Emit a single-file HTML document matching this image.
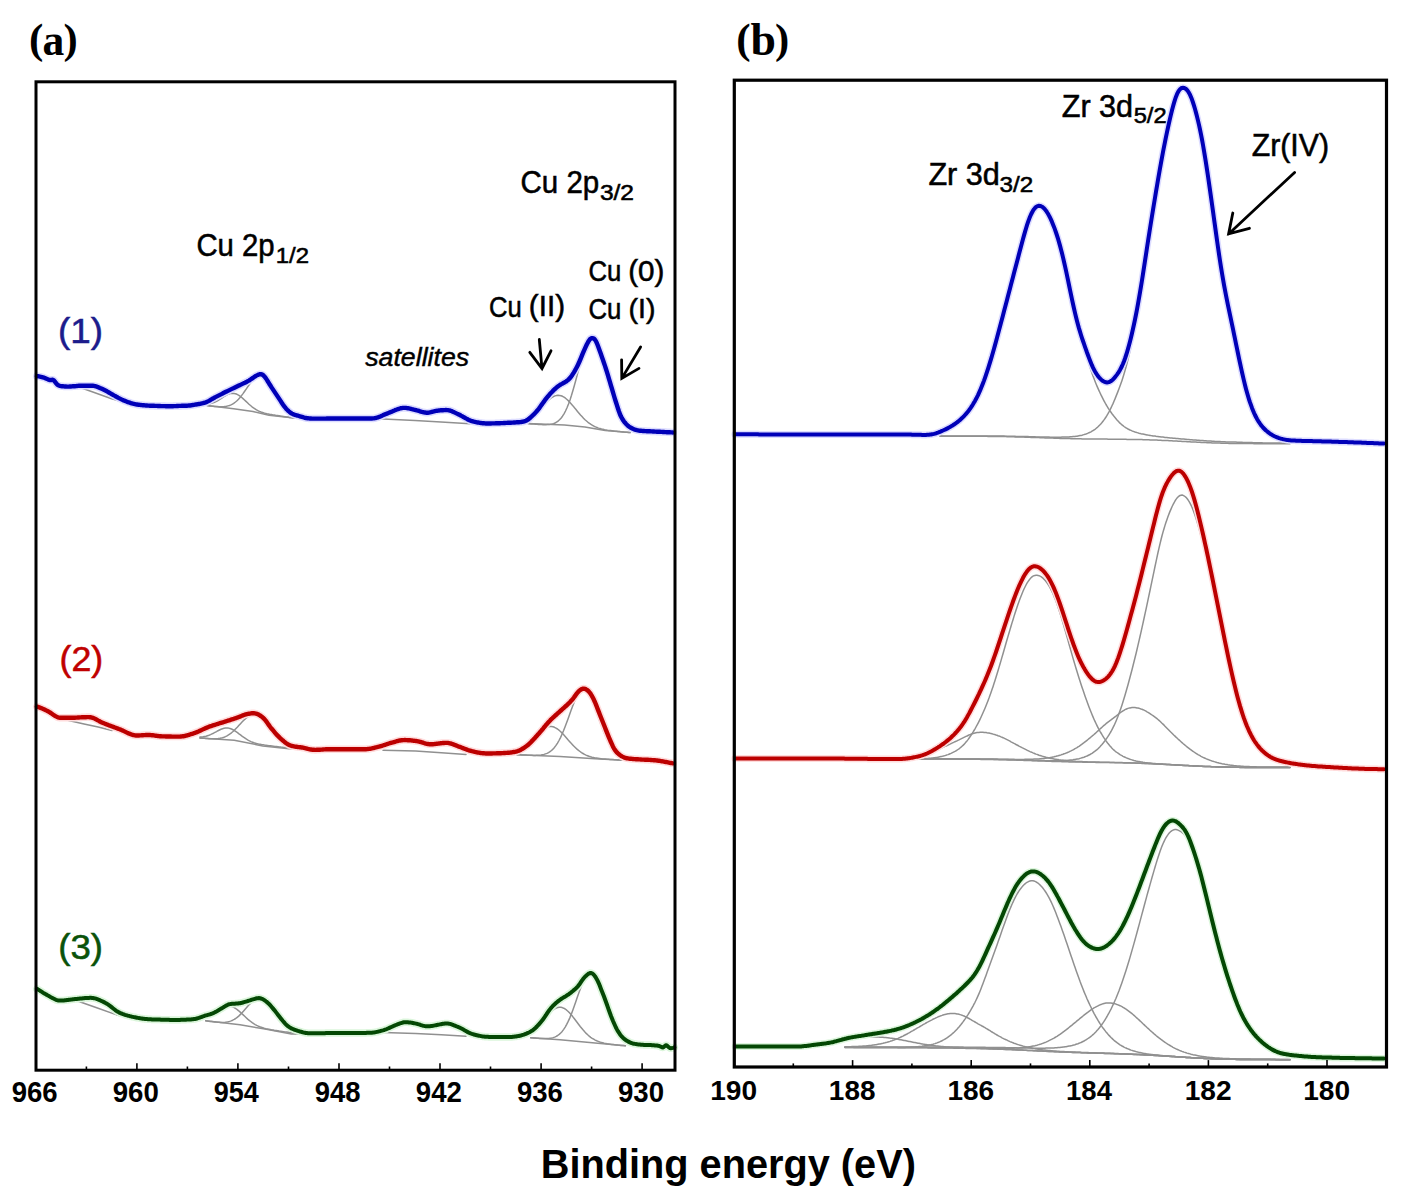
<!DOCTYPE html>
<html><head><meta charset="utf-8"><style>
html,body{margin:0;padding:0;background:#fff;}
svg{display:block;}


</style></head><body>
<svg width="1402" height="1200" viewBox="0 0 1402 1200">
<rect width="1402" height="1200" fill="#fff"/>
<polyline points="75.0,386.5 83.0,388.5 97.0,393.5 111.6,398.8 125.0,402.5" fill="none" stroke="#909090" stroke-width="1.5" stroke-linejoin="round" stroke-linecap="round" />
<polyline points="207.0,405.5 233.6,408.8 253.0,411.6 269.0,415.2 294.0,418.0" fill="none" stroke="#909090" stroke-width="1.5" stroke-linejoin="round" stroke-linecap="round" />
<polyline points="207.0,405.5 208.5,405.7 210.0,405.9 211.5,406.1 213.0,406.2 214.5,406.4 216.0,406.5 217.5,406.6 219.0,406.7 220.5,406.8 222.0,406.8 223.5,406.7 225.0,406.5 226.5,406.3 228.0,405.9 229.5,405.5 231.0,404.9 232.5,404.1 234.0,403.1 235.5,402.0 237.0,400.7 238.5,399.2 240.0,397.5 241.5,395.6 243.0,393.6 244.5,391.5 246.0,389.3 247.5,387.1 249.0,385.0 250.5,382.9 252.0,381.0 253.5,379.4 255.0,378.0 256.5,376.9 258.0,376.2 259.5,376.0 261.0,376.1 262.5,376.7 264.0,377.7 265.5,379.2 267.0,381.0 268.5,383.1 270.0,385.5 271.5,388.0 273.0,390.7 274.5,393.4 276.0,396.1 277.5,398.7 279.0,401.1 280.5,403.5 282.0,405.6 283.5,407.6 285.0,409.3 286.5,410.9 288.0,412.2 289.5,413.4 291.0,414.4 292.5,415.3 294.0,416.0 295.5,416.6" fill="none" stroke="#909090" stroke-width="1.5" stroke-linejoin="round" stroke-linecap="round" />
<polyline points="207.0,404.2 208.5,404.0 210.0,403.8 211.5,403.4 213.0,402.9 214.5,402.3 216.0,401.6 217.5,400.8 219.0,399.9 220.5,398.9 222.0,398.0 223.5,397.0 225.0,396.0 226.5,395.1 228.0,394.4 229.5,393.8 231.0,393.4 232.5,393.3 234.0,393.4 235.5,393.7 237.0,394.3 238.5,395.1 240.0,396.1 241.5,397.3 243.0,398.6 244.5,400.0 246.0,401.4 247.5,402.8 249.0,404.2 250.5,405.5 252.0,406.8 253.5,407.9 255.0,408.9 256.5,409.9 258.0,410.7 259.5,411.4 261.0,412.0 262.5,412.5 264.0,413.0 265.5,413.4 267.0,413.8 268.5,414.1 270.0,414.4 271.5,414.6 273.0,414.9 274.5,415.1 276.0,415.4 277.5,415.6 279.0,415.8 280.5,416.1 282.0,416.3 283.5,416.5 285.0,416.7 286.5,416.9 288.0,417.1 289.5,417.4 291.0,417.6 292.5,417.8 294.0,418.0" fill="none" stroke="#909090" stroke-width="1.5" stroke-linejoin="round" stroke-linecap="round" />
<polyline points="378.0,418.8 415.0,420.5 441.0,422.0 470.0,423.8" fill="none" stroke="#909090" stroke-width="1.5" stroke-linejoin="round" stroke-linecap="round" />
<polyline points="528.0,423.6 564.5,425.0 584.9,427.1 605.2,430.4 630.0,432.6" fill="none" stroke="#909090" stroke-width="1.5" stroke-linejoin="round" stroke-linecap="round" />
<polyline points="528.0,418.3 529.5,417.5 531.0,416.5 532.5,415.5 534.0,414.3 535.5,413.0 537.0,411.6 538.5,410.2 540.0,408.7 541.5,407.1 543.0,405.6 544.5,404.0 546.0,402.5 547.5,401.0 549.0,399.7 550.5,398.4 552.0,397.4 553.5,396.5 555.0,395.9 556.5,395.5 558.0,395.3 559.5,395.4 561.0,395.7 562.5,396.3 564.0,397.2 565.5,398.2 567.0,399.5 568.5,400.9 570.0,402.5 571.5,404.2 573.0,405.9 574.5,407.8 576.0,409.6 577.5,411.4 579.0,413.2 580.5,415.0 582.0,416.6 583.5,418.2 585.0,419.7 586.5,421.0 588.0,422.3 589.5,423.4 591.0,424.4 592.5,425.3 594.0,426.2 595.5,426.9 597.0,427.5 598.5,428.1 600.0,428.5 601.5,429.0 603.0,429.3 604.5,429.7 606.0,429.9 607.5,430.2 609.0,430.4 610.5,430.6 612.0,430.8 613.5,431.0 615.0,431.2 616.5,431.3 618.0,431.5 619.5,431.6 621.0,431.8 622.5,431.9 624.0,432.1 625.5,432.2 627.0,432.3 628.5,432.5 630.0,432.6" fill="none" stroke="#909090" stroke-width="1.5" stroke-linejoin="round" stroke-linecap="round" />
<polyline points="528.0,423.6 529.5,423.7 531.0,423.9 532.5,424.0 534.0,424.1 535.5,424.2 537.0,424.3 538.5,424.4 540.0,424.5 541.5,424.6 543.0,424.7 544.5,424.7 546.0,424.7 547.5,424.6 549.0,424.5 550.5,424.3 552.0,424.0 553.5,423.6 555.0,423.0 556.5,422.2 558.0,421.1 559.5,419.8 561.0,418.2 562.5,416.2 564.0,413.8 565.5,411.0 567.0,407.7 568.5,404.0 570.0,399.9 571.5,395.3 573.0,390.3 574.5,385.0 576.0,379.5 577.5,373.9 579.0,368.3 580.5,362.8 582.0,357.6 583.5,352.8 585.0,348.6 586.5,345.2 588.0,342.5 589.5,340.8 591.0,340.1 592.5,340.4 594.0,341.5 595.5,343.4 597.0,346.0 598.5,349.3 600.0,353.3 601.5,357.7 603.0,362.5 604.5,367.6 606.0,372.9 607.5,378.2 609.0,383.6 610.5,388.8 612.0,393.8 613.5,398.5 615.0,402.9 616.5,407.0 618.0,410.8 619.5,414.1 621.0,417.1 622.5,419.7 624.0,422.0 625.5,424.0 627.0,425.7 628.5,427.1 630.0,428.4 631.5,429.4" fill="none" stroke="#909090" stroke-width="1.5" stroke-linejoin="round" stroke-linecap="round" />
<polyline points="62.0,718.5 69.7,720.7 84.0,724.0 98.2,727.1 112.0,730.5" fill="none" stroke="#909090" stroke-width="1.5" stroke-linejoin="round" stroke-linecap="round" />
<polyline points="200.0,737.9 234.2,740.2 262.8,745.9 289.0,748.8 300.0,749.2" fill="none" stroke="#909090" stroke-width="1.5" stroke-linejoin="round" stroke-linecap="round" />
<polyline points="200.0,737.9 201.5,738.0 203.0,738.2 204.5,738.3 206.0,738.5 207.5,738.6 209.0,738.7 210.5,738.8 212.0,738.8 213.5,738.8 215.0,738.8 216.5,738.7 218.0,738.6 219.5,738.4 221.0,738.1 222.5,737.7 224.0,737.2 225.5,736.6 227.0,735.8 228.5,734.9 230.0,733.9 231.5,732.8 233.0,731.5 234.5,730.1 236.0,728.5 237.5,727.0 239.0,725.3 240.5,723.7 242.0,722.1 243.5,720.5 245.0,719.1 246.5,717.8 248.0,716.7 249.5,715.9 251.0,715.3 252.5,715.0 254.0,715.0 255.5,715.3 257.0,715.8 258.5,716.6 260.0,717.6 261.5,718.9 263.0,720.3 264.5,721.8 266.0,723.5 267.5,725.2 269.0,727.0 270.5,728.8 272.0,730.6 273.5,732.4 275.0,734.1 276.5,735.8 278.0,737.3 279.5,738.7 281.0,740.1 282.5,741.3 284.0,742.4 285.5,743.4 287.0,744.3 288.5,745.1 290.0,745.8 291.5,746.4 293.0,746.9 294.5,747.4 296.0,747.8 297.5,748.2 299.0,748.5" fill="none" stroke="#909090" stroke-width="1.5" stroke-linejoin="round" stroke-linecap="round" />
<polyline points="200.0,737.0 201.5,736.9 203.0,736.8 204.5,736.5 206.0,736.2 207.5,735.7 209.0,735.2 210.5,734.6 212.0,733.9 213.5,733.2 215.0,732.4 216.5,731.6 218.0,730.7 219.5,730.0 221.0,729.3 222.5,728.7 224.0,728.3 225.5,728.1 227.0,728.0 228.5,728.1 230.0,728.5 231.5,729.0 233.0,729.7 234.5,730.6 236.0,731.6 237.5,732.6 239.0,733.8 240.5,734.9 242.0,736.1 243.5,737.2 245.0,738.2 246.5,739.2 248.0,740.1 249.5,740.9 251.0,741.6 252.5,742.2 254.0,742.8 255.5,743.2 257.0,743.6 258.5,744.0 260.0,744.3 261.5,744.6 263.0,744.8 264.5,745.1 266.0,745.3 267.5,745.5 269.0,745.7 270.5,745.8 272.0,746.0 273.5,746.2 275.0,746.4 276.5,746.5 278.0,746.7 279.5,746.9 281.0,747.1 282.5,747.2 284.0,747.4 285.5,747.6 287.0,747.7 288.5,747.9 290.0,748.1 291.5,748.2 293.0,748.4 294.5,748.6 296.0,748.7 297.5,748.9 299.0,749.1" fill="none" stroke="#909090" stroke-width="1.5" stroke-linejoin="round" stroke-linecap="round" />
<polyline points="383.0,750.3 415.6,750.9 441.3,752.8 466.0,754.4" fill="none" stroke="#909090" stroke-width="1.5" stroke-linejoin="round" stroke-linecap="round" />
<polyline points="517.0,754.7 560.0,756.5 595.0,758.8 624.0,760.2" fill="none" stroke="#909090" stroke-width="1.5" stroke-linejoin="round" stroke-linecap="round" />
<polyline points="517.0,751.1 518.5,750.5 520.0,749.7 521.5,748.9 523.0,747.9 524.5,746.8 526.0,745.6 527.5,744.4 529.0,743.0 530.5,741.5 532.0,740.0 533.5,738.5 535.0,736.9 536.5,735.3 538.0,733.8 539.5,732.3 541.0,731.0 542.5,729.7 544.0,728.7 545.5,727.8 547.0,727.1 548.5,726.7 550.0,726.5 551.5,726.5 553.0,726.8 554.5,727.3 556.0,728.1 557.5,729.0 559.0,730.2 560.5,731.5 562.0,733.0 563.5,734.6 565.0,736.2 566.5,737.9 568.0,739.7 569.5,741.4 571.0,743.1 572.5,744.7 574.0,746.3 575.5,747.7 577.0,749.1 578.5,750.4 580.0,751.5 581.5,752.6 583.0,753.5 584.5,754.4 586.0,755.1 587.5,755.7 589.0,756.3 590.5,756.8 592.0,757.2 593.5,757.5 595.0,757.9 596.5,758.1 598.0,758.3 599.5,758.5 601.0,758.7 602.5,758.9 604.0,759.0 605.5,759.1 607.0,759.2 608.5,759.3 610.0,759.4 611.5,759.5 613.0,759.6 614.5,759.7 616.0,759.8 617.5,759.9 619.0,759.9 620.5,760.0 622.0,760.1 623.5,760.2" fill="none" stroke="#909090" stroke-width="1.5" stroke-linejoin="round" stroke-linecap="round" />
<polyline points="517.0,754.7 518.5,754.8 520.0,754.8 521.5,754.9 523.0,755.0 524.5,755.1 526.0,755.1 527.5,755.2 529.0,755.2 530.5,755.3 532.0,755.3 533.5,755.4 535.0,755.4 536.5,755.3 538.0,755.3 539.5,755.2 541.0,755.0 542.5,754.7 544.0,754.4 545.5,753.9 547.0,753.4 548.5,752.6 550.0,751.7 551.5,750.5 553.0,749.1 554.5,747.4 556.0,745.4 557.5,743.1 559.0,740.5 560.5,737.6 562.0,734.3 563.5,730.8 565.0,727.0 566.5,723.0 568.0,718.9 569.5,714.7 571.0,710.5 572.5,706.5 574.0,702.7 575.5,699.3 577.0,696.2 578.5,693.7 580.0,691.8 581.5,690.6 583.0,690.1 584.5,690.3 586.0,691.1 587.5,692.6 589.0,694.8 590.5,697.4 592.0,700.6 593.5,704.1 595.0,708.0 596.5,712.0 598.0,716.2 599.5,720.4 601.0,724.5 602.5,728.5 604.0,732.4 605.5,736.0 607.0,739.3 608.5,742.4 610.0,745.1 611.5,747.6 613.0,749.7 614.5,751.6 616.0,753.2 617.5,754.6 619.0,755.7 620.5,756.7 622.0,757.5 623.5,758.1 625.0,758.7" fill="none" stroke="#909090" stroke-width="1.5" stroke-linejoin="round" stroke-linecap="round" />
<polyline points="70.0,999.5 76.8,1000.7 96.0,1007.5 116.7,1014.9 128.0,1017.2" fill="none" stroke="#909090" stroke-width="1.5" stroke-linejoin="round" stroke-linecap="round" />
<polyline points="205.7,1020.8 240.0,1024.8 265.0,1029.0 291.3,1033.9 300.0,1034.0" fill="none" stroke="#909090" stroke-width="1.5" stroke-linejoin="round" stroke-linecap="round" />
<polyline points="205.7,1020.8 207.2,1021.0 208.7,1021.2 210.2,1021.4 211.7,1021.6 213.2,1021.8 214.7,1021.9 216.2,1022.1 217.7,1022.2 219.2,1022.3 220.7,1022.4 222.2,1022.4 223.7,1022.4 225.2,1022.3 226.7,1022.1 228.2,1021.8 229.7,1021.4 231.2,1020.9 232.7,1020.2 234.2,1019.4 235.7,1018.5 237.2,1017.3 238.7,1016.1 240.2,1014.6 241.7,1013.1 243.2,1011.4 244.7,1009.7 246.2,1008.0 247.7,1006.2 249.2,1004.6 250.7,1003.1 252.2,1001.8 253.7,1000.7 255.2,999.9 256.7,999.4 258.2,999.2 259.7,999.4 261.2,999.9 262.7,1000.6 264.2,1001.6 265.7,1002.8 267.2,1004.2 268.7,1005.8 270.2,1007.5 271.7,1009.3 273.2,1011.2 274.7,1013.1 276.2,1015.0 277.7,1016.9 279.2,1018.7 280.7,1020.4 282.2,1022.0 283.7,1023.6 285.2,1025.0 286.7,1026.3 288.2,1027.4 289.7,1028.5 291.2,1029.4 292.7,1030.2 294.2,1031.0 295.7,1031.6 297.2,1032.2 298.7,1032.7" fill="none" stroke="#909090" stroke-width="1.5" stroke-linejoin="round" stroke-linecap="round" />
<polyline points="205.7,1017.2 207.2,1016.7 208.7,1016.0 210.2,1015.3 211.7,1014.5 213.2,1013.6 214.7,1012.6 216.2,1011.6 217.7,1010.6 219.2,1009.6 220.7,1008.7 222.2,1007.9 223.7,1007.2 225.2,1006.6 226.7,1006.3 228.2,1006.1 229.7,1006.2 231.2,1006.4 232.7,1006.9 234.2,1007.6 235.7,1008.5 237.2,1009.6 238.7,1010.8 240.2,1012.1 241.7,1013.5 243.2,1014.9 244.7,1016.3 246.2,1017.7 247.7,1019.1 249.2,1020.3 250.7,1021.5 252.2,1022.7 253.7,1023.7 255.2,1024.6 256.7,1025.4 258.2,1026.1 259.7,1026.8 261.2,1027.3 262.7,1027.8 264.2,1028.3 265.7,1028.7 267.2,1029.0 268.7,1029.3 270.2,1029.6 271.7,1029.9 273.2,1030.1 274.7,1030.4 276.2,1030.6 277.7,1030.8 279.2,1031.1 280.7,1031.3 282.2,1031.5 283.7,1031.7 285.2,1031.9 286.7,1032.1 288.2,1032.3 289.7,1032.6 291.2,1032.8 292.7,1033.0 294.2,1033.2 295.7,1033.4 297.2,1033.6 298.7,1033.8" fill="none" stroke="#909090" stroke-width="1.5" stroke-linejoin="round" stroke-linecap="round" />
<polyline points="383.0,1032.6 415.6,1033.6 441.3,1034.8 466.0,1036.3" fill="none" stroke="#909090" stroke-width="1.5" stroke-linejoin="round" stroke-linecap="round" />
<polyline points="530.7,1037.7 560.0,1039.8 595.0,1043.0 625.5,1045.8" fill="none" stroke="#909090" stroke-width="1.5" stroke-linejoin="round" stroke-linecap="round" />
<polyline points="530.7,1031.9 532.2,1030.9 533.7,1029.8 535.2,1028.6 536.7,1027.3 538.2,1025.8 539.7,1024.3 541.2,1022.7 542.7,1021.0 544.2,1019.2 545.7,1017.5 547.2,1015.7 548.7,1014.1 550.2,1012.5 551.7,1011.1 553.2,1009.9 554.7,1008.8 556.2,1008.0 557.7,1007.5 559.2,1007.2 560.7,1007.3 562.2,1007.6 563.7,1008.2 565.2,1009.0 566.7,1010.2 568.2,1011.5 569.7,1013.1 571.2,1014.8 572.7,1016.6 574.2,1018.5 575.7,1020.5 577.2,1022.5 578.7,1024.5 580.2,1026.5 581.7,1028.3 583.2,1030.1 584.7,1031.8 586.2,1033.4 587.7,1034.8 589.2,1036.1 590.7,1037.3 592.2,1038.3 593.7,1039.2 595.2,1040.1 596.7,1040.8 598.2,1041.4 599.7,1042.0 601.2,1042.4 602.7,1042.8 604.2,1043.2 605.7,1043.5 607.2,1043.8 608.7,1044.0 610.2,1044.2 611.7,1044.4 613.2,1044.6 614.7,1044.8 616.2,1044.9 617.7,1045.1 619.2,1045.2 620.7,1045.4 622.2,1045.5 623.7,1045.6 625.2,1045.8" fill="none" stroke="#909090" stroke-width="1.5" stroke-linejoin="round" stroke-linecap="round" />
<polyline points="530.7,1037.7 532.2,1037.8 533.7,1037.9 535.2,1038.0 536.7,1038.2 538.2,1038.3 539.7,1038.4 541.2,1038.4 542.7,1038.5 544.2,1038.5 545.7,1038.5 547.2,1038.5 548.7,1038.4 550.2,1038.2 551.7,1038.0 553.2,1037.6 554.7,1037.1 556.2,1036.4 557.7,1035.5 559.2,1034.4 560.7,1033.0 562.2,1031.4 563.7,1029.4 565.2,1027.1 566.7,1024.4 568.2,1021.4 569.7,1018.1 571.2,1014.4 572.7,1010.4 574.2,1006.3 575.7,1002.0 577.2,997.6 578.7,993.3 580.2,989.2 581.7,985.3 583.2,981.8 584.7,978.9 586.2,976.5 587.7,974.8 589.2,973.9 590.7,973.7 592.2,974.2 593.7,975.4 595.2,977.2 596.7,979.5 598.2,982.3 599.7,985.6 601.2,989.2 602.7,993.1 604.2,997.1 605.7,1001.3 607.2,1005.5 608.7,1009.6 610.2,1013.6 611.7,1017.4 613.2,1021.0 614.7,1024.3 616.2,1027.4 617.7,1030.1 619.2,1032.6 620.7,1034.9 622.2,1036.8 623.7,1038.5 625.2,1039.9 626.7,1041.2" fill="none" stroke="#909090" stroke-width="1.5" stroke-linejoin="round" stroke-linecap="round" />
<polyline points="940.0,436.2 941.0,436.2 942.0,436.2 943.0,436.2 944.0,436.2 945.0,436.2 946.0,436.2 947.0,436.2 948.0,436.2 949.0,436.2 950.0,436.2 951.0,436.2 952.0,436.2 953.0,436.2 954.0,436.2 955.0,436.2 956.0,436.2 957.0,436.2 958.0,436.2 959.0,436.2 960.0,436.2 961.0,436.2 962.0,436.2 963.0,436.2 964.0,436.2 965.0,436.2 966.0,436.2 967.0,436.2 968.0,436.2 969.0,436.2 970.0,436.2 971.0,436.2 972.0,436.2 973.0,436.2 974.0,436.2 975.0,436.3 976.0,436.3 977.0,436.3 978.0,436.3 979.0,436.3 980.0,436.3 981.0,436.3 982.0,436.3 983.0,436.3 984.0,436.3 985.0,436.3 986.0,436.3 987.0,436.3 988.0,436.4 989.0,436.4 990.0,436.4 991.0,436.4 992.0,436.4 993.0,436.4 994.0,436.4 995.0,436.4 996.0,436.5 997.0,436.5 998.0,436.5 999.0,436.5 1000.0,436.5 1001.0,436.5 1002.0,436.6 1003.0,436.6 1004.0,436.6 1005.0,436.6 1006.0,436.6 1007.0,436.7 1008.0,436.7 1009.0,436.7 1010.0,436.7 1011.0,436.8 1012.0,436.8 1013.0,436.8 1014.0,436.8 1015.0,436.9 1016.0,436.9 1017.0,436.9 1018.0,436.9 1019.0,437.0 1020.0,437.0 1021.0,437.0 1022.0,437.1 1023.0,437.1 1024.0,437.1 1025.0,437.2 1026.0,437.2 1027.0,437.2 1028.0,437.3 1029.0,437.3 1030.0,437.3 1031.0,437.4 1032.0,437.4 1033.0,437.4 1034.0,437.5 1035.0,437.5 1036.0,437.5 1037.0,437.6 1038.0,437.6 1039.0,437.6 1040.0,437.7 1041.0,437.7 1042.0,437.8 1043.0,437.8 1044.0,437.8 1045.0,437.9 1046.0,437.9 1047.0,437.9 1048.0,438.0 1049.0,438.0 1050.0,438.0 1051.0,438.1 1052.0,438.1 1053.0,438.1 1054.0,438.2 1055.0,438.2 1056.0,438.2 1057.0,438.3 1058.0,438.3 1059.0,438.3 1060.0,438.4 1061.0,438.4 1062.0,438.4 1063.0,438.4 1064.0,438.5 1065.0,438.5 1066.0,438.5 1067.0,438.6 1068.0,438.6 1069.0,438.6 1070.0,438.6 1071.0,438.7 1072.0,438.7 1073.0,438.7 1074.0,438.7 1075.0,438.7 1076.0,438.8 1077.0,438.8 1078.0,438.8 1079.0,438.8 1080.0,438.8 1081.0,438.8 1082.0,438.9 1083.0,438.9 1084.0,438.9 1085.0,438.9 1086.0,438.9 1087.0,438.9 1088.0,439.0 1089.0,439.0 1090.0,439.0 1091.0,439.0 1092.0,439.0 1093.0,439.0 1094.0,439.0 1095.0,439.0 1096.0,439.0 1097.0,439.1 1098.0,439.1 1099.0,439.1 1100.0,439.1 1101.0,439.1 1102.0,439.1 1103.0,439.1 1104.0,439.1 1105.0,439.1 1106.0,439.1 1107.0,439.1 1108.0,439.2 1109.0,439.2 1110.0,439.2 1111.0,439.2 1112.0,439.2 1113.0,439.2 1114.0,439.2 1115.0,439.2 1116.0,439.2 1117.0,439.2 1118.0,439.2 1119.0,439.3 1120.0,439.3 1121.0,439.3 1122.0,439.3 1123.0,439.3 1124.0,439.3 1125.0,439.3 1126.0,439.3 1127.0,439.4 1128.0,439.4 1129.0,439.4 1130.0,439.4 1131.0,439.4 1132.0,439.4 1133.0,439.5 1134.0,439.5 1135.0,439.5 1136.0,439.5 1137.0,439.5 1138.0,439.6 1139.0,439.6 1140.0,439.6 1141.0,439.6 1142.0,439.6 1143.0,439.7 1144.0,439.7 1145.0,439.7 1146.0,439.8 1147.0,439.8 1148.0,439.8 1149.0,439.8 1150.0,439.9 1151.0,439.9 1152.0,439.9 1153.0,440.0 1154.0,440.0 1155.0,440.1 1156.0,440.1 1157.0,440.1 1158.0,440.2 1159.0,440.2 1160.0,440.3 1161.0,440.3 1162.0,440.4 1163.0,440.4 1164.0,440.4 1165.0,440.5 1166.0,440.5 1167.0,440.6 1168.0,440.6 1169.0,440.7 1170.0,440.7 1171.0,440.8 1172.0,440.8 1173.0,440.9 1174.0,440.9 1175.0,441.0 1176.0,441.1 1177.0,441.1 1178.0,441.2 1179.0,441.2 1180.0,441.3 1181.0,441.3 1182.0,441.4 1183.0,441.4 1184.0,441.5 1185.0,441.6 1186.0,441.6 1187.0,441.7 1188.0,441.7 1189.0,441.8 1190.0,441.8 1191.0,441.9 1192.0,441.9 1193.0,442.0 1194.0,442.0 1195.0,442.1 1196.0,442.1 1197.0,442.2 1198.0,442.2 1199.0,442.3 1200.0,442.3 1201.0,442.4 1202.0,442.4 1203.0,442.5 1204.0,442.5 1205.0,442.6 1206.0,442.6 1207.0,442.7 1208.0,442.7 1209.0,442.7 1210.0,442.8 1211.0,442.8 1212.0,442.9 1213.0,442.9 1214.0,442.9 1215.0,443.0 1216.0,443.0 1217.0,443.0 1218.0,443.1 1219.0,443.1 1220.0,443.1 1221.0,443.2 1222.0,443.2 1223.0,443.2 1224.0,443.2 1225.0,443.3 1226.0,443.3 1227.0,443.3 1228.0,443.3 1229.0,443.4 1230.0,443.4 1231.0,443.4 1232.0,443.4 1233.0,443.4 1234.0,443.4 1235.0,443.5 1236.0,443.5 1237.0,443.5 1238.0,443.5 1239.0,443.5 1240.0,443.5 1241.0,443.5 1242.0,443.6 1243.0,443.6 1244.0,443.6 1245.0,443.6 1246.0,443.6 1247.0,443.6 1248.0,443.6 1249.0,443.6 1250.0,443.6 1251.0,443.6 1252.0,443.6 1253.0,443.6 1254.0,443.7 1255.0,443.7 1256.0,443.7 1257.0,443.7 1258.0,443.7 1259.0,443.7 1260.0,443.7 1261.0,443.7 1262.0,443.7 1263.0,443.7 1264.0,443.7 1265.0,443.7 1266.0,443.7 1267.0,443.7 1268.0,443.7 1269.0,443.7 1270.0,443.7 1271.0,443.7 1272.0,443.7 1273.0,443.7 1274.0,443.7 1275.0,443.7 1276.0,443.7 1277.0,443.7 1278.0,443.7 1279.0,443.7 1280.0,443.7 1281.0,443.7 1282.0,443.7 1283.0,443.7 1284.0,443.7 1285.0,443.7 1286.0,443.7 1287.0,443.7 1288.0,443.7 1289.0,443.7 1290.0,443.7" fill="none" stroke="#909090" stroke-width="1.5" stroke-linejoin="round" stroke-linecap="round" />
<polyline points="940.0,431.9 941.0,431.5 942.0,431.1 943.0,430.7 944.0,430.3 945.0,429.8 946.0,429.3 947.0,428.8 948.0,428.3 949.0,427.8 950.0,427.2 951.0,426.6 952.0,426.0 953.0,425.4 954.0,424.8 955.0,424.1 956.0,423.4 957.0,422.6 958.0,421.9 959.0,421.1 960.0,420.2 961.0,419.3 962.0,418.4 963.0,417.4 964.0,416.4 965.0,415.4 966.0,414.2 967.0,413.1 968.0,411.8 969.0,410.5 970.0,409.1 971.0,407.7 972.0,406.2 973.0,404.6 974.0,403.0 975.0,401.2 976.0,399.4 977.0,397.4 978.0,395.4 979.0,393.3 980.0,391.0 981.0,388.7 982.0,386.2 983.0,383.6 984.0,380.9 985.0,378.2 986.0,375.3 987.0,372.3 988.0,369.2 989.0,366.1 990.0,362.8 991.0,359.5 992.0,356.1 993.0,352.6 994.0,349.1 995.0,345.5 996.0,341.9 997.0,338.2 998.0,334.5 999.0,330.8 1000.0,327.0 1001.0,323.2 1002.0,319.4 1003.0,315.6 1004.0,311.8 1005.0,308.0 1006.0,304.2 1007.0,300.3 1008.0,296.5 1009.0,292.7 1010.0,288.9 1011.0,285.0 1012.0,281.2 1013.0,277.4 1014.0,273.6 1015.0,269.8 1016.0,266.0 1017.0,262.2 1018.0,258.4 1019.0,254.6 1020.0,250.8 1021.0,247.0 1022.0,243.3 1023.0,239.6 1024.0,235.9 1025.0,232.4 1026.0,229.1 1027.0,225.8 1028.0,222.8 1029.0,220.0 1030.0,217.4 1031.0,215.1 1032.0,213.1 1033.0,211.3 1034.0,209.9 1035.0,208.7 1036.0,207.7 1037.0,207.1 1038.0,206.7 1039.0,206.5 1040.0,206.6 1041.0,206.9 1042.0,207.5 1043.0,208.2 1044.0,209.1 1045.0,210.2 1046.0,211.5 1047.0,213.0 1048.0,214.6 1049.0,216.4 1050.0,218.4 1051.0,220.6 1052.0,222.9 1053.0,225.3 1054.0,227.9 1055.0,230.7 1056.0,233.6 1057.0,236.6 1058.0,239.8 1059.0,243.2 1060.0,246.8 1061.0,250.6 1062.0,254.6 1063.0,258.7 1064.0,263.1 1065.0,267.6 1066.0,272.2 1067.0,277.0 1068.0,281.8 1069.0,286.7 1070.0,291.6 1071.0,296.5 1072.0,301.3 1073.0,306.1 1074.0,310.7 1075.0,315.2 1076.0,319.5 1077.0,323.6 1078.0,327.6 1079.0,331.3 1080.0,334.9 1081.0,338.4 1082.0,341.7 1083.0,345.0 1084.0,348.2 1085.0,351.4 1086.0,354.6 1087.0,357.8 1088.0,361.0 1089.0,364.1 1090.0,367.2 1091.0,370.2 1092.0,373.2 1093.0,376.0 1094.0,378.6 1095.0,381.2 1096.0,383.7 1097.0,386.1 1098.0,388.4 1099.0,390.6 1100.0,392.7 1101.0,394.9 1102.0,396.9 1103.0,398.9 1104.0,400.8 1105.0,402.7 1106.0,404.5 1107.0,406.2 1108.0,407.8 1109.0,409.4 1110.0,410.9 1111.0,412.3 1112.0,413.7 1113.0,415.0 1114.0,416.3 1115.0,417.5 1116.0,418.7 1117.0,419.9 1118.0,421.0 1119.0,422.1 1120.0,423.1 1121.0,424.0 1122.0,424.9 1123.0,425.7 1124.0,426.5 1125.0,427.2 1126.0,427.8 1127.0,428.4 1128.0,429.0 1129.0,429.5 1130.0,430.0 1131.0,430.4 1132.0,430.9 1133.0,431.3 1134.0,431.6 1135.0,432.0 1136.0,432.3 1137.0,432.6 1138.0,432.9 1139.0,433.2 1140.0,433.4 1141.0,433.7 1142.0,433.9 1143.0,434.1 1144.0,434.3 1145.0,434.5 1146.0,434.7 1147.0,434.9 1148.0,435.1 1149.0,435.2 1150.0,435.4 1151.0,435.6 1152.0,435.7 1153.0,435.9 1154.0,436.0 1155.0,436.1 1156.0,436.3 1157.0,436.4 1158.0,436.5 1159.0,436.7 1160.0,436.8 1161.0,436.9 1162.0,437.0 1163.0,437.1 1164.0,437.2 1165.0,437.4 1166.0,437.5 1167.0,437.6 1168.0,437.7 1169.0,437.8 1170.0,437.9 1171.0,438.0 1172.0,438.1 1173.0,438.2 1174.0,438.2 1175.0,438.3 1176.0,438.4 1177.0,438.5 1178.0,438.6 1179.0,438.7 1180.0,438.8 1181.0,438.9 1182.0,439.0 1183.0,439.1 1184.0,439.1 1185.0,439.2 1186.0,439.3 1187.0,439.4 1188.0,439.5 1189.0,439.6 1190.0,439.7 1191.0,439.7 1192.0,439.8 1193.0,439.9 1194.0,440.0 1195.0,440.0 1196.0,440.1 1197.0,440.2 1198.0,440.3 1199.0,440.3 1200.0,440.4 1201.0,440.5 1202.0,440.5 1203.0,440.6 1204.0,440.7 1205.0,440.8 1206.0,440.8 1207.0,440.9 1208.0,440.9 1209.0,441.0 1210.0,441.1 1211.0,441.1 1212.0,441.2 1213.0,441.3 1214.0,441.3 1215.0,441.4 1216.0,441.4 1217.0,441.5 1218.0,441.5 1219.0,441.6 1220.0,441.6 1221.0,441.7 1222.0,441.7 1223.0,441.8 1224.0,441.8 1225.0,441.8 1226.0,441.9 1227.0,441.9 1228.0,441.9 1229.0,442.0 1230.0,442.0 1231.0,442.0 1232.0,442.0 1233.0,442.1 1234.0,442.1 1235.0,442.1 1236.0,442.1 1237.0,442.2 1238.0,442.2 1239.0,442.2 1240.0,442.3 1241.0,442.3 1242.0,442.3 1243.0,442.4 1244.0,442.4 1245.0,442.4 1246.0,442.5 1247.0,442.5 1248.0,442.5 1249.0,442.6 1250.0,442.6 1251.0,442.6 1252.0,442.6 1253.0,442.7 1254.0,442.7 1255.0,442.7 1256.0,442.7 1257.0,442.8 1258.0,442.8 1259.0,442.8 1260.0,442.8 1261.0,442.8 1262.0,442.8 1263.0,442.9 1264.0,442.9 1265.0,442.9 1266.0,442.9 1267.0,442.9 1268.0,442.9 1269.0,442.9 1270.0,442.9 1271.0,442.9 1272.0,442.9 1273.0,442.9 1274.0,443.0 1275.0,443.0 1276.0,443.0 1277.0,443.0 1278.0,443.0 1279.0,443.0 1280.0,443.0 1281.0,443.0 1282.0,443.0 1283.0,443.0 1284.0,443.0 1285.0,443.0 1286.0,443.0 1287.0,443.0 1288.0,443.0 1289.0,443.0 1290.0,442.9" fill="none" stroke="#909090" stroke-width="1.5" stroke-linejoin="round" stroke-linecap="round" />
<polyline points="940.0,436.0 941.0,436.0 942.0,436.0 943.0,436.0 944.0,436.0 945.0,435.9 946.0,435.9 947.0,435.9 948.0,435.9 949.0,435.9 950.0,435.9 951.0,435.9 952.0,435.9 953.0,435.9 954.0,435.9 955.0,435.9 956.0,435.9 957.0,435.9 958.0,435.9 959.0,435.9 960.0,435.9 961.0,435.9 962.0,435.9 963.0,435.9 964.0,435.9 965.0,435.9 966.0,435.9 967.0,435.9 968.0,435.9 969.0,435.9 970.0,435.9 971.0,435.9 972.0,435.9 973.0,435.9 974.0,435.9 975.0,435.9 976.0,435.9 977.0,435.9 978.0,435.9 979.0,435.9 980.0,435.9 981.0,435.9 982.0,435.9 983.0,435.9 984.0,435.9 985.0,436.0 986.0,436.0 987.0,436.0 988.0,436.0 989.0,436.0 990.0,436.0 991.0,436.0 992.0,436.0 993.0,436.0 994.0,436.0 995.0,436.0 996.0,436.0 997.0,436.0 998.0,436.1 999.0,436.1 1000.0,436.1 1001.0,436.1 1002.0,436.1 1003.0,436.1 1004.0,436.1 1005.0,436.2 1006.0,436.2 1007.0,436.2 1008.0,436.2 1009.0,436.2 1010.0,436.2 1011.0,436.3 1012.0,436.3 1013.0,436.3 1014.0,436.3 1015.0,436.3 1016.0,436.4 1017.0,436.4 1018.0,436.4 1019.0,436.4 1020.0,436.5 1021.0,436.5 1022.0,436.5 1023.0,436.5 1024.0,436.6 1025.0,436.6 1026.0,436.6 1027.0,436.6 1028.0,436.6 1029.0,436.7 1030.0,436.7 1031.0,436.7 1032.0,436.8 1033.0,436.8 1034.0,436.8 1035.0,436.8 1036.0,436.9 1037.0,436.9 1038.0,436.9 1039.0,436.9 1040.0,437.0 1041.0,437.0 1042.0,437.0 1043.0,437.0 1044.0,437.1 1045.0,437.1 1046.0,437.1 1047.0,437.1 1048.0,437.1 1049.0,437.1 1050.0,437.2 1051.0,437.2 1052.0,437.2 1053.0,437.2 1054.0,437.2 1055.0,437.2 1056.0,437.2 1057.0,437.2 1058.0,437.2 1059.0,437.2 1060.0,437.2 1061.0,437.2 1062.0,437.1 1063.0,437.1 1064.0,437.1 1065.0,437.1 1066.0,437.0 1067.0,437.0 1068.0,437.0 1069.0,436.9 1070.0,436.8 1071.0,436.8 1072.0,436.7 1073.0,436.6 1074.0,436.5 1075.0,436.4 1076.0,436.3 1077.0,436.2 1078.0,436.0 1079.0,435.8 1080.0,435.6 1081.0,435.4 1082.0,435.2 1083.0,434.9 1084.0,434.6 1085.0,434.3 1086.0,434.0 1087.0,433.6 1088.0,433.2 1089.0,432.7 1090.0,432.3 1091.0,431.8 1092.0,431.2 1093.0,430.6 1094.0,430.0 1095.0,429.3 1096.0,428.5 1097.0,427.7 1098.0,426.8 1099.0,425.8 1100.0,424.8 1101.0,423.7 1102.0,422.5 1103.0,421.2 1104.0,419.9 1105.0,418.5 1106.0,417.0 1107.0,415.4 1108.0,413.7 1109.0,411.9 1110.0,410.0 1111.0,407.9 1112.0,405.8 1113.0,403.6 1114.0,401.2 1115.0,398.9 1116.0,396.4 1117.0,393.9 1118.0,391.4 1119.0,388.8 1120.0,386.1 1121.0,383.3 1122.0,380.4 1123.0,377.3 1124.0,374.0 1125.0,370.6 1126.0,367.0 1127.0,363.2 1128.0,359.3 1129.0,355.1 1130.0,350.9 1131.0,346.4 1132.0,341.8 1133.0,337.0 1134.0,332.1 1135.0,327.0 1136.0,321.7 1137.0,316.2 1138.0,310.5 1139.0,304.6 1140.0,298.6 1141.0,292.3 1142.0,285.9 1143.0,279.4 1144.0,272.8 1145.0,266.1 1146.0,259.4 1147.0,252.7 1148.0,246.1 1149.0,239.5 1150.0,233.0 1151.0,226.6 1152.0,220.3 1153.0,214.0 1154.0,207.8 1155.0,201.6 1156.0,195.5 1157.0,189.5 1158.0,183.6 1159.0,177.7 1160.0,171.9 1161.0,166.2 1162.0,160.7 1163.0,155.3 1164.0,150.0 1165.0,144.9 1166.0,139.9 1167.0,135.1 1168.0,130.5 1169.0,125.9 1170.0,121.5 1171.0,117.2 1172.0,113.1 1173.0,109.2 1174.0,105.6 1175.0,102.3 1176.0,99.3 1177.0,96.8 1178.0,94.7 1179.0,93.0 1180.0,91.7 1181.0,90.9 1182.0,90.4 1183.0,90.2 1184.0,90.3 1185.0,90.7 1186.0,91.3 1187.0,92.3 1188.0,93.6 1189.0,95.1 1190.0,97.0 1191.0,99.2 1192.0,101.7 1193.0,104.6 1194.0,107.7 1195.0,111.0 1196.0,114.6 1197.0,118.5 1198.0,122.6 1199.0,126.9 1200.0,131.4 1201.0,136.3 1202.0,141.4 1203.0,146.9 1204.0,152.6 1205.0,158.6 1206.0,164.9 1207.0,171.4 1208.0,178.0 1209.0,184.8 1210.0,191.8 1211.0,198.8 1212.0,205.9 1213.0,213.1 1214.0,220.3 1215.0,227.5 1216.0,234.7 1217.0,241.8 1218.0,248.8 1219.0,255.6 1220.0,262.2 1221.0,268.6 1222.0,274.8 1223.0,280.6 1224.0,286.2 1225.0,291.6 1226.0,296.8 1227.0,301.8 1228.0,306.7 1229.0,311.5 1230.0,316.3 1231.0,321.0 1232.0,325.8 1233.0,330.6 1234.0,335.4 1235.0,340.3 1236.0,345.1 1237.0,350.0 1238.0,354.8 1239.0,359.6 1240.0,364.3 1241.0,368.9 1242.0,373.5 1243.0,377.8 1244.0,382.1 1245.0,386.1 1246.0,390.0 1247.0,393.7 1248.0,397.1 1249.0,400.4 1250.0,403.4 1251.0,406.3 1252.0,408.9 1253.0,411.4 1254.0,413.7 1255.0,415.9 1256.0,417.9 1257.0,419.8 1258.0,421.5 1259.0,423.1 1260.0,424.6 1261.0,425.9 1262.0,427.2 1263.0,428.3 1264.0,429.4 1265.0,430.4 1266.0,431.3 1267.0,432.1 1268.0,432.9 1269.0,433.7 1270.0,434.4 1271.0,435.1 1272.0,435.7 1273.0,436.2 1274.0,436.8 1275.0,437.2 1276.0,437.7 1277.0,438.1 1278.0,438.5 1279.0,438.8 1280.0,439.1 1281.0,439.4 1282.0,439.7 1283.0,439.9 1284.0,440.1 1285.0,440.3 1286.0,440.5 1287.0,440.7 1288.0,440.8 1289.0,441.0 1290.0,441.1" fill="none" stroke="#909090" stroke-width="1.5" stroke-linejoin="round" stroke-linecap="round" />
<polyline points="915.0,759.0 916.0,759.0 917.0,759.0 918.0,759.0 919.0,759.0 920.0,759.0 921.0,759.0 922.0,759.0 923.0,759.0 924.0,759.0 925.0,759.1 926.0,759.1 927.0,759.1 928.0,759.1 929.0,759.1 930.0,759.1 931.0,759.1 932.0,759.1 933.0,759.1 934.0,759.1 935.0,759.1 936.0,759.1 937.0,759.1 938.0,759.1 939.0,759.1 940.0,759.1 941.0,759.1 942.0,759.1 943.0,759.1 944.0,759.1 945.0,759.1 946.0,759.1 947.0,759.1 948.0,759.1 949.0,759.1 950.0,759.1 951.0,759.1 952.0,759.1 953.0,759.1 954.0,759.1 955.0,759.1 956.0,759.1 957.0,759.1 958.0,759.1 959.0,759.2 960.0,759.2 961.0,759.2 962.0,759.2 963.0,759.2 964.0,759.2 965.0,759.2 966.0,759.2 967.0,759.2 968.0,759.2 969.0,759.2 970.0,759.2 971.0,759.2 972.0,759.3 973.0,759.3 974.0,759.3 975.0,759.3 976.0,759.3 977.0,759.3 978.0,759.3 979.0,759.3 980.0,759.3 981.0,759.4 982.0,759.4 983.0,759.4 984.0,759.4 985.0,759.4 986.0,759.4 987.0,759.4 988.0,759.5 989.0,759.5 990.0,759.5 991.0,759.5 992.0,759.5 993.0,759.5 994.0,759.6 995.0,759.6 996.0,759.6 997.0,759.6 998.0,759.6 999.0,759.7 1000.0,759.7 1001.0,759.7 1002.0,759.7 1003.0,759.8 1004.0,759.8 1005.0,759.8 1006.0,759.8 1007.0,759.9 1008.0,759.9 1009.0,759.9 1010.0,759.9 1011.0,760.0 1012.0,760.0 1013.0,760.0 1014.0,760.1 1015.0,760.1 1016.0,760.1 1017.0,760.2 1018.0,760.2 1019.0,760.2 1020.0,760.2 1021.0,760.3 1022.0,760.3 1023.0,760.3 1024.0,760.4 1025.0,760.4 1026.0,760.4 1027.0,760.5 1028.0,760.5 1029.0,760.6 1030.0,760.6 1031.0,760.6 1032.0,760.7 1033.0,760.7 1034.0,760.7 1035.0,760.8 1036.0,760.8 1037.0,760.8 1038.0,760.9 1039.0,760.9 1040.0,761.0 1041.0,761.0 1042.0,761.0 1043.0,761.1 1044.0,761.1 1045.0,761.1 1046.0,761.2 1047.0,761.2 1048.0,761.2 1049.0,761.3 1050.0,761.3 1051.0,761.3 1052.0,761.4 1053.0,761.4 1054.0,761.4 1055.0,761.5 1056.0,761.5 1057.0,761.5 1058.0,761.6 1059.0,761.6 1060.0,761.6 1061.0,761.6 1062.0,761.7 1063.0,761.7 1064.0,761.7 1065.0,761.8 1066.0,761.8 1067.0,761.8 1068.0,761.8 1069.0,761.9 1070.0,761.9 1071.0,761.9 1072.0,761.9 1073.0,762.0 1074.0,762.0 1075.0,762.0 1076.0,762.0 1077.0,762.0 1078.0,762.1 1079.0,762.1 1080.0,762.1 1081.0,762.1 1082.0,762.1 1083.0,762.2 1084.0,762.2 1085.0,762.2 1086.0,762.2 1087.0,762.2 1088.0,762.2 1089.0,762.3 1090.0,762.3 1091.0,762.3 1092.0,762.3 1093.0,762.3 1094.0,762.3 1095.0,762.3 1096.0,762.4 1097.0,762.4 1098.0,762.4 1099.0,762.4 1100.0,762.4 1101.0,762.4 1102.0,762.5 1103.0,762.5 1104.0,762.5 1105.0,762.5 1106.0,762.5 1107.0,762.5 1108.0,762.5 1109.0,762.6 1110.0,762.6 1111.0,762.6 1112.0,762.6 1113.0,762.6 1114.0,762.6 1115.0,762.7 1116.0,762.7 1117.0,762.7 1118.0,762.7 1119.0,762.7 1120.0,762.8 1121.0,762.8 1122.0,762.8 1123.0,762.8 1124.0,762.9 1125.0,762.9 1126.0,762.9 1127.0,762.9 1128.0,763.0 1129.0,763.0 1130.0,763.0 1131.0,763.0 1132.0,763.1 1133.0,763.1 1134.0,763.1 1135.0,763.1 1136.0,763.2 1137.0,763.2 1138.0,763.2 1139.0,763.3 1140.0,763.3 1141.0,763.3 1142.0,763.4 1143.0,763.4 1144.0,763.5 1145.0,763.5 1146.0,763.5 1147.0,763.6 1148.0,763.6 1149.0,763.7 1150.0,763.7 1151.0,763.7 1152.0,763.8 1153.0,763.8 1154.0,763.9 1155.0,763.9 1156.0,764.0 1157.0,764.0 1158.0,764.1 1159.0,764.1 1160.0,764.2 1161.0,764.2 1162.0,764.2 1163.0,764.3 1164.0,764.4 1165.0,764.4 1166.0,764.5 1167.0,764.5 1168.0,764.6 1169.0,764.6 1170.0,764.7 1171.0,764.7 1172.0,764.8 1173.0,764.8 1174.0,764.9 1175.0,764.9 1176.0,765.0 1177.0,765.0 1178.0,765.1 1179.0,765.2 1180.0,765.2 1181.0,765.3 1182.0,765.3 1183.0,765.4 1184.0,765.4 1185.0,765.5 1186.0,765.5 1187.0,765.6 1188.0,765.6 1189.0,765.7 1190.0,765.7 1191.0,765.8 1192.0,765.8 1193.0,765.9 1194.0,765.9 1195.0,766.0 1196.0,766.0 1197.0,766.1 1198.0,766.1 1199.0,766.2 1200.0,766.2 1201.0,766.3 1202.0,766.3 1203.0,766.4 1204.0,766.4 1205.0,766.5 1206.0,766.5 1207.0,766.5 1208.0,766.6 1209.0,766.6 1210.0,766.6 1211.0,766.7 1212.0,766.7 1213.0,766.8 1214.0,766.8 1215.0,766.8 1216.0,766.9 1217.0,766.9 1218.0,766.9 1219.0,766.9 1220.0,767.0 1221.0,767.0 1222.0,767.0 1223.0,767.0 1224.0,767.1 1225.0,767.1 1226.0,767.1 1227.0,767.1 1228.0,767.2 1229.0,767.2 1230.0,767.2 1231.0,767.2 1232.0,767.2 1233.0,767.3 1234.0,767.3 1235.0,767.3 1236.0,767.3 1237.0,767.3 1238.0,767.3 1239.0,767.3 1240.0,767.4 1241.0,767.4 1242.0,767.4 1243.0,767.4 1244.0,767.4 1245.0,767.4 1246.0,767.4 1247.0,767.4 1248.0,767.4 1249.0,767.4 1250.0,767.4 1251.0,767.5 1252.0,767.5 1253.0,767.5 1254.0,767.5 1255.0,767.5 1256.0,767.5 1257.0,767.5 1258.0,767.5 1259.0,767.5 1260.0,767.5 1261.0,767.5 1262.0,767.5 1263.0,767.5 1264.0,767.5 1265.0,767.5 1266.0,767.5 1267.0,767.5 1268.0,767.5 1269.0,767.5 1270.0,767.5 1271.0,767.5 1272.0,767.5 1273.0,767.5 1274.0,767.5 1275.0,767.5 1276.0,767.5 1277.0,767.5 1278.0,767.5 1279.0,767.5 1280.0,767.5 1281.0,767.5 1282.0,767.5 1283.0,767.5 1284.0,767.5 1285.0,767.5 1286.0,767.5 1287.0,767.5 1288.0,767.6 1289.0,767.6 1290.0,767.6" fill="none" stroke="#909090" stroke-width="1.5" stroke-linejoin="round" stroke-linecap="round" />
<polyline points="915.0,758.9 916.0,758.9 917.0,758.9 918.0,758.9 919.0,758.9 920.0,758.8 921.0,758.8 922.0,758.8 923.0,758.7 924.0,758.7 925.0,758.6 926.0,758.6 927.0,758.5 928.0,758.4 929.0,758.3 930.0,758.2 931.0,758.2 932.0,758.0 933.0,757.9 934.0,757.8 935.0,757.7 936.0,757.5 937.0,757.4 938.0,757.2 939.0,757.0 940.0,756.8 941.0,756.6 942.0,756.4 943.0,756.1 944.0,755.9 945.0,755.6 946.0,755.3 947.0,754.9 948.0,754.6 949.0,754.2 950.0,753.8 951.0,753.4 952.0,752.9 953.0,752.4 954.0,751.9 955.0,751.4 956.0,750.8 957.0,750.2 958.0,749.5 959.0,748.8 960.0,748.0 961.0,747.2 962.0,746.3 963.0,745.4 964.0,744.4 965.0,743.3 966.0,742.1 967.0,740.9 968.0,739.6 969.0,738.2 970.0,736.8 971.0,735.3 972.0,733.8 973.0,732.2 974.0,730.5 975.0,728.8 976.0,727.0 977.0,725.2 978.0,723.3 979.0,721.3 980.0,719.3 981.0,717.2 982.0,715.0 983.0,712.8 984.0,710.5 985.0,708.2 986.0,705.8 987.0,703.3 988.0,700.7 989.0,698.1 990.0,695.3 991.0,692.5 992.0,689.6 993.0,686.7 994.0,683.6 995.0,680.5 996.0,677.3 997.0,674.0 998.0,670.7 999.0,667.4 1000.0,664.0 1001.0,660.6 1002.0,657.1 1003.0,653.7 1004.0,650.2 1005.0,646.8 1006.0,643.3 1007.0,639.8 1008.0,636.4 1009.0,633.0 1010.0,629.6 1011.0,626.2 1012.0,622.9 1013.0,619.7 1014.0,616.4 1015.0,613.3 1016.0,610.2 1017.0,607.2 1018.0,604.3 1019.0,601.5 1020.0,598.8 1021.0,596.2 1022.0,593.7 1023.0,591.3 1024.0,589.0 1025.0,587.0 1026.0,585.0 1027.0,583.2 1028.0,581.6 1029.0,580.2 1030.0,578.9 1031.0,577.8 1032.0,576.9 1033.0,576.2 1034.0,575.7 1035.0,575.4 1036.0,575.2 1037.0,575.2 1038.0,575.4 1039.0,575.7 1040.0,576.2 1041.0,576.7 1042.0,577.4 1043.0,578.2 1044.0,579.2 1045.0,580.3 1046.0,581.5 1047.0,582.8 1048.0,584.3 1049.0,585.9 1050.0,587.7 1051.0,589.6 1052.0,591.6 1053.0,593.8 1054.0,596.1 1055.0,598.6 1056.0,601.3 1057.0,604.0 1058.0,606.9 1059.0,609.9 1060.0,613.1 1061.0,616.3 1062.0,619.6 1063.0,623.0 1064.0,626.4 1065.0,629.8 1066.0,633.4 1067.0,636.9 1068.0,640.4 1069.0,644.0 1070.0,647.5 1071.0,651.1 1072.0,654.6 1073.0,658.1 1074.0,661.5 1075.0,664.9 1076.0,668.2 1077.0,671.5 1078.0,674.8 1079.0,678.0 1080.0,681.1 1081.0,684.2 1082.0,687.2 1083.0,690.1 1084.0,693.0 1085.0,695.9 1086.0,698.7 1087.0,701.5 1088.0,704.2 1089.0,706.9 1090.0,709.5 1091.0,712.0 1092.0,714.5 1093.0,716.9 1094.0,719.2 1095.0,721.4 1096.0,723.5 1097.0,725.6 1098.0,727.6 1099.0,729.5 1100.0,731.3 1101.0,733.0 1102.0,734.7 1103.0,736.3 1104.0,737.9 1105.0,739.4 1106.0,740.9 1107.0,742.2 1108.0,743.6 1109.0,744.8 1110.0,746.0 1111.0,747.1 1112.0,748.2 1113.0,749.2 1114.0,750.1 1115.0,751.0 1116.0,751.8 1117.0,752.5 1118.0,753.2 1119.0,753.9 1120.0,754.6 1121.0,755.2 1122.0,755.7 1123.0,756.3 1124.0,756.8 1125.0,757.2 1126.0,757.7 1127.0,758.1 1128.0,758.5 1129.0,758.9 1130.0,759.3 1131.0,759.6 1132.0,759.9 1133.0,760.2 1134.0,760.5 1135.0,760.7 1136.0,761.0 1137.0,761.2 1138.0,761.4 1139.0,761.6 1140.0,761.8 1141.0,762.0 1142.0,762.1 1143.0,762.3 1144.0,762.4 1145.0,762.6 1146.0,762.7 1147.0,762.8 1148.0,762.9 1149.0,763.0 1150.0,763.1 1151.0,763.2 1152.0,763.3 1153.0,763.4 1154.0,763.5 1155.0,763.6 1156.0,763.7 1157.0,763.7 1158.0,763.8 1159.0,763.9 1160.0,764.0 1161.0,764.0 1162.0,764.1 1163.0,764.2 1164.0,764.2 1165.0,764.3 1166.0,764.4 1167.0,764.4 1168.0,764.5 1169.0,764.5 1170.0,764.6 1171.0,764.7 1172.0,764.7 1173.0,764.8 1174.0,764.8 1175.0,764.9 1176.0,765.0 1177.0,765.0 1178.0,765.1 1179.0,765.1 1180.0,765.2 1181.0,765.3 1182.0,765.3 1183.0,765.4 1184.0,765.4 1185.0,765.5 1186.0,765.5 1187.0,765.6 1188.0,765.6 1189.0,765.7 1190.0,765.7 1191.0,765.8 1192.0,765.8 1193.0,765.9 1194.0,765.9 1195.0,766.0 1196.0,766.0 1197.0,766.1 1198.0,766.1 1199.0,766.2 1200.0,766.2 1201.0,766.3 1202.0,766.3 1203.0,766.4 1204.0,766.4 1205.0,766.5 1206.0,766.5 1207.0,766.5 1208.0,766.6 1209.0,766.6 1210.0,766.6 1211.0,766.7 1212.0,766.7 1213.0,766.8 1214.0,766.8 1215.0,766.8 1216.0,766.9 1217.0,766.9 1218.0,766.9 1219.0,766.9 1220.0,767.0 1221.0,767.0 1222.0,767.0 1223.0,767.0 1224.0,767.1 1225.0,767.1 1226.0,767.1 1227.0,767.1 1228.0,767.2 1229.0,767.2 1230.0,767.2 1231.0,767.2 1232.0,767.2 1233.0,767.3 1234.0,767.3 1235.0,767.3 1236.0,767.3 1237.0,767.3 1238.0,767.3 1239.0,767.3 1240.0,767.4 1241.0,767.4 1242.0,767.4 1243.0,767.4 1244.0,767.4 1245.0,767.4 1246.0,767.4 1247.0,767.4 1248.0,767.4 1249.0,767.4 1250.0,767.4 1251.0,767.5 1252.0,767.5 1253.0,767.5 1254.0,767.5 1255.0,767.5 1256.0,767.5 1257.0,767.5 1258.0,767.5 1259.0,767.5 1260.0,767.5 1261.0,767.5 1262.0,767.5 1263.0,767.5 1264.0,767.5 1265.0,767.5 1266.0,767.5 1267.0,767.5 1268.0,767.5 1269.0,767.5 1270.0,767.5 1271.0,767.5 1272.0,767.5 1273.0,767.5 1274.0,767.5 1275.0,767.5 1276.0,767.5 1277.0,767.5 1278.0,767.5 1279.0,767.5 1280.0,767.5 1281.0,767.5 1282.0,767.5 1283.0,767.5 1284.0,767.5 1285.0,767.5 1286.0,767.5 1287.0,767.5 1288.0,767.6 1289.0,767.6 1290.0,767.6" fill="none" stroke="#909090" stroke-width="1.5" stroke-linejoin="round" stroke-linecap="round" />
<polyline points="915.0,759.0 916.0,759.0 917.0,759.0 918.0,759.0 919.0,759.0 920.0,759.0 921.0,759.0 922.0,759.0 923.0,759.0 924.0,759.0 925.0,759.0 926.0,759.0 927.0,759.0 928.0,759.0 929.0,759.0 930.0,758.9 931.0,758.9 932.0,758.9 933.0,758.9 934.0,758.9 935.0,758.9 936.0,758.9 937.0,758.9 938.0,758.9 939.0,758.9 940.0,758.9 941.0,758.9 942.0,759.0 943.0,759.0 944.0,759.0 945.0,759.0 946.0,759.0 947.0,759.0 948.0,759.0 949.0,759.0 950.0,759.0 951.0,759.0 952.0,759.0 953.0,759.0 954.0,759.0 955.0,759.0 956.0,759.0 957.0,759.0 958.0,759.0 959.0,759.0 960.0,759.0 961.0,759.0 962.0,759.0 963.0,759.0 964.0,759.0 965.0,759.0 966.0,759.0 967.0,759.0 968.0,759.1 969.0,759.1 970.0,759.1 971.0,759.1 972.0,759.1 973.0,759.1 974.0,759.1 975.0,759.1 976.0,759.1 977.0,759.1 978.0,759.1 979.0,759.1 980.0,759.2 981.0,759.2 982.0,759.2 983.0,759.2 984.0,759.2 985.0,759.2 986.0,759.2 987.0,759.2 988.0,759.3 989.0,759.3 990.0,759.3 991.0,759.3 992.0,759.3 993.0,759.3 994.0,759.4 995.0,759.4 996.0,759.4 997.0,759.4 998.0,759.4 999.0,759.4 1000.0,759.5 1001.0,759.5 1002.0,759.5 1003.0,759.5 1004.0,759.6 1005.0,759.6 1006.0,759.6 1007.0,759.6 1008.0,759.6 1009.0,759.7 1010.0,759.7 1011.0,759.7 1012.0,759.7 1013.0,759.8 1014.0,759.8 1015.0,759.8 1016.0,759.8 1017.0,759.9 1018.0,759.9 1019.0,759.9 1020.0,760.0 1021.0,760.0 1022.0,760.0 1023.0,760.1 1024.0,760.1 1025.0,760.1 1026.0,760.1 1027.0,760.2 1028.0,760.2 1029.0,760.2 1030.0,760.3 1031.0,760.3 1032.0,760.3 1033.0,760.4 1034.0,760.4 1035.0,760.4 1036.0,760.4 1037.0,760.5 1038.0,760.5 1039.0,760.5 1040.0,760.5 1041.0,760.6 1042.0,760.6 1043.0,760.6 1044.0,760.6 1045.0,760.7 1046.0,760.7 1047.0,760.7 1048.0,760.7 1049.0,760.7 1050.0,760.7 1051.0,760.7 1052.0,760.8 1053.0,760.8 1054.0,760.8 1055.0,760.8 1056.0,760.8 1057.0,760.7 1058.0,760.7 1059.0,760.7 1060.0,760.7 1061.0,760.7 1062.0,760.6 1063.0,760.6 1064.0,760.5 1065.0,760.5 1066.0,760.4 1067.0,760.4 1068.0,760.3 1069.0,760.2 1070.0,760.1 1071.0,760.0 1072.0,759.9 1073.0,759.8 1074.0,759.6 1075.0,759.5 1076.0,759.3 1077.0,759.1 1078.0,758.9 1079.0,758.7 1080.0,758.4 1081.0,758.1 1082.0,757.8 1083.0,757.5 1084.0,757.2 1085.0,756.8 1086.0,756.4 1087.0,756.0 1088.0,755.5 1089.0,755.0 1090.0,754.5 1091.0,753.9 1092.0,753.3 1093.0,752.6 1094.0,751.9 1095.0,751.2 1096.0,750.4 1097.0,749.6 1098.0,748.7 1099.0,747.7 1100.0,746.7 1101.0,745.6 1102.0,744.5 1103.0,743.3 1104.0,742.0 1105.0,740.7 1106.0,739.3 1107.0,737.9 1108.0,736.4 1109.0,734.8 1110.0,733.2 1111.0,731.5 1112.0,729.6 1113.0,727.7 1114.0,725.7 1115.0,723.5 1116.0,721.2 1117.0,718.8 1118.0,716.3 1119.0,713.6 1120.0,710.8 1121.0,707.9 1122.0,704.9 1123.0,701.8 1124.0,698.5 1125.0,695.2 1126.0,691.8 1127.0,688.3 1128.0,684.7 1129.0,681.0 1130.0,677.3 1131.0,673.5 1132.0,669.7 1133.0,665.8 1134.0,661.8 1135.0,657.8 1136.0,653.7 1137.0,649.5 1138.0,645.2 1139.0,640.9 1140.0,636.5 1141.0,632.1 1142.0,627.6 1143.0,623.1 1144.0,618.5 1145.0,613.9 1146.0,609.3 1147.0,604.6 1148.0,599.9 1149.0,595.2 1150.0,590.5 1151.0,585.7 1152.0,580.9 1153.0,576.1 1154.0,571.3 1155.0,566.5 1156.0,561.8 1157.0,557.1 1158.0,552.5 1159.0,548.1 1160.0,543.8 1161.0,539.7 1162.0,535.8 1163.0,532.1 1164.0,528.7 1165.0,525.4 1166.0,522.3 1167.0,519.4 1168.0,516.6 1169.0,513.9 1170.0,511.4 1171.0,509.1 1172.0,506.8 1173.0,504.7 1174.0,502.8 1175.0,501.0 1176.0,499.4 1177.0,498.1 1178.0,497.0 1179.0,496.1 1180.0,495.5 1181.0,495.2 1182.0,495.1 1183.0,495.3 1184.0,495.8 1185.0,496.5 1186.0,497.3 1187.0,498.5 1188.0,499.8 1189.0,501.3 1190.0,503.1 1191.0,505.1 1192.0,507.3 1193.0,509.8 1194.0,512.4 1195.0,515.3 1196.0,518.3 1197.0,521.6 1198.0,524.9 1199.0,528.4 1200.0,532.0 1201.0,535.7 1202.0,539.6 1203.0,543.5 1204.0,547.5 1205.0,551.6 1206.0,555.8 1207.0,560.0 1208.0,564.3 1209.0,568.7 1210.0,573.2 1211.0,577.7 1212.0,582.3 1213.0,586.9 1214.0,591.6 1215.0,596.3 1216.0,601.1 1217.0,605.8 1218.0,610.6 1219.0,615.4 1220.0,620.2 1221.0,625.0 1222.0,629.8 1223.0,634.6 1224.0,639.4 1225.0,644.2 1226.0,648.9 1227.0,653.6 1228.0,658.2 1229.0,662.8 1230.0,667.3 1231.0,671.7 1232.0,676.1 1233.0,680.3 1234.0,684.5 1235.0,688.5 1236.0,692.5 1237.0,696.4 1238.0,700.1 1239.0,703.7 1240.0,707.1 1241.0,710.4 1242.0,713.6 1243.0,716.6 1244.0,719.4 1245.0,722.1 1246.0,724.7 1247.0,727.1 1248.0,729.4 1249.0,731.6 1250.0,733.7 1251.0,735.7 1252.0,737.5 1253.0,739.3 1254.0,740.9 1255.0,742.5 1256.0,743.9 1257.0,745.3 1258.0,746.5 1259.0,747.7 1260.0,748.9 1261.0,749.9 1262.0,751.0 1263.0,751.9 1264.0,752.8 1265.0,753.7 1266.0,754.5 1267.0,755.2 1268.0,755.9 1269.0,756.6 1270.0,757.2 1271.0,757.8 1272.0,758.3 1273.0,758.8 1274.0,759.2 1275.0,759.6 1276.0,760.0 1277.0,760.4 1278.0,760.7 1279.0,761.0 1280.0,761.3 1281.0,761.6 1282.0,761.9 1283.0,762.2 1284.0,762.4 1285.0,762.6 1286.0,762.9 1287.0,763.1 1288.0,763.3 1289.0,763.5 1290.0,763.7" fill="none" stroke="#909090" stroke-width="1.5" stroke-linejoin="round" stroke-linecap="round" />
<polyline points="915.0,757.4 916.0,757.2 917.0,757.0 918.0,756.8 919.0,756.6 920.0,756.4 921.0,756.1 922.0,755.9 923.0,755.6 924.0,755.3 925.0,755.0 926.0,754.7 927.0,754.3 928.0,753.9 929.0,753.5 930.0,753.1 931.0,752.7 932.0,752.3 933.0,751.9 934.0,751.4 935.0,751.0 936.0,750.5 937.0,750.1 938.0,749.6 939.0,749.2 940.0,748.7 941.0,748.3 942.0,747.8 943.0,747.3 944.0,746.9 945.0,746.4 946.0,746.0 947.0,745.5 948.0,745.0 949.0,744.5 950.0,744.1 951.0,743.6 952.0,743.1 953.0,742.6 954.0,742.2 955.0,741.7 956.0,741.3 957.0,740.8 958.0,740.3 959.0,739.9 960.0,739.4 961.0,738.9 962.0,738.4 963.0,737.9 964.0,737.4 965.0,736.9 966.0,736.4 967.0,736.0 968.0,735.5 969.0,735.0 970.0,734.6 971.0,734.2 972.0,733.8 973.0,733.5 974.0,733.2 975.0,733.0 976.0,732.8 977.0,732.6 978.0,732.5 979.0,732.4 980.0,732.3 981.0,732.3 982.0,732.3 983.0,732.3 984.0,732.4 985.0,732.5 986.0,732.6 987.0,732.8 988.0,732.9 989.0,733.1 990.0,733.3 991.0,733.6 992.0,733.8 993.0,734.1 994.0,734.4 995.0,734.6 996.0,735.0 997.0,735.3 998.0,735.7 999.0,736.0 1000.0,736.4 1001.0,736.9 1002.0,737.3 1003.0,737.7 1004.0,738.2 1005.0,738.7 1006.0,739.2 1007.0,739.7 1008.0,740.2 1009.0,740.7 1010.0,741.2 1011.0,741.8 1012.0,742.3 1013.0,742.8 1014.0,743.4 1015.0,743.9 1016.0,744.5 1017.0,745.0 1018.0,745.5 1019.0,746.1 1020.0,746.6 1021.0,747.1 1022.0,747.7 1023.0,748.2 1024.0,748.7 1025.0,749.2 1026.0,749.7 1027.0,750.2 1028.0,750.6 1029.0,751.1 1030.0,751.6 1031.0,752.0 1032.0,752.4 1033.0,752.9 1034.0,753.3 1035.0,753.7 1036.0,754.1 1037.0,754.4 1038.0,754.8 1039.0,755.2 1040.0,755.5 1041.0,755.8 1042.0,756.1 1043.0,756.4 1044.0,756.7 1045.0,757.0 1046.0,757.3 1047.0,757.5 1048.0,757.7 1049.0,758.0 1050.0,758.2 1051.0,758.4 1052.0,758.6 1053.0,758.8 1054.0,759.0 1055.0,759.2 1056.0,759.3 1057.0,759.5 1058.0,759.6 1059.0,759.8 1060.0,759.9 1061.0,760.1 1062.0,760.2 1063.0,760.3 1064.0,760.4 1065.0,760.5 1066.0,760.6 1067.0,760.7 1068.0,760.8 1069.0,760.9 1070.0,761.0 1071.0,761.0 1072.0,761.1 1073.0,761.2 1074.0,761.2 1075.0,761.3 1076.0,761.4 1077.0,761.4 1078.0,761.5 1079.0,761.5 1080.0,761.6 1081.0,761.6 1082.0,761.6 1083.0,761.7 1084.0,761.7 1085.0,761.8 1086.0,761.8 1087.0,761.8 1088.0,761.9 1089.0,761.9 1090.0,761.9 1091.0,761.9 1092.0,762.0 1093.0,762.0 1094.0,762.0 1095.0,762.0 1096.0,762.1 1097.0,762.1 1098.0,762.1 1099.0,762.1 1100.0,762.2 1101.0,762.2 1102.0,762.2 1103.0,762.2 1104.0,762.2 1105.0,762.3 1106.0,762.3 1107.0,762.3 1108.0,762.3 1109.0,762.3 1110.0,762.4 1111.0,762.4 1112.0,762.4 1113.0,762.4 1114.0,762.5 1115.0,762.5 1116.0,762.5 1117.0,762.5 1118.0,762.5 1119.0,762.6 1120.0,762.6 1121.0,762.6 1122.0,762.6 1123.0,762.7 1124.0,762.7 1125.0,762.7 1126.0,762.7 1127.0,762.8 1128.0,762.8 1129.0,762.8 1130.0,762.8 1131.0,762.9 1132.0,762.9 1133.0,762.9 1134.0,763.0 1135.0,763.0 1136.0,763.0 1137.0,763.1 1138.0,763.1 1139.0,763.1 1140.0,763.2 1141.0,763.2 1142.0,763.2 1143.0,763.3 1144.0,763.3 1145.0,763.4 1146.0,763.4 1147.0,763.4 1148.0,763.5 1149.0,763.5 1150.0,763.6 1151.0,763.6 1152.0,763.7 1153.0,763.7 1154.0,763.7 1155.0,763.8 1156.0,763.8 1157.0,763.9 1158.0,763.9 1159.0,764.0 1160.0,764.0 1161.0,764.1 1162.0,764.1 1163.0,764.2 1164.0,764.2 1165.0,764.3 1166.0,764.3 1167.0,764.4 1168.0,764.5 1169.0,764.5 1170.0,764.6 1171.0,764.6 1172.0,764.7 1173.0,764.7 1174.0,764.8 1175.0,764.8 1176.0,764.9 1177.0,765.0 1178.0,765.0 1179.0,765.1 1180.0,765.1 1181.0,765.2 1182.0,765.2 1183.0,765.3 1184.0,765.3 1185.0,765.4 1186.0,765.4 1187.0,765.5 1188.0,765.6 1189.0,765.6 1190.0,765.7 1191.0,765.7 1192.0,765.8 1193.0,765.8 1194.0,765.9 1195.0,765.9 1196.0,766.0 1197.0,766.0 1198.0,766.1 1199.0,766.1 1200.0,766.2 1201.0,766.2 1202.0,766.3 1203.0,766.3 1204.0,766.3 1205.0,766.4 1206.0,766.4 1207.0,766.5 1208.0,766.5 1209.0,766.5 1210.0,766.6 1211.0,766.6 1212.0,766.7 1213.0,766.7 1214.0,766.7 1215.0,766.8 1216.0,766.8 1217.0,766.8 1218.0,766.8 1219.0,766.9 1220.0,766.9 1221.0,766.9 1222.0,767.0 1223.0,767.0 1224.0,767.0 1225.0,767.0 1226.0,767.1 1227.0,767.1 1228.0,767.1 1229.0,767.1 1230.0,767.1 1231.0,767.2 1232.0,767.2 1233.0,767.2 1234.0,767.2 1235.0,767.2 1236.0,767.2 1237.0,767.3 1238.0,767.3 1239.0,767.3 1240.0,767.3 1241.0,767.3 1242.0,767.3 1243.0,767.3 1244.0,767.3 1245.0,767.4 1246.0,767.4 1247.0,767.4 1248.0,767.4 1249.0,767.4 1250.0,767.4 1251.0,767.4 1252.0,767.4 1253.0,767.4 1254.0,767.4 1255.0,767.4 1256.0,767.4 1257.0,767.4 1258.0,767.4 1259.0,767.5 1260.0,767.5 1261.0,767.5 1262.0,767.5 1263.0,767.5 1264.0,767.5 1265.0,767.5 1266.0,767.5 1267.0,767.5 1268.0,767.5 1269.0,767.5 1270.0,767.5 1271.0,767.5 1272.0,767.5 1273.0,767.5 1274.0,767.5 1275.0,767.5 1276.0,767.5 1277.0,767.5 1278.0,767.5 1279.0,767.5 1280.0,767.5 1281.0,767.5 1282.0,767.5 1283.0,767.5 1284.0,767.5 1285.0,767.5 1286.0,767.5 1287.0,767.5 1288.0,767.5 1289.0,767.5 1290.0,767.5" fill="none" stroke="#909090" stroke-width="1.5" stroke-linejoin="round" stroke-linecap="round" />
<polyline points="915.0,758.9 916.0,758.9 917.0,758.9 918.0,758.9 919.0,758.9 920.0,758.9 921.0,758.9 922.0,758.9 923.0,758.9 924.0,758.9 925.0,758.9 926.0,758.9 927.0,758.9 928.0,758.9 929.0,758.9 930.0,758.9 931.0,758.9 932.0,758.9 933.0,758.9 934.0,758.8 935.0,758.8 936.0,758.8 937.0,758.8 938.0,758.8 939.0,758.8 940.0,758.8 941.0,758.8 942.0,758.8 943.0,758.8 944.0,758.8 945.0,758.8 946.0,758.8 947.0,758.8 948.0,758.8 949.0,758.8 950.0,758.8 951.0,758.9 952.0,758.9 953.0,758.9 954.0,758.9 955.0,758.9 956.0,758.9 957.0,758.9 958.0,758.9 959.0,758.9 960.0,758.9 961.0,758.9 962.0,758.9 963.0,758.9 964.0,758.9 965.0,758.9 966.0,758.9 967.0,758.9 968.0,758.9 969.0,758.9 970.0,758.9 971.0,758.9 972.0,758.9 973.0,758.9 974.0,758.9 975.0,758.9 976.0,758.9 977.0,758.9 978.0,759.0 979.0,759.0 980.0,759.0 981.0,759.0 982.0,759.0 983.0,759.0 984.0,759.0 985.0,759.0 986.0,759.0 987.0,759.0 988.0,759.0 989.0,759.1 990.0,759.1 991.0,759.1 992.0,759.1 993.0,759.1 994.0,759.1 995.0,759.1 996.0,759.1 997.0,759.1 998.0,759.2 999.0,759.2 1000.0,759.2 1001.0,759.2 1002.0,759.2 1003.0,759.2 1004.0,759.2 1005.0,759.2 1006.0,759.3 1007.0,759.3 1008.0,759.3 1009.0,759.3 1010.0,759.3 1011.0,759.3 1012.0,759.3 1013.0,759.3 1014.0,759.3 1015.0,759.4 1016.0,759.4 1017.0,759.4 1018.0,759.4 1019.0,759.4 1020.0,759.4 1021.0,759.4 1022.0,759.4 1023.0,759.4 1024.0,759.4 1025.0,759.3 1026.0,759.3 1027.0,759.3 1028.0,759.3 1029.0,759.3 1030.0,759.3 1031.0,759.2 1032.0,759.2 1033.0,759.2 1034.0,759.1 1035.0,759.1 1036.0,759.0 1037.0,759.0 1038.0,758.9 1039.0,758.9 1040.0,758.8 1041.0,758.7 1042.0,758.6 1043.0,758.5 1044.0,758.4 1045.0,758.3 1046.0,758.2 1047.0,758.0 1048.0,757.9 1049.0,757.7 1050.0,757.6 1051.0,757.4 1052.0,757.2 1053.0,757.0 1054.0,756.8 1055.0,756.5 1056.0,756.3 1057.0,756.0 1058.0,755.8 1059.0,755.5 1060.0,755.2 1061.0,754.9 1062.0,754.5 1063.0,754.2 1064.0,753.8 1065.0,753.5 1066.0,753.1 1067.0,752.7 1068.0,752.3 1069.0,751.8 1070.0,751.3 1071.0,750.9 1072.0,750.4 1073.0,749.9 1074.0,749.3 1075.0,748.7 1076.0,748.2 1077.0,747.6 1078.0,746.9 1079.0,746.3 1080.0,745.6 1081.0,744.9 1082.0,744.2 1083.0,743.4 1084.0,742.7 1085.0,741.9 1086.0,741.1 1087.0,740.3 1088.0,739.5 1089.0,738.7 1090.0,737.9 1091.0,737.0 1092.0,736.2 1093.0,735.3 1094.0,734.5 1095.0,733.6 1096.0,732.7 1097.0,731.8 1098.0,730.9 1099.0,730.0 1100.0,729.0 1101.0,728.1 1102.0,727.2 1103.0,726.3 1104.0,725.4 1105.0,724.6 1106.0,723.7 1107.0,722.9 1108.0,722.1 1109.0,721.4 1110.0,720.6 1111.0,719.9 1112.0,719.1 1113.0,718.4 1114.0,717.6 1115.0,716.8 1116.0,716.1 1117.0,715.3 1118.0,714.5 1119.0,713.7 1120.0,713.0 1121.0,712.2 1122.0,711.5 1123.0,710.9 1124.0,710.3 1125.0,709.7 1126.0,709.2 1127.0,708.8 1128.0,708.4 1129.0,708.1 1130.0,707.9 1131.0,707.7 1132.0,707.6 1133.0,707.5 1134.0,707.6 1135.0,707.6 1136.0,707.7 1137.0,707.9 1138.0,708.1 1139.0,708.3 1140.0,708.6 1141.0,709.0 1142.0,709.3 1143.0,709.7 1144.0,710.2 1145.0,710.7 1146.0,711.2 1147.0,711.8 1148.0,712.3 1149.0,713.0 1150.0,713.6 1151.0,714.3 1152.0,715.0 1153.0,715.7 1154.0,716.4 1155.0,717.1 1156.0,717.9 1157.0,718.7 1158.0,719.5 1159.0,720.4 1160.0,721.3 1161.0,722.2 1162.0,723.2 1163.0,724.1 1164.0,725.1 1165.0,726.2 1166.0,727.2 1167.0,728.2 1168.0,729.2 1169.0,730.2 1170.0,731.3 1171.0,732.3 1172.0,733.2 1173.0,734.2 1174.0,735.2 1175.0,736.1 1176.0,737.1 1177.0,738.0 1178.0,739.0 1179.0,739.9 1180.0,740.8 1181.0,741.7 1182.0,742.6 1183.0,743.5 1184.0,744.3 1185.0,745.2 1186.0,746.0 1187.0,746.8 1188.0,747.6 1189.0,748.4 1190.0,749.2 1191.0,749.9 1192.0,750.6 1193.0,751.3 1194.0,752.0 1195.0,752.7 1196.0,753.3 1197.0,754.0 1198.0,754.6 1199.0,755.1 1200.0,755.7 1201.0,756.3 1202.0,756.8 1203.0,757.3 1204.0,757.8 1205.0,758.2 1206.0,758.7 1207.0,759.1 1208.0,759.5 1209.0,759.9 1210.0,760.3 1211.0,760.6 1212.0,761.0 1213.0,761.3 1214.0,761.6 1215.0,761.9 1216.0,762.2 1217.0,762.5 1218.0,762.7 1219.0,763.0 1220.0,763.2 1221.0,763.4 1222.0,763.7 1223.0,763.9 1224.0,764.1 1225.0,764.3 1226.0,764.4 1227.0,764.6 1228.0,764.8 1229.0,764.9 1230.0,765.1 1231.0,765.2 1232.0,765.3 1233.0,765.4 1234.0,765.6 1235.0,765.7 1236.0,765.8 1237.0,765.9 1238.0,766.0 1239.0,766.0 1240.0,766.1 1241.0,766.2 1242.0,766.3 1243.0,766.3 1244.0,766.4 1245.0,766.4 1246.0,766.5 1247.0,766.5 1248.0,766.6 1249.0,766.6 1250.0,766.7 1251.0,766.7 1252.0,766.7 1253.0,766.8 1254.0,766.8 1255.0,766.8 1256.0,766.8 1257.0,766.9 1258.0,766.9 1259.0,766.9 1260.0,766.9 1261.0,766.9 1262.0,767.0 1263.0,767.0 1264.0,767.0 1265.0,767.0 1266.0,767.0 1267.0,767.0 1268.0,767.0 1269.0,767.0 1270.0,767.0 1271.0,767.0 1272.0,767.0 1273.0,767.0 1274.0,767.0 1275.0,767.0 1276.0,767.0 1277.0,767.0 1278.0,767.0 1279.0,767.0 1280.0,767.0 1281.0,767.0 1282.0,767.0 1283.0,767.0 1284.0,767.0 1285.0,767.0 1286.0,767.0 1287.0,767.0 1288.0,767.0 1289.0,767.0 1290.0,766.9" fill="none" stroke="#909090" stroke-width="1.5" stroke-linejoin="round" stroke-linecap="round" />
<polyline points="845.0,1047.5 846.0,1047.5 847.0,1047.5 848.0,1047.5 849.0,1047.5 850.0,1047.5 851.0,1047.5 852.0,1047.5 853.0,1047.5 854.0,1047.5 855.0,1047.5 856.0,1047.5 857.0,1047.5 858.0,1047.5 859.0,1047.5 860.0,1047.5 861.0,1047.5 862.0,1047.5 863.0,1047.5 864.0,1047.5 865.0,1047.5 866.0,1047.5 867.0,1047.5 868.0,1047.5 869.0,1047.5 870.0,1047.5 871.0,1047.5 872.0,1047.5 873.0,1047.5 874.0,1047.5 875.0,1047.5 876.0,1047.6 877.0,1047.6 878.0,1047.6 879.0,1047.6 880.0,1047.6 881.0,1047.6 882.0,1047.6 883.0,1047.6 884.0,1047.6 885.0,1047.6 886.0,1047.6 887.0,1047.6 888.0,1047.6 889.0,1047.6 890.0,1047.6 891.0,1047.6 892.0,1047.6 893.0,1047.6 894.0,1047.6 895.0,1047.6 896.0,1047.6 897.0,1047.6 898.0,1047.7 899.0,1047.7 900.0,1047.7 901.0,1047.7 902.0,1047.7 903.0,1047.7 904.0,1047.7 905.0,1047.7 906.0,1047.7 907.0,1047.7 908.0,1047.7 909.0,1047.7 910.0,1047.7 911.0,1047.7 912.0,1047.7 913.0,1047.7 914.0,1047.7 915.0,1047.8 916.0,1047.8 917.0,1047.8 918.0,1047.8 919.0,1047.8 920.0,1047.8 921.0,1047.8 922.0,1047.8 923.0,1047.8 924.0,1047.8 925.0,1047.8 926.0,1047.8 927.0,1047.8 928.0,1047.9 929.0,1047.9 930.0,1047.9 931.0,1047.9 932.0,1047.9 933.0,1047.9 934.0,1047.9 935.0,1047.9 936.0,1047.9 937.0,1047.9 938.0,1048.0 939.0,1048.0 940.0,1048.0 941.0,1048.0 942.0,1048.0 943.0,1048.0 944.0,1048.0 945.0,1048.0 946.0,1048.1 947.0,1048.1 948.0,1048.1 949.0,1048.1 950.0,1048.1 951.0,1048.1 952.0,1048.1 953.0,1048.1 954.0,1048.2 955.0,1048.2 956.0,1048.2 957.0,1048.2 958.0,1048.2 959.0,1048.2 960.0,1048.3 961.0,1048.3 962.0,1048.3 963.0,1048.3 964.0,1048.3 965.0,1048.3 966.0,1048.4 967.0,1048.4 968.0,1048.4 969.0,1048.4 970.0,1048.4 971.0,1048.4 972.0,1048.5 973.0,1048.5 974.0,1048.5 975.0,1048.5 976.0,1048.6 977.0,1048.6 978.0,1048.6 979.0,1048.6 980.0,1048.6 981.0,1048.7 982.0,1048.7 983.0,1048.7 984.0,1048.7 985.0,1048.8 986.0,1048.8 987.0,1048.8 988.0,1048.8 989.0,1048.9 990.0,1048.9 991.0,1048.9 992.0,1049.0 993.0,1049.0 994.0,1049.0 995.0,1049.1 996.0,1049.1 997.0,1049.1 998.0,1049.2 999.0,1049.2 1000.0,1049.2 1001.0,1049.3 1002.0,1049.3 1003.0,1049.3 1004.0,1049.4 1005.0,1049.4 1006.0,1049.4 1007.0,1049.5 1008.0,1049.5 1009.0,1049.6 1010.0,1049.6 1011.0,1049.6 1012.0,1049.7 1013.0,1049.7 1014.0,1049.8 1015.0,1049.8 1016.0,1049.9 1017.0,1049.9 1018.0,1050.0 1019.0,1050.0 1020.0,1050.0 1021.0,1050.1 1022.0,1050.1 1023.0,1050.2 1024.0,1050.2 1025.0,1050.3 1026.0,1050.3 1027.0,1050.4 1028.0,1050.4 1029.0,1050.5 1030.0,1050.5 1031.0,1050.6 1032.0,1050.6 1033.0,1050.7 1034.0,1050.7 1035.0,1050.8 1036.0,1050.8 1037.0,1050.9 1038.0,1050.9 1039.0,1051.0 1040.0,1051.0 1041.0,1051.1 1042.0,1051.1 1043.0,1051.2 1044.0,1051.2 1045.0,1051.3 1046.0,1051.3 1047.0,1051.4 1048.0,1051.4 1049.0,1051.4 1050.0,1051.5 1051.0,1051.5 1052.0,1051.6 1053.0,1051.6 1054.0,1051.7 1055.0,1051.7 1056.0,1051.8 1057.0,1051.8 1058.0,1051.8 1059.0,1051.9 1060.0,1051.9 1061.0,1052.0 1062.0,1052.0 1063.0,1052.0 1064.0,1052.1 1065.0,1052.1 1066.0,1052.2 1067.0,1052.2 1068.0,1052.2 1069.0,1052.3 1070.0,1052.3 1071.0,1052.3 1072.0,1052.4 1073.0,1052.4 1074.0,1052.5 1075.0,1052.5 1076.0,1052.5 1077.0,1052.6 1078.0,1052.6 1079.0,1052.6 1080.0,1052.6 1081.0,1052.7 1082.0,1052.7 1083.0,1052.7 1084.0,1052.8 1085.0,1052.8 1086.0,1052.8 1087.0,1052.9 1088.0,1052.9 1089.0,1052.9 1090.0,1053.0 1091.0,1053.0 1092.0,1053.0 1093.0,1053.0 1094.0,1053.1 1095.0,1053.1 1096.0,1053.1 1097.0,1053.2 1098.0,1053.2 1099.0,1053.2 1100.0,1053.2 1101.0,1053.3 1102.0,1053.3 1103.0,1053.3 1104.0,1053.4 1105.0,1053.4 1106.0,1053.4 1107.0,1053.5 1108.0,1053.5 1109.0,1053.5 1110.0,1053.5 1111.0,1053.6 1112.0,1053.6 1113.0,1053.6 1114.0,1053.7 1115.0,1053.7 1116.0,1053.7 1117.0,1053.8 1118.0,1053.8 1119.0,1053.8 1120.0,1053.9 1121.0,1053.9 1122.0,1053.9 1123.0,1054.0 1124.0,1054.0 1125.0,1054.0 1126.0,1054.1 1127.0,1054.1 1128.0,1054.2 1129.0,1054.2 1130.0,1054.2 1131.0,1054.3 1132.0,1054.3 1133.0,1054.4 1134.0,1054.4 1135.0,1054.4 1136.0,1054.5 1137.0,1054.5 1138.0,1054.6 1139.0,1054.6 1140.0,1054.7 1141.0,1054.7 1142.0,1054.8 1143.0,1054.8 1144.0,1054.9 1145.0,1054.9 1146.0,1055.0 1147.0,1055.0 1148.0,1055.1 1149.0,1055.1 1150.0,1055.2 1151.0,1055.2 1152.0,1055.3 1153.0,1055.3 1154.0,1055.4 1155.0,1055.4 1156.0,1055.5 1157.0,1055.6 1158.0,1055.6 1159.0,1055.7 1160.0,1055.7 1161.0,1055.8 1162.0,1055.9 1163.0,1055.9 1164.0,1056.0 1165.0,1056.1 1166.0,1056.1 1167.0,1056.2 1168.0,1056.2 1169.0,1056.3 1170.0,1056.4 1171.0,1056.4 1172.0,1056.5 1173.0,1056.6 1174.0,1056.6 1175.0,1056.7 1176.0,1056.8 1177.0,1056.8 1178.0,1056.9 1179.0,1057.0 1180.0,1057.0 1181.0,1057.1 1182.0,1057.1 1183.0,1057.2 1184.0,1057.3 1185.0,1057.3 1186.0,1057.4 1187.0,1057.5 1188.0,1057.5 1189.0,1057.6 1190.0,1057.6 1191.0,1057.7 1192.0,1057.8 1193.0,1057.8 1194.0,1057.9 1195.0,1057.9 1196.0,1058.0 1197.0,1058.0 1198.0,1058.1 1199.0,1058.1 1200.0,1058.2 1201.0,1058.2 1202.0,1058.3 1203.0,1058.3 1204.0,1058.4 1205.0,1058.4 1206.0,1058.5 1207.0,1058.5 1208.0,1058.6 1209.0,1058.6 1210.0,1058.6 1211.0,1058.7 1212.0,1058.7 1213.0,1058.8 1214.0,1058.8 1215.0,1058.8 1216.0,1058.9 1217.0,1058.9 1218.0,1058.9 1219.0,1059.0 1220.0,1059.0 1221.0,1059.0 1222.0,1059.1 1223.0,1059.1 1224.0,1059.1 1225.0,1059.1 1226.0,1059.2 1227.0,1059.2 1228.0,1059.2 1229.0,1059.2 1230.0,1059.2 1231.0,1059.3 1232.0,1059.3 1233.0,1059.3 1234.0,1059.3 1235.0,1059.3 1236.0,1059.4 1237.0,1059.4 1238.0,1059.4 1239.0,1059.4 1240.0,1059.4 1241.0,1059.4 1242.0,1059.4 1243.0,1059.5 1244.0,1059.5 1245.0,1059.5 1246.0,1059.5 1247.0,1059.5 1248.0,1059.5 1249.0,1059.5 1250.0,1059.5 1251.0,1059.5 1252.0,1059.5 1253.0,1059.5 1254.0,1059.6 1255.0,1059.6 1256.0,1059.6 1257.0,1059.6 1258.0,1059.6 1259.0,1059.6 1260.0,1059.6 1261.0,1059.6 1262.0,1059.6 1263.0,1059.6 1264.0,1059.6 1265.0,1059.6 1266.0,1059.6 1267.0,1059.6 1268.0,1059.6 1269.0,1059.6 1270.0,1059.6 1271.0,1059.6 1272.0,1059.6 1273.0,1059.6 1274.0,1059.6 1275.0,1059.6 1276.0,1059.7 1277.0,1059.7 1278.0,1059.7 1279.0,1059.7 1280.0,1059.7 1281.0,1059.7 1282.0,1059.7 1283.0,1059.7 1284.0,1059.7 1285.0,1059.7 1286.0,1059.7 1287.0,1059.7 1288.0,1059.7 1289.0,1059.7 1290.0,1059.7" fill="none" stroke="#909090" stroke-width="1.5" stroke-linejoin="round" stroke-linecap="round" />
<polyline points="845.0,1047.5 846.0,1047.5 847.0,1047.5 848.0,1047.5 849.0,1047.5 850.0,1047.5 851.0,1047.5 852.0,1047.5 853.0,1047.5 854.0,1047.5 855.0,1047.5 856.0,1047.5 857.0,1047.5 858.0,1047.5 859.0,1047.5 860.0,1047.5 861.0,1047.5 862.0,1047.5 863.0,1047.5 864.0,1047.5 865.0,1047.5 866.0,1047.5 867.0,1047.5 868.0,1047.5 869.0,1047.5 870.0,1047.5 871.0,1047.5 872.0,1047.5 873.0,1047.5 874.0,1047.5 875.0,1047.5 876.0,1047.5 877.0,1047.5 878.0,1047.5 879.0,1047.5 880.0,1047.5 881.0,1047.5 882.0,1047.5 883.0,1047.5 884.0,1047.5 885.0,1047.5 886.0,1047.5 887.0,1047.5 888.0,1047.5 889.0,1047.5 890.0,1047.5 891.0,1047.5 892.0,1047.5 893.0,1047.5 894.0,1047.5 895.0,1047.5 896.0,1047.5 897.0,1047.5 898.0,1047.5 899.0,1047.5 900.0,1047.5 901.0,1047.4 902.0,1047.4 903.0,1047.4 904.0,1047.4 905.0,1047.4 906.0,1047.3 907.0,1047.3 908.0,1047.3 909.0,1047.2 910.0,1047.2 911.0,1047.1 912.0,1047.1 913.0,1047.0 914.0,1047.0 915.0,1046.9 916.0,1046.8 917.0,1046.8 918.0,1046.7 919.0,1046.6 920.0,1046.5 921.0,1046.4 922.0,1046.3 923.0,1046.1 924.0,1046.0 925.0,1045.8 926.0,1045.7 927.0,1045.5 928.0,1045.3 929.0,1045.1 930.0,1044.9 931.0,1044.7 932.0,1044.4 933.0,1044.2 934.0,1043.9 935.0,1043.6 936.0,1043.2 937.0,1042.9 938.0,1042.5 939.0,1042.1 940.0,1041.7 941.0,1041.2 942.0,1040.8 943.0,1040.2 944.0,1039.7 945.0,1039.1 946.0,1038.5 947.0,1037.8 948.0,1037.1 949.0,1036.4 950.0,1035.7 951.0,1034.9 952.0,1034.0 953.0,1033.1 954.0,1032.2 955.0,1031.2 956.0,1030.2 957.0,1029.2 958.0,1028.0 959.0,1026.9 960.0,1025.7 961.0,1024.5 962.0,1023.2 963.0,1021.9 964.0,1020.5 965.0,1019.1 966.0,1017.6 967.0,1016.1 968.0,1014.6 969.0,1013.0 970.0,1011.4 971.0,1009.7 972.0,1007.9 973.0,1006.1 974.0,1004.2 975.0,1002.3 976.0,1000.2 977.0,998.1 978.0,995.9 979.0,993.6 980.0,991.2 981.0,988.7 982.0,986.1 983.0,983.5 984.0,980.8 985.0,978.1 986.0,975.4 987.0,972.6 988.0,969.8 989.0,967.1 990.0,964.3 991.0,961.5 992.0,958.8 993.0,956.0 994.0,953.3 995.0,950.5 996.0,947.7 997.0,944.9 998.0,942.1 999.0,939.2 1000.0,936.4 1001.0,933.5 1002.0,930.6 1003.0,927.8 1004.0,925.0 1005.0,922.2 1006.0,919.4 1007.0,916.7 1008.0,914.1 1009.0,911.5 1010.0,909.0 1011.0,906.6 1012.0,904.3 1013.0,902.1 1014.0,899.9 1015.0,897.9 1016.0,896.0 1017.0,894.2 1018.0,892.5 1019.0,890.9 1020.0,889.5 1021.0,888.2 1022.0,886.9 1023.0,885.8 1024.0,884.8 1025.0,883.9 1026.0,883.0 1027.0,882.3 1028.0,881.8 1029.0,881.3 1030.0,881.0 1031.0,880.8 1032.0,880.7 1033.0,880.8 1034.0,881.0 1035.0,881.4 1036.0,881.9 1037.0,882.5 1038.0,883.2 1039.0,884.0 1040.0,884.9 1041.0,886.0 1042.0,887.1 1043.0,888.3 1044.0,889.6 1045.0,891.0 1046.0,892.5 1047.0,894.1 1048.0,895.8 1049.0,897.6 1050.0,899.6 1051.0,901.6 1052.0,903.8 1053.0,906.0 1054.0,908.4 1055.0,910.8 1056.0,913.3 1057.0,915.9 1058.0,918.5 1059.0,921.2 1060.0,923.9 1061.0,926.6 1062.0,929.4 1063.0,932.2 1064.0,935.1 1065.0,938.0 1066.0,940.9 1067.0,943.8 1068.0,946.8 1069.0,949.7 1070.0,952.7 1071.0,955.7 1072.0,958.6 1073.0,961.5 1074.0,964.4 1075.0,967.3 1076.0,970.2 1077.0,973.0 1078.0,975.8 1079.0,978.5 1080.0,981.3 1081.0,983.9 1082.0,986.5 1083.0,989.1 1084.0,991.6 1085.0,994.0 1086.0,996.3 1087.0,998.7 1088.0,1000.9 1089.0,1003.1 1090.0,1005.2 1091.0,1007.3 1092.0,1009.4 1093.0,1011.3 1094.0,1013.3 1095.0,1015.1 1096.0,1017.0 1097.0,1018.7 1098.0,1020.4 1099.0,1022.0 1100.0,1023.6 1101.0,1025.1 1102.0,1026.6 1103.0,1028.0 1104.0,1029.3 1105.0,1030.6 1106.0,1031.9 1107.0,1033.1 1108.0,1034.3 1109.0,1035.4 1110.0,1036.4 1111.0,1037.5 1112.0,1038.4 1113.0,1039.4 1114.0,1040.3 1115.0,1041.1 1116.0,1041.9 1117.0,1042.7 1118.0,1043.4 1119.0,1044.1 1120.0,1044.8 1121.0,1045.4 1122.0,1046.0 1123.0,1046.5 1124.0,1047.1 1125.0,1047.6 1126.0,1048.0 1127.0,1048.5 1128.0,1048.9 1129.0,1049.3 1130.0,1049.7 1131.0,1050.1 1132.0,1050.4 1133.0,1050.7 1134.0,1051.1 1135.0,1051.3 1136.0,1051.6 1137.0,1051.9 1138.0,1052.1 1139.0,1052.4 1140.0,1052.6 1141.0,1052.8 1142.0,1053.0 1143.0,1053.2 1144.0,1053.4 1145.0,1053.5 1146.0,1053.7 1147.0,1053.9 1148.0,1054.0 1149.0,1054.2 1150.0,1054.3 1151.0,1054.4 1152.0,1054.5 1153.0,1054.7 1154.0,1054.8 1155.0,1054.9 1156.0,1055.0 1157.0,1055.1 1158.0,1055.2 1159.0,1055.3 1160.0,1055.4 1161.0,1055.5 1162.0,1055.6 1163.0,1055.7 1164.0,1055.8 1165.0,1055.8 1166.0,1055.9 1167.0,1056.0 1168.0,1056.1 1169.0,1056.2 1170.0,1056.2 1171.0,1056.3 1172.0,1056.4 1173.0,1056.5 1174.0,1056.6 1175.0,1056.6 1176.0,1056.7 1177.0,1056.8 1178.0,1056.8 1179.0,1056.9 1180.0,1057.0 1181.0,1057.0 1182.0,1057.1 1183.0,1057.2 1184.0,1057.2 1185.0,1057.3 1186.0,1057.4 1187.0,1057.4 1188.0,1057.5 1189.0,1057.6 1190.0,1057.6 1191.0,1057.7 1192.0,1057.7 1193.0,1057.8 1194.0,1057.9 1195.0,1057.9 1196.0,1058.0 1197.0,1058.0 1198.0,1058.1 1199.0,1058.1 1200.0,1058.2 1201.0,1058.2 1202.0,1058.3 1203.0,1058.3 1204.0,1058.4 1205.0,1058.4 1206.0,1058.5 1207.0,1058.5 1208.0,1058.6 1209.0,1058.6 1210.0,1058.6 1211.0,1058.7 1212.0,1058.7 1213.0,1058.8 1214.0,1058.8 1215.0,1058.8 1216.0,1058.9 1217.0,1058.9 1218.0,1058.9 1219.0,1059.0 1220.0,1059.0 1221.0,1059.0 1222.0,1059.0 1223.0,1059.1 1224.0,1059.1 1225.0,1059.1 1226.0,1059.2 1227.0,1059.2 1228.0,1059.2 1229.0,1059.2 1230.0,1059.2 1231.0,1059.3 1232.0,1059.3 1233.0,1059.3 1234.0,1059.3 1235.0,1059.3 1236.0,1059.4 1237.0,1059.4 1238.0,1059.4 1239.0,1059.4 1240.0,1059.4 1241.0,1059.4 1242.0,1059.4 1243.0,1059.5 1244.0,1059.5 1245.0,1059.5 1246.0,1059.5 1247.0,1059.5 1248.0,1059.5 1249.0,1059.5 1250.0,1059.5 1251.0,1059.5 1252.0,1059.5 1253.0,1059.5 1254.0,1059.6 1255.0,1059.6 1256.0,1059.6 1257.0,1059.6 1258.0,1059.6 1259.0,1059.6 1260.0,1059.6 1261.0,1059.6 1262.0,1059.6 1263.0,1059.6 1264.0,1059.6 1265.0,1059.6 1266.0,1059.6 1267.0,1059.6 1268.0,1059.6 1269.0,1059.6 1270.0,1059.6 1271.0,1059.6 1272.0,1059.6 1273.0,1059.6 1274.0,1059.6 1275.0,1059.6 1276.0,1059.7 1277.0,1059.7 1278.0,1059.7 1279.0,1059.7 1280.0,1059.7 1281.0,1059.7 1282.0,1059.7 1283.0,1059.7 1284.0,1059.7 1285.0,1059.7 1286.0,1059.7 1287.0,1059.7 1288.0,1059.7 1289.0,1059.7 1290.0,1059.7" fill="none" stroke="#909090" stroke-width="1.5" stroke-linejoin="round" stroke-linecap="round" />
<polyline points="845.0,1046.9 846.0,1046.9 847.0,1046.9 848.0,1046.9 849.0,1046.9 850.0,1046.9 851.0,1046.9 852.0,1046.9 853.0,1046.9 854.0,1046.9 855.0,1046.9 856.0,1046.9 857.0,1046.9 858.0,1046.9 859.0,1047.0 860.0,1047.0 861.0,1047.0 862.0,1047.0 863.0,1047.0 864.0,1047.0 865.0,1047.0 866.0,1047.0 867.0,1047.0 868.0,1047.0 869.0,1047.0 870.0,1047.0 871.0,1047.0 872.0,1047.0 873.0,1047.0 874.0,1047.0 875.0,1047.0 876.0,1047.0 877.0,1047.0 878.0,1047.0 879.0,1047.0 880.0,1047.0 881.0,1047.0 882.0,1047.0 883.0,1047.0 884.0,1047.0 885.0,1047.0 886.0,1047.0 887.0,1047.0 888.0,1047.0 889.0,1047.0 890.0,1047.0 891.0,1047.0 892.0,1047.0 893.0,1047.0 894.0,1047.0 895.0,1047.0 896.0,1047.0 897.0,1047.0 898.0,1047.0 899.0,1047.0 900.0,1047.0 901.0,1047.0 902.0,1047.0 903.0,1047.0 904.0,1047.0 905.0,1047.0 906.0,1047.0 907.0,1047.0 908.0,1047.0 909.0,1047.0 910.0,1047.0 911.0,1047.0 912.0,1047.0 913.0,1047.0 914.0,1047.0 915.0,1047.0 916.0,1047.0 917.0,1047.0 918.0,1047.0 919.0,1047.0 920.0,1047.0 921.0,1047.0 922.0,1047.0 923.0,1047.0 924.0,1047.0 925.0,1047.0 926.0,1047.0 927.0,1047.0 928.0,1047.0 929.0,1047.0 930.0,1047.0 931.0,1047.0 932.0,1047.0 933.0,1047.0 934.0,1047.0 935.0,1047.0 936.0,1047.0 937.0,1047.0 938.0,1047.0 939.0,1047.0 940.0,1047.0 941.0,1047.0 942.0,1047.0 943.0,1047.1 944.0,1047.1 945.0,1047.1 946.0,1047.1 947.0,1047.1 948.0,1047.1 949.0,1047.1 950.0,1047.1 951.0,1047.1 952.0,1047.1 953.0,1047.1 954.0,1047.1 955.0,1047.1 956.0,1047.1 957.0,1047.1 958.0,1047.1 959.0,1047.1 960.0,1047.1 961.0,1047.1 962.0,1047.1 963.0,1047.1 964.0,1047.2 965.0,1047.2 966.0,1047.2 967.0,1047.2 968.0,1047.2 969.0,1047.2 970.0,1047.2 971.0,1047.2 972.0,1047.2 973.0,1047.3 974.0,1047.3 975.0,1047.3 976.0,1047.3 977.0,1047.3 978.0,1047.3 979.0,1047.3 980.0,1047.3 981.0,1047.3 982.0,1047.3 983.0,1047.3 984.0,1047.3 985.0,1047.3 986.0,1047.4 987.0,1047.4 988.0,1047.4 989.0,1047.4 990.0,1047.4 991.0,1047.4 992.0,1047.4 993.0,1047.4 994.0,1047.5 995.0,1047.5 996.0,1047.5 997.0,1047.5 998.0,1047.5 999.0,1047.5 1000.0,1047.6 1001.0,1047.6 1002.0,1047.6 1003.0,1047.6 1004.0,1047.6 1005.0,1047.6 1006.0,1047.7 1007.0,1047.7 1008.0,1047.7 1009.0,1047.7 1010.0,1047.7 1011.0,1047.7 1012.0,1047.8 1013.0,1047.8 1014.0,1047.8 1015.0,1047.8 1016.0,1047.8 1017.0,1047.9 1018.0,1047.9 1019.0,1047.9 1020.0,1047.9 1021.0,1048.0 1022.0,1048.0 1023.0,1048.0 1024.0,1048.0 1025.0,1048.0 1026.0,1048.1 1027.0,1048.1 1028.0,1048.1 1029.0,1048.1 1030.0,1048.1 1031.0,1048.1 1032.0,1048.1 1033.0,1048.2 1034.0,1048.2 1035.0,1048.2 1036.0,1048.2 1037.0,1048.2 1038.0,1048.2 1039.0,1048.2 1040.0,1048.2 1041.0,1048.2 1042.0,1048.2 1043.0,1048.2 1044.0,1048.2 1045.0,1048.2 1046.0,1048.1 1047.0,1048.1 1048.0,1048.1 1049.0,1048.1 1050.0,1048.0 1051.0,1048.0 1052.0,1048.0 1053.0,1047.9 1054.0,1047.9 1055.0,1047.8 1056.0,1047.7 1057.0,1047.7 1058.0,1047.6 1059.0,1047.5 1060.0,1047.4 1061.0,1047.3 1062.0,1047.2 1063.0,1047.1 1064.0,1047.0 1065.0,1046.8 1066.0,1046.7 1067.0,1046.5 1068.0,1046.3 1069.0,1046.1 1070.0,1045.9 1071.0,1045.7 1072.0,1045.5 1073.0,1045.2 1074.0,1044.9 1075.0,1044.7 1076.0,1044.3 1077.0,1044.0 1078.0,1043.7 1079.0,1043.3 1080.0,1042.9 1081.0,1042.5 1082.0,1042.0 1083.0,1041.5 1084.0,1041.0 1085.0,1040.4 1086.0,1039.8 1087.0,1039.2 1088.0,1038.5 1089.0,1037.8 1090.0,1037.1 1091.0,1036.3 1092.0,1035.5 1093.0,1034.6 1094.0,1033.7 1095.0,1032.7 1096.0,1031.7 1097.0,1030.6 1098.0,1029.5 1099.0,1028.3 1100.0,1027.0 1101.0,1025.7 1102.0,1024.3 1103.0,1022.9 1104.0,1021.4 1105.0,1019.8 1106.0,1018.2 1107.0,1016.5 1108.0,1014.7 1109.0,1012.9 1110.0,1011.0 1111.0,1009.1 1112.0,1007.0 1113.0,1004.9 1114.0,1002.7 1115.0,1000.5 1116.0,998.2 1117.0,995.7 1118.0,993.2 1119.0,990.7 1120.0,988.0 1121.0,985.3 1122.0,982.5 1123.0,979.6 1124.0,976.6 1125.0,973.6 1126.0,970.5 1127.0,967.3 1128.0,964.0 1129.0,960.7 1130.0,957.4 1131.0,953.9 1132.0,950.4 1133.0,946.9 1134.0,943.4 1135.0,939.8 1136.0,936.1 1137.0,932.5 1138.0,928.8 1139.0,925.1 1140.0,921.4 1141.0,917.6 1142.0,913.9 1143.0,910.2 1144.0,906.5 1145.0,902.8 1146.0,899.1 1147.0,895.4 1148.0,891.8 1149.0,888.2 1150.0,884.6 1151.0,881.1 1152.0,877.5 1153.0,874.1 1154.0,870.6 1155.0,867.2 1156.0,863.9 1157.0,860.6 1158.0,857.5 1159.0,854.4 1160.0,851.5 1161.0,848.7 1162.0,846.1 1163.0,843.8 1164.0,841.6 1165.0,839.5 1166.0,837.7 1167.0,836.1 1168.0,834.6 1169.0,833.3 1170.0,832.2 1171.0,831.3 1172.0,830.6 1173.0,830.1 1174.0,829.7 1175.0,829.6 1176.0,829.6 1177.0,829.8 1178.0,830.1 1179.0,830.6 1180.0,831.1 1181.0,831.7 1182.0,832.5 1183.0,833.3 1184.0,834.3 1185.0,835.5 1186.0,836.8 1187.0,838.4 1188.0,840.3 1189.0,842.3 1190.0,844.6 1191.0,847.0 1192.0,849.6 1193.0,852.3 1194.0,855.1 1195.0,858.0 1196.0,861.0 1197.0,864.1 1198.0,867.3 1199.0,870.6 1200.0,874.1 1201.0,877.6 1202.0,881.3 1203.0,885.1 1204.0,889.0 1205.0,892.9 1206.0,896.9 1207.0,900.9 1208.0,905.0 1209.0,909.1 1210.0,913.1 1211.0,917.2 1212.0,921.2 1213.0,925.2 1214.0,929.2 1215.0,933.1 1216.0,937.0 1217.0,940.8 1218.0,944.6 1219.0,948.3 1220.0,951.9 1221.0,955.5 1222.0,959.0 1223.0,962.4 1224.0,965.8 1225.0,969.1 1226.0,972.3 1227.0,975.5 1228.0,978.6 1229.0,981.7 1230.0,984.7 1231.0,987.7 1232.0,990.6 1233.0,993.4 1234.0,996.2 1235.0,998.9 1236.0,1001.6 1237.0,1004.2 1238.0,1006.6 1239.0,1009.0 1240.0,1011.3 1241.0,1013.5 1242.0,1015.6 1243.0,1017.6 1244.0,1019.4 1245.0,1021.2 1246.0,1023.0 1247.0,1024.6 1248.0,1026.2 1249.0,1027.7 1250.0,1029.1 1251.0,1030.5 1252.0,1031.8 1253.0,1033.1 1254.0,1034.3 1255.0,1035.5 1256.0,1036.7 1257.0,1037.7 1258.0,1038.8 1259.0,1039.8 1260.0,1040.7 1261.0,1041.7 1262.0,1042.5 1263.0,1043.4 1264.0,1044.2 1265.0,1045.0 1266.0,1045.8 1267.0,1046.5 1268.0,1047.2 1269.0,1047.9 1270.0,1048.5 1271.0,1049.2 1272.0,1049.7 1273.0,1050.3 1274.0,1050.8 1275.0,1051.3 1276.0,1051.7 1277.0,1052.1 1278.0,1052.5 1279.0,1052.9 1280.0,1053.2 1281.0,1053.5 1282.0,1053.7 1283.0,1053.9 1284.0,1054.2 1285.0,1054.4 1286.0,1054.5 1287.0,1054.7 1288.0,1054.9 1289.0,1055.0 1290.0,1055.1" fill="none" stroke="#909090" stroke-width="1.5" stroke-linejoin="round" stroke-linecap="round" />
<polyline points="845.0,1046.8 846.0,1046.8 847.0,1046.8 848.0,1046.8 849.0,1046.7 850.0,1046.7 851.0,1046.7 852.0,1046.6 853.0,1046.6 854.0,1046.6 855.0,1046.5 856.0,1046.5 857.0,1046.4 858.0,1046.4 859.0,1046.3 860.0,1046.3 861.0,1046.2 862.0,1046.2 863.0,1046.1 864.0,1046.0 865.0,1046.0 866.0,1045.9 867.0,1045.8 868.0,1045.7 869.0,1045.6 870.0,1045.5 871.0,1045.4 872.0,1045.2 873.0,1045.1 874.0,1045.0 875.0,1044.8 876.0,1044.7 877.0,1044.5 878.0,1044.3 879.0,1044.1 880.0,1043.9 881.0,1043.7 882.0,1043.5 883.0,1043.3 884.0,1043.0 885.0,1042.8 886.0,1042.5 887.0,1042.3 888.0,1042.0 889.0,1041.7 890.0,1041.4 891.0,1041.0 892.0,1040.7 893.0,1040.3 894.0,1040.0 895.0,1039.6 896.0,1039.2 897.0,1038.8 898.0,1038.4 899.0,1037.9 900.0,1037.5 901.0,1037.0 902.0,1036.5 903.0,1036.1 904.0,1035.5 905.0,1035.0 906.0,1034.5 907.0,1034.0 908.0,1033.4 909.0,1032.9 910.0,1032.3 911.0,1031.7 912.0,1031.1 913.0,1030.6 914.0,1030.0 915.0,1029.4 916.0,1028.8 917.0,1028.2 918.0,1027.6 919.0,1027.1 920.0,1026.5 921.0,1025.9 922.0,1025.3 923.0,1024.7 924.0,1024.1 925.0,1023.6 926.0,1023.0 927.0,1022.4 928.0,1021.9 929.0,1021.3 930.0,1020.8 931.0,1020.3 932.0,1019.8 933.0,1019.2 934.0,1018.8 935.0,1018.3 936.0,1017.8 937.0,1017.4 938.0,1016.9 939.0,1016.5 940.0,1016.1 941.0,1015.7 942.0,1015.4 943.0,1015.0 944.0,1014.7 945.0,1014.4 946.0,1014.2 947.0,1014.0 948.0,1013.8 949.0,1013.7 950.0,1013.5 951.0,1013.5 952.0,1013.4 953.0,1013.4 954.0,1013.5 955.0,1013.6 956.0,1013.7 957.0,1013.9 958.0,1014.1 959.0,1014.3 960.0,1014.6 961.0,1014.9 962.0,1015.2 963.0,1015.6 964.0,1016.0 965.0,1016.5 966.0,1016.9 967.0,1017.5 968.0,1018.0 969.0,1018.5 970.0,1019.1 971.0,1019.7 972.0,1020.3 973.0,1020.9 974.0,1021.4 975.0,1022.0 976.0,1022.6 977.0,1023.2 978.0,1023.8 979.0,1024.3 980.0,1024.9 981.0,1025.4 982.0,1026.0 983.0,1026.5 984.0,1027.1 985.0,1027.7 986.0,1028.3 987.0,1028.9 988.0,1029.5 989.0,1030.1 990.0,1030.7 991.0,1031.4 992.0,1032.0 993.0,1032.6 994.0,1033.2 995.0,1033.8 996.0,1034.4 997.0,1035.0 998.0,1035.6 999.0,1036.2 1000.0,1036.7 1001.0,1037.2 1002.0,1037.8 1003.0,1038.3 1004.0,1038.8 1005.0,1039.3 1006.0,1039.7 1007.0,1040.2 1008.0,1040.7 1009.0,1041.1 1010.0,1041.6 1011.0,1042.0 1012.0,1042.4 1013.0,1042.8 1014.0,1043.2 1015.0,1043.5 1016.0,1043.9 1017.0,1044.3 1018.0,1044.6 1019.0,1044.9 1020.0,1045.2 1021.0,1045.5 1022.0,1045.8 1023.0,1046.1 1024.0,1046.4 1025.0,1046.6 1026.0,1046.9 1027.0,1047.1 1028.0,1047.4 1029.0,1047.6 1030.0,1047.8 1031.0,1048.0 1032.0,1048.2 1033.0,1048.4 1034.0,1048.6 1035.0,1048.7 1036.0,1048.9 1037.0,1049.1 1038.0,1049.2 1039.0,1049.3 1040.0,1049.5 1041.0,1049.6 1042.0,1049.7 1043.0,1049.9 1044.0,1050.0 1045.0,1050.1 1046.0,1050.2 1047.0,1050.3 1048.0,1050.4 1049.0,1050.5 1050.0,1050.6 1051.0,1050.7 1052.0,1050.8 1053.0,1050.9 1054.0,1050.9 1055.0,1051.0 1056.0,1051.1 1057.0,1051.2 1058.0,1051.2 1059.0,1051.3 1060.0,1051.4 1061.0,1051.4 1062.0,1051.5 1063.0,1051.5 1064.0,1051.6 1065.0,1051.7 1066.0,1051.7 1067.0,1051.8 1068.0,1051.8 1069.0,1051.9 1070.0,1051.9 1071.0,1052.0 1072.0,1052.0 1073.0,1052.0 1074.0,1052.1 1075.0,1052.1 1076.0,1052.2 1077.0,1052.2 1078.0,1052.3 1079.0,1052.3 1080.0,1052.3 1081.0,1052.4 1082.0,1052.4 1083.0,1052.4 1084.0,1052.5 1085.0,1052.5 1086.0,1052.6 1087.0,1052.6 1088.0,1052.6 1089.0,1052.7 1090.0,1052.7 1091.0,1052.7 1092.0,1052.8 1093.0,1052.8 1094.0,1052.8 1095.0,1052.9 1096.0,1052.9 1097.0,1052.9 1098.0,1053.0 1099.0,1053.0 1100.0,1053.0 1101.0,1053.1 1102.0,1053.1 1103.0,1053.1 1104.0,1053.1 1105.0,1053.2 1106.0,1053.2 1107.0,1053.2 1108.0,1053.3 1109.0,1053.3 1110.0,1053.3 1111.0,1053.4 1112.0,1053.4 1113.0,1053.4 1114.0,1053.5 1115.0,1053.5 1116.0,1053.5 1117.0,1053.6 1118.0,1053.6 1119.0,1053.7 1120.0,1053.7 1121.0,1053.7 1122.0,1053.8 1123.0,1053.8 1124.0,1053.8 1125.0,1053.9 1126.0,1053.9 1127.0,1054.0 1128.0,1054.0 1129.0,1054.0 1130.0,1054.1 1131.0,1054.1 1132.0,1054.2 1133.0,1054.2 1134.0,1054.2 1135.0,1054.3 1136.0,1054.3 1137.0,1054.4 1138.0,1054.4 1139.0,1054.5 1140.0,1054.5 1141.0,1054.6 1142.0,1054.6 1143.0,1054.7 1144.0,1054.7 1145.0,1054.8 1146.0,1054.8 1147.0,1054.9 1148.0,1054.9 1149.0,1055.0 1150.0,1055.0 1151.0,1055.1 1152.0,1055.1 1153.0,1055.2 1154.0,1055.3 1155.0,1055.3 1156.0,1055.4 1157.0,1055.4 1158.0,1055.5 1159.0,1055.6 1160.0,1055.6 1161.0,1055.7 1162.0,1055.7 1163.0,1055.8 1164.0,1055.9 1165.0,1055.9 1166.0,1056.0 1167.0,1056.1 1168.0,1056.1 1169.0,1056.2 1170.0,1056.3 1171.0,1056.3 1172.0,1056.4 1173.0,1056.5 1174.0,1056.5 1175.0,1056.6 1176.0,1056.7 1177.0,1056.7 1178.0,1056.8 1179.0,1056.9 1180.0,1056.9 1181.0,1057.0 1182.0,1057.1 1183.0,1057.1 1184.0,1057.2 1185.0,1057.2 1186.0,1057.3 1187.0,1057.4 1188.0,1057.4 1189.0,1057.5 1190.0,1057.5 1191.0,1057.6 1192.0,1057.7 1193.0,1057.7 1194.0,1057.8 1195.0,1057.8 1196.0,1057.9 1197.0,1057.9 1198.0,1058.0 1199.0,1058.1 1200.0,1058.1 1201.0,1058.2 1202.0,1058.2 1203.0,1058.3 1204.0,1058.3 1205.0,1058.3 1206.0,1058.4 1207.0,1058.4 1208.0,1058.5 1209.0,1058.5 1210.0,1058.6 1211.0,1058.6 1212.0,1058.6 1213.0,1058.7 1214.0,1058.7 1215.0,1058.8 1216.0,1058.8 1217.0,1058.8 1218.0,1058.9 1219.0,1058.9 1220.0,1058.9 1221.0,1059.0 1222.0,1059.0 1223.0,1059.0 1224.0,1059.0 1225.0,1059.1 1226.0,1059.1 1227.0,1059.1 1228.0,1059.1 1229.0,1059.2 1230.0,1059.2 1231.0,1059.2 1232.0,1059.2 1233.0,1059.2 1234.0,1059.3 1235.0,1059.3 1236.0,1059.3 1237.0,1059.3 1238.0,1059.3 1239.0,1059.3 1240.0,1059.4 1241.0,1059.4 1242.0,1059.4 1243.0,1059.4 1244.0,1059.4 1245.0,1059.4 1246.0,1059.4 1247.0,1059.4 1248.0,1059.4 1249.0,1059.5 1250.0,1059.5 1251.0,1059.5 1252.0,1059.5 1253.0,1059.5 1254.0,1059.5 1255.0,1059.5 1256.0,1059.5 1257.0,1059.5 1258.0,1059.5 1259.0,1059.5 1260.0,1059.5 1261.0,1059.5 1262.0,1059.5 1263.0,1059.6 1264.0,1059.6 1265.0,1059.6 1266.0,1059.6 1267.0,1059.6 1268.0,1059.6 1269.0,1059.6 1270.0,1059.6 1271.0,1059.6 1272.0,1059.6 1273.0,1059.6 1274.0,1059.6 1275.0,1059.6 1276.0,1059.6 1277.0,1059.6 1278.0,1059.6 1279.0,1059.6 1280.0,1059.6 1281.0,1059.6 1282.0,1059.6 1283.0,1059.6 1284.0,1059.6 1285.0,1059.6 1286.0,1059.6 1287.0,1059.6 1288.0,1059.6 1289.0,1059.6 1290.0,1059.6" fill="none" stroke="#909090" stroke-width="1.5" stroke-linejoin="round" stroke-linecap="round" />
<polyline points="845.0,1047.3 846.0,1047.3 847.0,1047.3 848.0,1047.3 849.0,1047.3 850.0,1047.3 851.0,1047.3 852.0,1047.3 853.0,1047.3 854.0,1047.4 855.0,1047.4 856.0,1047.4 857.0,1047.4 858.0,1047.4 859.0,1047.4 860.0,1047.4 861.0,1047.4 862.0,1047.4 863.0,1047.4 864.0,1047.4 865.0,1047.4 866.0,1047.4 867.0,1047.4 868.0,1047.4 869.0,1047.4 870.0,1047.4 871.0,1047.4 872.0,1047.4 873.0,1047.4 874.0,1047.4 875.0,1047.4 876.0,1047.4 877.0,1047.4 878.0,1047.4 879.0,1047.4 880.0,1047.4 881.0,1047.4 882.0,1047.4 883.0,1047.4 884.0,1047.4 885.0,1047.4 886.0,1047.4 887.0,1047.4 888.0,1047.4 889.0,1047.5 890.0,1047.5 891.0,1047.5 892.0,1047.5 893.0,1047.5 894.0,1047.5 895.0,1047.5 896.0,1047.5 897.0,1047.5 898.0,1047.5 899.0,1047.5 900.0,1047.5 901.0,1047.5 902.0,1047.5 903.0,1047.5 904.0,1047.5 905.0,1047.5 906.0,1047.5 907.0,1047.5 908.0,1047.5 909.0,1047.5 910.0,1047.5 911.0,1047.5 912.0,1047.5 913.0,1047.5 914.0,1047.5 915.0,1047.6 916.0,1047.6 917.0,1047.6 918.0,1047.6 919.0,1047.6 920.0,1047.6 921.0,1047.6 922.0,1047.6 923.0,1047.6 924.0,1047.6 925.0,1047.6 926.0,1047.6 927.0,1047.6 928.0,1047.6 929.0,1047.6 930.0,1047.6 931.0,1047.7 932.0,1047.7 933.0,1047.7 934.0,1047.7 935.0,1047.7 936.0,1047.7 937.0,1047.7 938.0,1047.7 939.0,1047.7 940.0,1047.7 941.0,1047.7 942.0,1047.7 943.0,1047.7 944.0,1047.8 945.0,1047.8 946.0,1047.8 947.0,1047.8 948.0,1047.8 949.0,1047.8 950.0,1047.8 951.0,1047.8 952.0,1047.8 953.0,1047.8 954.0,1047.8 955.0,1047.9 956.0,1047.9 957.0,1047.9 958.0,1047.9 959.0,1047.9 960.0,1047.9 961.0,1047.9 962.0,1047.9 963.0,1048.0 964.0,1048.0 965.0,1048.0 966.0,1048.0 967.0,1048.0 968.0,1048.0 969.0,1048.0 970.0,1048.0 971.0,1048.1 972.0,1048.1 973.0,1048.1 974.0,1048.1 975.0,1048.1 976.0,1048.1 977.0,1048.1 978.0,1048.2 979.0,1048.2 980.0,1048.2 981.0,1048.2 982.0,1048.2 983.0,1048.2 984.0,1048.2 985.0,1048.2 986.0,1048.3 987.0,1048.3 988.0,1048.3 989.0,1048.3 990.0,1048.3 991.0,1048.3 992.0,1048.3 993.0,1048.3 994.0,1048.4 995.0,1048.4 996.0,1048.4 997.0,1048.4 998.0,1048.4 999.0,1048.4 1000.0,1048.4 1001.0,1048.4 1002.0,1048.4 1003.0,1048.4 1004.0,1048.4 1005.0,1048.4 1006.0,1048.4 1007.0,1048.4 1008.0,1048.3 1009.0,1048.3 1010.0,1048.3 1011.0,1048.3 1012.0,1048.3 1013.0,1048.2 1014.0,1048.2 1015.0,1048.1 1016.0,1048.1 1017.0,1048.0 1018.0,1048.0 1019.0,1047.9 1020.0,1047.8 1021.0,1047.8 1022.0,1047.7 1023.0,1047.6 1024.0,1047.5 1025.0,1047.4 1026.0,1047.2 1027.0,1047.1 1028.0,1047.0 1029.0,1046.8 1030.0,1046.7 1031.0,1046.5 1032.0,1046.3 1033.0,1046.1 1034.0,1045.9 1035.0,1045.7 1036.0,1045.4 1037.0,1045.2 1038.0,1044.9 1039.0,1044.6 1040.0,1044.3 1041.0,1044.0 1042.0,1043.6 1043.0,1043.3 1044.0,1042.9 1045.0,1042.5 1046.0,1042.1 1047.0,1041.6 1048.0,1041.2 1049.0,1040.7 1050.0,1040.2 1051.0,1039.7 1052.0,1039.2 1053.0,1038.6 1054.0,1038.1 1055.0,1037.5 1056.0,1036.9 1057.0,1036.3 1058.0,1035.6 1059.0,1035.0 1060.0,1034.3 1061.0,1033.6 1062.0,1032.9 1063.0,1032.1 1064.0,1031.4 1065.0,1030.6 1066.0,1029.9 1067.0,1029.1 1068.0,1028.3 1069.0,1027.5 1070.0,1026.7 1071.0,1025.9 1072.0,1025.1 1073.0,1024.2 1074.0,1023.4 1075.0,1022.6 1076.0,1021.8 1077.0,1020.9 1078.0,1020.1 1079.0,1019.3 1080.0,1018.4 1081.0,1017.6 1082.0,1016.8 1083.0,1016.0 1084.0,1015.2 1085.0,1014.4 1086.0,1013.6 1087.0,1012.8 1088.0,1012.1 1089.0,1011.3 1090.0,1010.6 1091.0,1009.9 1092.0,1009.2 1093.0,1008.6 1094.0,1007.9 1095.0,1007.4 1096.0,1006.8 1097.0,1006.3 1098.0,1005.8 1099.0,1005.3 1100.0,1004.9 1101.0,1004.5 1102.0,1004.1 1103.0,1003.8 1104.0,1003.5 1105.0,1003.3 1106.0,1003.1 1107.0,1003.0 1108.0,1002.9 1109.0,1002.9 1110.0,1002.9 1111.0,1003.0 1112.0,1003.2 1113.0,1003.3 1114.0,1003.6 1115.0,1003.8 1116.0,1004.1 1117.0,1004.5 1118.0,1004.8 1119.0,1005.3 1120.0,1005.7 1121.0,1006.2 1122.0,1006.7 1123.0,1007.3 1124.0,1007.9 1125.0,1008.5 1126.0,1009.2 1127.0,1009.9 1128.0,1010.6 1129.0,1011.3 1130.0,1012.1 1131.0,1012.9 1132.0,1013.7 1133.0,1014.5 1134.0,1015.4 1135.0,1016.3 1136.0,1017.2 1137.0,1018.1 1138.0,1019.0 1139.0,1019.9 1140.0,1020.9 1141.0,1021.8 1142.0,1022.7 1143.0,1023.7 1144.0,1024.6 1145.0,1025.6 1146.0,1026.5 1147.0,1027.5 1148.0,1028.4 1149.0,1029.3 1150.0,1030.3 1151.0,1031.2 1152.0,1032.0 1153.0,1032.9 1154.0,1033.8 1155.0,1034.6 1156.0,1035.5 1157.0,1036.3 1158.0,1037.1 1159.0,1037.9 1160.0,1038.6 1161.0,1039.4 1162.0,1040.1 1163.0,1040.9 1164.0,1041.6 1165.0,1042.3 1166.0,1043.0 1167.0,1043.7 1168.0,1044.3 1169.0,1044.9 1170.0,1045.5 1171.0,1046.1 1172.0,1046.7 1173.0,1047.3 1174.0,1047.8 1175.0,1048.3 1176.0,1048.8 1177.0,1049.3 1178.0,1049.7 1179.0,1050.2 1180.0,1050.6 1181.0,1051.0 1182.0,1051.4 1183.0,1051.7 1184.0,1052.1 1185.0,1052.4 1186.0,1052.7 1187.0,1053.1 1188.0,1053.4 1189.0,1053.6 1190.0,1053.9 1191.0,1054.2 1192.0,1054.4 1193.0,1054.7 1194.0,1054.9 1195.0,1055.1 1196.0,1055.3 1197.0,1055.5 1198.0,1055.7 1199.0,1055.9 1200.0,1056.1 1201.0,1056.2 1202.0,1056.4 1203.0,1056.5 1204.0,1056.7 1205.0,1056.8 1206.0,1056.9 1207.0,1057.1 1208.0,1057.2 1209.0,1057.3 1210.0,1057.4 1211.0,1057.5 1212.0,1057.6 1213.0,1057.7 1214.0,1057.8 1215.0,1057.9 1216.0,1057.9 1217.0,1058.0 1218.0,1058.1 1219.0,1058.1 1220.0,1058.2 1221.0,1058.3 1222.0,1058.3 1223.0,1058.4 1224.0,1058.4 1225.0,1058.5 1226.0,1058.5 1227.0,1058.6 1228.0,1058.6 1229.0,1058.6 1230.0,1058.7 1231.0,1058.7 1232.0,1058.7 1233.0,1058.8 1234.0,1058.8 1235.0,1058.8 1236.0,1058.9 1237.0,1058.9 1238.0,1058.9 1239.0,1058.9 1240.0,1059.0 1241.0,1059.0 1242.0,1059.0 1243.0,1059.0 1244.0,1059.1 1245.0,1059.1 1246.0,1059.1 1247.0,1059.1 1248.0,1059.1 1249.0,1059.1 1250.0,1059.1 1251.0,1059.2 1252.0,1059.2 1253.0,1059.2 1254.0,1059.2 1255.0,1059.2 1256.0,1059.2 1257.0,1059.2 1258.0,1059.2 1259.0,1059.2 1260.0,1059.3 1261.0,1059.3 1262.0,1059.3 1263.0,1059.3 1264.0,1059.3 1265.0,1059.3 1266.0,1059.3 1267.0,1059.3 1268.0,1059.3 1269.0,1059.3 1270.0,1059.3 1271.0,1059.4 1272.0,1059.4 1273.0,1059.4 1274.0,1059.4 1275.0,1059.4 1276.0,1059.4 1277.0,1059.4 1278.0,1059.4 1279.0,1059.4 1280.0,1059.4 1281.0,1059.4 1282.0,1059.4 1283.0,1059.4 1284.0,1059.4 1285.0,1059.4 1286.0,1059.5 1287.0,1059.5 1288.0,1059.5 1289.0,1059.5 1290.0,1059.5" fill="none" stroke="#909090" stroke-width="1.5" stroke-linejoin="round" stroke-linecap="round" />
<polyline points="845.0,1040.0 846.0,1039.8 847.0,1039.6 848.0,1039.4 849.0,1039.3 850.0,1039.1 851.0,1038.9 852.0,1038.8 853.0,1038.6 854.0,1038.5 855.0,1038.4 856.0,1038.3 857.0,1038.1 858.0,1038.0 859.0,1037.9 860.0,1037.8 861.0,1037.7 862.0,1037.6 863.0,1037.6 864.0,1037.5 865.0,1037.4 866.0,1037.3 867.0,1037.3 868.0,1037.2 869.0,1037.2 870.0,1037.1 871.0,1037.1 872.0,1037.1 873.0,1037.0 874.0,1037.0 875.0,1037.0 876.0,1037.0 877.0,1037.1 878.0,1037.1 879.0,1037.1 880.0,1037.2 881.0,1037.2 882.0,1037.3 883.0,1037.3 884.0,1037.4 885.0,1037.5 886.0,1037.6 887.0,1037.7 888.0,1037.8 889.0,1037.9 890.0,1038.1 891.0,1038.2 892.0,1038.3 893.0,1038.5 894.0,1038.6 895.0,1038.8 896.0,1039.0 897.0,1039.1 898.0,1039.3 899.0,1039.5 900.0,1039.7 901.0,1039.8 902.0,1040.0 903.0,1040.2 904.0,1040.4 905.0,1040.6 906.0,1040.8 907.0,1041.0 908.0,1041.2 909.0,1041.4 910.0,1041.6 911.0,1041.8 912.0,1042.0 913.0,1042.2 914.0,1042.4 915.0,1042.6 916.0,1042.8 917.0,1043.0 918.0,1043.2 919.0,1043.3 920.0,1043.5 921.0,1043.7 922.0,1043.9 923.0,1044.1 924.0,1044.2 925.0,1044.4 926.0,1044.5 927.0,1044.7 928.0,1044.9 929.0,1045.0 930.0,1045.1 931.0,1045.3 932.0,1045.4 933.0,1045.5 934.0,1045.7 935.0,1045.8 936.0,1045.9 937.0,1046.0 938.0,1046.1 939.0,1046.2 940.0,1046.3 941.0,1046.4 942.0,1046.5 943.0,1046.6 944.0,1046.7 945.0,1046.8 946.0,1046.9 947.0,1046.9 948.0,1047.0 949.0,1047.1 950.0,1047.2 951.0,1047.2 952.0,1047.3 953.0,1047.4 954.0,1047.4 955.0,1047.5 956.0,1047.5 957.0,1047.6 958.0,1047.6 959.0,1047.7 960.0,1047.7 961.0,1047.8 962.0,1047.8 963.0,1047.9 964.0,1047.9 965.0,1047.9 966.0,1048.0 967.0,1048.0 968.0,1048.1 969.0,1048.1 970.0,1048.1 971.0,1048.2 972.0,1048.2 973.0,1048.2 974.0,1048.3 975.0,1048.3 976.0,1048.3 977.0,1048.4 978.0,1048.4 979.0,1048.4 980.0,1048.5 981.0,1048.5 982.0,1048.5 983.0,1048.6 984.0,1048.6 985.0,1048.6 986.0,1048.6 987.0,1048.7 988.0,1048.7 989.0,1048.7 990.0,1048.8 991.0,1048.8 992.0,1048.8 993.0,1048.9 994.0,1048.9 995.0,1048.9 996.0,1049.0 997.0,1049.0 998.0,1049.0 999.0,1049.1 1000.0,1049.1 1001.0,1049.2 1002.0,1049.2 1003.0,1049.2 1004.0,1049.3 1005.0,1049.3 1006.0,1049.4 1007.0,1049.4 1008.0,1049.4 1009.0,1049.5 1010.0,1049.5 1011.0,1049.6 1012.0,1049.6 1013.0,1049.7 1014.0,1049.7 1015.0,1049.7 1016.0,1049.8 1017.0,1049.8 1018.0,1049.9 1019.0,1049.9 1020.0,1050.0 1021.0,1050.0 1022.0,1050.1 1023.0,1050.1 1024.0,1050.2 1025.0,1050.2 1026.0,1050.3 1027.0,1050.3 1028.0,1050.4 1029.0,1050.4 1030.0,1050.5 1031.0,1050.5 1032.0,1050.6 1033.0,1050.6 1034.0,1050.7 1035.0,1050.7 1036.0,1050.8 1037.0,1050.8 1038.0,1050.9 1039.0,1050.9 1040.0,1051.0 1041.0,1051.0 1042.0,1051.1 1043.0,1051.1 1044.0,1051.2 1045.0,1051.2 1046.0,1051.3 1047.0,1051.3 1048.0,1051.3 1049.0,1051.4 1050.0,1051.4 1051.0,1051.5 1052.0,1051.5 1053.0,1051.6 1054.0,1051.6 1055.0,1051.7 1056.0,1051.7 1057.0,1051.8 1058.0,1051.8 1059.0,1051.8 1060.0,1051.9 1061.0,1051.9 1062.0,1052.0 1063.0,1052.0 1064.0,1052.0 1065.0,1052.1 1066.0,1052.1 1067.0,1052.2 1068.0,1052.2 1069.0,1052.2 1070.0,1052.3 1071.0,1052.3 1072.0,1052.3 1073.0,1052.4 1074.0,1052.4 1075.0,1052.4 1076.0,1052.5 1077.0,1052.5 1078.0,1052.5 1079.0,1052.6 1080.0,1052.6 1081.0,1052.6 1082.0,1052.7 1083.0,1052.7 1084.0,1052.7 1085.0,1052.8 1086.0,1052.8 1087.0,1052.8 1088.0,1052.9 1089.0,1052.9 1090.0,1052.9 1091.0,1053.0 1092.0,1053.0 1093.0,1053.0 1094.0,1053.0 1095.0,1053.1 1096.0,1053.1 1097.0,1053.1 1098.0,1053.2 1099.0,1053.2 1100.0,1053.2 1101.0,1053.2 1102.0,1053.3 1103.0,1053.3 1104.0,1053.3 1105.0,1053.4 1106.0,1053.4 1107.0,1053.4 1108.0,1053.5 1109.0,1053.5 1110.0,1053.5 1111.0,1053.5 1112.0,1053.6 1113.0,1053.6 1114.0,1053.6 1115.0,1053.7 1116.0,1053.7 1117.0,1053.7 1118.0,1053.8 1119.0,1053.8 1120.0,1053.8 1121.0,1053.9 1122.0,1053.9 1123.0,1053.9 1124.0,1054.0 1125.0,1054.0 1126.0,1054.1 1127.0,1054.1 1128.0,1054.1 1129.0,1054.2 1130.0,1054.2 1131.0,1054.2 1132.0,1054.3 1133.0,1054.3 1134.0,1054.4 1135.0,1054.4 1136.0,1054.5 1137.0,1054.5 1138.0,1054.5 1139.0,1054.6 1140.0,1054.6 1141.0,1054.7 1142.0,1054.7 1143.0,1054.8 1144.0,1054.8 1145.0,1054.9 1146.0,1054.9 1147.0,1055.0 1148.0,1055.0 1149.0,1055.1 1150.0,1055.1 1151.0,1055.2 1152.0,1055.3 1153.0,1055.3 1154.0,1055.4 1155.0,1055.4 1156.0,1055.5 1157.0,1055.5 1158.0,1055.6 1159.0,1055.7 1160.0,1055.7 1161.0,1055.8 1162.0,1055.8 1163.0,1055.9 1164.0,1056.0 1165.0,1056.0 1166.0,1056.1 1167.0,1056.2 1168.0,1056.2 1169.0,1056.3 1170.0,1056.4 1171.0,1056.4 1172.0,1056.5 1173.0,1056.6 1174.0,1056.6 1175.0,1056.7 1176.0,1056.7 1177.0,1056.8 1178.0,1056.9 1179.0,1056.9 1180.0,1057.0 1181.0,1057.1 1182.0,1057.1 1183.0,1057.2 1184.0,1057.3 1185.0,1057.3 1186.0,1057.4 1187.0,1057.4 1188.0,1057.5 1189.0,1057.6 1190.0,1057.6 1191.0,1057.7 1192.0,1057.7 1193.0,1057.8 1194.0,1057.9 1195.0,1057.9 1196.0,1058.0 1197.0,1058.0 1198.0,1058.1 1199.0,1058.1 1200.0,1058.2 1201.0,1058.2 1202.0,1058.3 1203.0,1058.3 1204.0,1058.4 1205.0,1058.4 1206.0,1058.5 1207.0,1058.5 1208.0,1058.5 1209.0,1058.6 1210.0,1058.6 1211.0,1058.7 1212.0,1058.7 1213.0,1058.7 1214.0,1058.8 1215.0,1058.8 1216.0,1058.9 1217.0,1058.9 1218.0,1058.9 1219.0,1058.9 1220.0,1059.0 1221.0,1059.0 1222.0,1059.0 1223.0,1059.1 1224.0,1059.1 1225.0,1059.1 1226.0,1059.1 1227.0,1059.2 1228.0,1059.2 1229.0,1059.2 1230.0,1059.2 1231.0,1059.3 1232.0,1059.3 1233.0,1059.3 1234.0,1059.3 1235.0,1059.3 1236.0,1059.3 1237.0,1059.4 1238.0,1059.4 1239.0,1059.4 1240.0,1059.4 1241.0,1059.4 1242.0,1059.4 1243.0,1059.4 1244.0,1059.5 1245.0,1059.5 1246.0,1059.5 1247.0,1059.5 1248.0,1059.5 1249.0,1059.5 1250.0,1059.5 1251.0,1059.5 1252.0,1059.5 1253.0,1059.5 1254.0,1059.5 1255.0,1059.6 1256.0,1059.6 1257.0,1059.6 1258.0,1059.6 1259.0,1059.6 1260.0,1059.6 1261.0,1059.6 1262.0,1059.6 1263.0,1059.6 1264.0,1059.6 1265.0,1059.6 1266.0,1059.6 1267.0,1059.6 1268.0,1059.6 1269.0,1059.6 1270.0,1059.6 1271.0,1059.6 1272.0,1059.6 1273.0,1059.6 1274.0,1059.6 1275.0,1059.6 1276.0,1059.6 1277.0,1059.6 1278.0,1059.6 1279.0,1059.6 1280.0,1059.7 1281.0,1059.7 1282.0,1059.7 1283.0,1059.7 1284.0,1059.7 1285.0,1059.7 1286.0,1059.7 1287.0,1059.7 1288.0,1059.7 1289.0,1059.7 1290.0,1059.7" fill="none" stroke="#909090" stroke-width="1.5" stroke-linejoin="round" stroke-linecap="round" />
<polyline points="36.9,376.1 37.9,376.2 38.9,376.4 39.9,376.6 40.9,376.8 41.9,377.1 42.9,377.4 43.9,377.7 44.9,378.0 45.9,378.5 46.9,378.9 47.9,379.4 48.9,379.8 49.9,380.0 50.9,380.0 51.9,379.8 52.9,379.8 53.9,380.4 54.9,381.6 55.9,383.0 56.9,384.2 57.9,385.0 58.9,385.5 59.9,385.9 60.9,386.1 61.9,386.2 62.9,386.3 63.9,386.4 64.9,386.5 65.9,386.5 66.9,386.6 67.9,386.6 68.9,386.6 69.9,386.5 70.9,386.5 71.9,386.4 72.9,386.3 73.9,386.3 74.9,386.2 75.9,386.1 76.9,386.0 77.9,385.9 78.9,385.8 79.9,385.8 80.9,385.7 81.9,385.7 82.9,385.7 83.9,385.7 84.9,385.7 85.9,385.7 86.9,385.7 87.9,385.7 88.9,385.7 89.9,385.7 90.9,385.7 91.9,385.7 92.9,385.8 93.9,385.9 94.9,386.1 95.9,386.4 96.9,386.7 97.9,387.1 98.9,387.5 99.9,388.0 100.9,388.4 101.9,388.8 102.9,389.3 103.9,389.8 104.9,390.3 105.9,390.8 106.9,391.3 107.9,391.9 108.9,392.5 109.9,393.1 110.9,393.7 111.9,394.3 112.9,394.8 113.9,395.4 114.9,395.9 115.9,396.5 116.9,397.0 117.9,397.6 118.9,398.1 119.9,398.6 120.9,399.1 121.9,399.6 122.9,400.1 123.9,400.5 124.9,400.9 125.9,401.3 126.9,401.7 127.9,402.1 128.9,402.4 129.9,402.7 130.9,403.1 131.9,403.4 132.9,403.7 133.9,403.9 134.9,404.1 135.9,404.3 136.9,404.5 137.9,404.7 138.9,404.8 139.9,404.9 140.9,405.0 141.9,405.1 142.9,405.2 143.9,405.3 144.9,405.4 145.9,405.5 146.9,405.5 147.9,405.6 148.9,405.6 149.9,405.7 150.9,405.7 151.9,405.8 152.9,405.8 153.9,405.8 154.9,405.9 155.9,405.9 156.9,405.9 157.9,406.0 158.9,406.0 159.9,406.0 160.9,406.1 161.9,406.1 162.9,406.1 163.9,406.1 164.9,406.1 165.9,406.2 166.9,406.2 167.9,406.2 168.9,406.2 169.9,406.2 170.9,406.2 171.9,406.2 172.9,406.2 173.9,406.1 174.9,406.1 175.9,406.1 176.9,406.0 177.9,406.0 178.9,405.9 179.9,405.9 180.9,405.9 181.9,405.8 182.9,405.8 183.9,405.8 184.9,405.8 185.9,405.7 186.9,405.7 187.9,405.6 188.9,405.5 189.9,405.5 190.9,405.3 191.9,405.2 192.9,405.0 193.9,404.9 194.9,404.7 195.9,404.5 196.9,404.3 197.9,404.2 198.9,404.0 199.9,403.8 200.9,403.6 201.9,403.4 202.9,403.2 203.9,402.9 204.9,402.6 205.9,402.3 206.9,401.9 207.9,401.4 208.9,400.9 209.9,400.3 210.9,399.7 211.9,399.1 212.9,398.5 213.9,398.0 214.9,397.4 215.9,396.9 216.9,396.4 217.9,395.9 218.9,395.4 219.9,394.9 220.9,394.4 221.9,393.9 222.9,393.3 223.9,392.8 224.9,392.3 225.9,391.8 226.9,391.4 227.9,390.9 228.9,390.4 229.9,389.9 230.9,389.4 231.9,388.9 232.9,388.4 233.9,388.0 234.9,387.5 235.9,387.0 236.9,386.5 237.9,386.0 238.9,385.5 239.9,385.1 240.9,384.6 241.9,384.1 242.9,383.6 243.9,383.1 244.9,382.7 245.9,382.2 246.9,381.7 247.9,381.1 248.9,380.6 249.9,380.0 250.9,379.3 251.9,378.6 252.9,377.9 253.9,377.2 254.9,376.5 255.9,375.9 256.9,375.4 257.9,374.9 258.9,374.5 259.9,374.2 260.9,374.2 261.9,374.4 262.9,375.0 263.9,375.9 264.9,377.0 265.9,378.4 266.9,379.9 267.9,381.5 268.9,383.1 269.9,384.8 270.9,386.3 271.9,387.9 272.9,389.4 273.9,390.9 274.9,392.4 275.9,393.9 276.9,395.4 277.9,396.9 278.9,398.4 279.9,399.9 280.9,401.4 281.9,403.0 282.9,404.5 283.9,405.9 284.9,407.2 285.9,408.4 286.9,409.5 287.9,410.5 288.9,411.4 289.9,412.2 290.9,413.0 291.9,413.6 292.9,414.1 293.9,414.5 294.9,414.9 295.9,415.2 296.9,415.5 297.9,415.7 298.9,416.0 299.9,416.3 300.9,416.6 301.9,416.9 302.9,417.2 303.9,417.5 304.9,417.8 305.9,418.0 306.9,418.2 307.9,418.3 308.9,418.4 309.9,418.5 310.9,418.5 311.9,418.6 312.9,418.6 313.9,418.6 314.9,418.6 315.9,418.6 316.9,418.6 317.9,418.6 318.9,418.6 319.9,418.6 320.9,418.6 321.9,418.6 322.9,418.6 323.9,418.6 324.9,418.6 325.9,418.6 326.9,418.5 327.9,418.5 328.9,418.5 329.9,418.5 330.9,418.5 331.9,418.5 332.9,418.5 333.9,418.5 334.9,418.5 335.9,418.5 336.9,418.5 337.9,418.5 338.9,418.5 339.9,418.5 340.9,418.5 341.9,418.5 342.9,418.5 343.9,418.5 344.9,418.5 345.9,418.5 346.9,418.5 347.9,418.5 348.9,418.5 349.9,418.5 350.9,418.5 351.9,418.5 352.9,418.5 353.9,418.5 354.9,418.5 355.9,418.5 356.9,418.5 357.9,418.5 358.9,418.5 359.9,418.5 360.9,418.5 361.9,418.5 362.9,418.5 363.9,418.5 364.9,418.5 365.9,418.5 366.9,418.5 367.9,418.5 368.9,418.5 369.9,418.5 370.9,418.5 371.9,418.5 372.9,418.4 373.9,418.4 374.9,418.2 375.9,418.0 376.9,417.7 377.9,417.4 378.9,417.0 379.9,416.6 380.9,416.2 381.9,415.7 382.9,415.3 383.9,414.8 384.9,414.4 385.9,414.0 386.9,413.6 387.9,413.2 388.9,412.8 389.9,412.4 390.9,412.0 391.9,411.6 392.9,411.1 393.9,410.7 394.9,410.3 395.9,409.8 396.9,409.5 397.9,409.1 398.9,408.8 399.9,408.5 400.9,408.2 401.9,408.1 402.9,407.9 403.9,407.9 404.9,407.9 405.9,407.9 406.9,408.1 407.9,408.2 408.9,408.4 409.9,408.6 410.9,408.8 411.9,409.1 412.9,409.3 413.9,409.6 414.9,409.8 415.9,410.1 416.9,410.4 417.9,410.6 418.9,410.9 419.9,411.3 420.9,411.6 421.9,411.9 422.9,412.1 423.9,412.4 424.9,412.5 425.9,412.7 426.9,412.7 427.9,412.7 428.9,412.6 429.9,412.4 430.9,412.2 431.9,411.9 432.9,411.6 433.9,411.4 434.9,411.1 435.9,410.9 436.9,410.8 437.9,410.6 438.9,410.5 439.9,410.4 440.9,410.3 441.9,410.2 442.9,410.2 443.9,410.1 444.9,410.1 445.9,410.0 446.9,410.1 447.9,410.1 448.9,410.3 449.9,410.5 450.9,410.9 451.9,411.2 452.9,411.7 453.9,412.1 454.9,412.6 455.9,413.1 456.9,413.6 457.9,414.1 458.9,414.5 459.9,415.0 460.9,415.6 461.9,416.1 462.9,416.7 463.9,417.2 464.9,417.8 465.9,418.4 466.9,418.9 467.9,419.5 468.9,420.0 469.9,420.4 470.9,420.8 471.9,421.1 472.9,421.4 473.9,421.7 474.9,421.9 475.9,422.1 476.9,422.3 477.9,422.5 478.9,422.7 479.9,422.9 480.9,423.0 481.9,423.1 482.9,423.3 483.9,423.3 484.9,423.4 485.9,423.5 486.9,423.5 487.9,423.5 488.9,423.5 489.9,423.5 490.9,423.5 491.9,423.4 492.9,423.4 493.9,423.4 494.9,423.4 495.9,423.3 496.9,423.3 497.9,423.3 498.9,423.2 499.9,423.2 500.9,423.1 501.9,423.1 502.9,423.1 503.9,423.0 504.9,423.0 505.9,422.9 506.9,422.9 507.9,422.8 508.9,422.8 509.9,422.7 510.9,422.7 511.9,422.6 512.9,422.6 513.9,422.5 514.9,422.5 515.9,422.4 516.9,422.3 517.9,422.3 518.9,422.2 519.9,422.1 520.9,422.0 521.9,421.8 522.9,421.7 523.9,421.5 524.9,421.2 525.9,420.8 526.9,420.3 527.9,419.6 528.9,418.9 529.9,418.0 530.9,417.1 531.9,416.2 532.9,415.2 533.9,414.3 534.9,413.2 535.9,412.2 536.9,411.0 537.9,409.8 538.9,408.6 539.9,407.2 540.9,405.8 541.9,404.4 542.9,403.0 543.9,401.6 544.9,400.2 545.9,398.9 546.9,397.6 547.9,396.4 548.9,395.3 549.9,394.1 550.9,393.0 551.9,392.0 552.9,390.9 553.9,389.9 554.9,389.0 555.9,388.1 556.9,387.2 557.9,386.4 558.9,385.7 559.9,385.0 560.9,384.4 561.9,383.9 562.9,383.3 563.9,382.8 564.9,382.2 565.9,381.6 566.9,380.9 567.9,380.1 568.9,379.1 569.9,378.1 570.9,376.8 571.9,375.5 572.9,373.9 573.9,372.3 574.9,370.6 575.9,368.8 576.9,366.9 577.9,364.9 578.9,362.8 579.9,360.5 580.9,358.1 581.9,355.6 582.9,353.2 583.9,350.8 584.9,348.6 585.9,346.4 586.9,344.3 587.9,342.4 588.9,340.7 589.9,339.3 590.9,338.5 591.9,338.1 592.9,338.2 593.9,338.6 594.9,339.6 595.9,341.1 596.9,343.2 597.9,345.8 598.9,348.5 599.9,351.3 600.9,354.1 601.9,356.9 602.9,359.7 603.9,362.7 604.9,365.6 605.9,368.7 606.9,371.9 607.9,375.2 608.9,378.6 609.9,381.9 610.9,385.3 611.9,388.7 612.9,392.1 613.9,395.5 614.9,398.8 615.9,402.0 616.9,405.2 617.9,408.3 618.9,411.3 619.9,414.0 620.9,416.3 621.9,418.2 622.9,419.9 623.9,421.3 624.9,422.6 625.9,423.7 626.9,424.7 627.9,425.7 628.9,426.5 629.9,427.2 630.9,427.8 631.9,428.3 632.9,428.8 633.9,429.2 634.9,429.6 635.9,429.9 636.9,430.2 637.9,430.4 638.9,430.6 639.9,430.7 640.9,430.8 641.9,430.9 642.9,431.0 643.9,431.0 644.9,431.1 645.9,431.1 646.9,431.2 647.9,431.2 648.9,431.3 649.9,431.3 650.9,431.4 651.9,431.4 652.9,431.5 653.9,431.5 654.9,431.6 655.9,431.6 656.9,431.7 657.9,431.7 658.9,431.8 659.9,431.8 660.9,431.9 661.9,431.9 662.9,432.0 663.9,432.0 664.9,432.1 665.9,432.1 666.9,432.2 667.9,432.2 668.9,432.3 669.9,432.3 670.9,432.4 671.9,432.4 672.9,432.5 673.0,432.5" fill="none" stroke="#dcdcff" stroke-width="7.5" stroke-linejoin="round" stroke-linecap="round" />
<polyline points="36.9,706.6 37.9,706.9 38.9,707.2 39.9,707.6 40.9,708.0 41.9,708.4 42.9,708.9 43.9,709.3 44.9,709.8 45.9,710.3 46.9,710.7 47.9,711.2 48.9,711.8 49.9,712.4 50.9,713.1 51.9,713.8 52.9,714.5 53.9,715.2 54.9,715.8 55.9,716.4 56.9,716.9 57.9,717.3 58.9,717.6 59.9,717.7 60.9,717.8 61.9,717.8 62.9,717.8 63.9,717.8 64.9,717.8 65.9,717.8 66.9,717.8 67.9,717.8 68.9,717.8 69.9,717.8 70.9,717.8 71.9,717.8 72.9,717.7 73.9,717.7 74.9,717.7 75.9,717.6 76.9,717.6 77.9,717.5 78.9,717.5 79.9,717.4 80.9,717.4 81.9,717.3 82.9,717.3 83.9,717.2 84.9,717.2 85.9,717.2 86.9,717.1 87.9,717.1 88.9,717.1 89.9,717.2 90.9,717.3 91.9,717.6 92.9,717.9 93.9,718.3 94.9,718.7 95.9,719.2 96.9,719.8 97.9,720.4 98.9,720.9 99.9,721.5 100.9,722.0 101.9,722.5 102.9,722.9 103.9,723.3 104.9,723.7 105.9,724.1 106.9,724.5 107.9,724.9 108.9,725.3 109.9,725.6 110.9,726.0 111.9,726.4 112.9,726.7 113.9,727.1 114.9,727.5 115.9,727.8 116.9,728.2 117.9,728.6 118.9,729.0 119.9,729.3 120.9,729.8 121.9,730.2 122.9,730.6 123.9,731.1 124.9,731.6 125.9,732.1 126.9,732.6 127.9,733.1 128.9,733.5 129.9,733.9 130.9,734.3 131.9,734.7 132.9,735.0 133.9,735.2 134.9,735.4 135.9,735.5 136.9,735.5 137.9,735.5 138.9,735.5 139.9,735.4 140.9,735.4 141.9,735.3 142.9,735.2 143.9,735.1 144.9,735.1 145.9,735.0 146.9,735.0 147.9,734.9 148.9,735.0 149.9,735.0 150.9,735.1 151.9,735.2 152.9,735.3 153.9,735.4 154.9,735.6 155.9,735.7 156.9,735.9 157.9,736.0 158.9,736.1 159.9,736.2 160.9,736.3 161.9,736.4 162.9,736.4 163.9,736.4 164.9,736.4 165.9,736.5 166.9,736.5 167.9,736.5 168.9,736.5 169.9,736.5 170.9,736.5 171.9,736.6 172.9,736.6 173.9,736.6 174.9,736.6 175.9,736.6 176.9,736.6 177.9,736.6 178.9,736.6 179.9,736.6 180.9,736.5 181.9,736.4 182.9,736.3 183.9,736.2 184.9,736.0 185.9,735.7 186.9,735.5 187.9,735.2 188.9,734.9 189.9,734.5 190.9,734.2 191.9,733.9 192.9,733.6 193.9,733.2 194.9,732.9 195.9,732.5 196.9,732.1 197.9,731.7 198.9,731.3 199.9,730.8 200.9,730.4 201.9,729.9 202.9,729.4 203.9,728.9 204.9,728.5 205.9,728.0 206.9,727.6 207.9,727.2 208.9,726.8 209.9,726.4 210.9,726.1 211.9,725.8 212.9,725.4 213.9,725.1 214.9,724.8 215.9,724.5 216.9,724.2 217.9,723.9 218.9,723.5 219.9,723.2 220.9,722.9 221.9,722.6 222.9,722.3 223.9,722.0 224.9,721.7 225.9,721.3 226.9,721.0 227.9,720.7 228.9,720.4 229.9,720.1 230.9,719.7 231.9,719.4 232.9,719.1 233.9,718.8 234.9,718.4 235.9,718.1 236.9,717.7 237.9,717.4 238.9,717.0 239.9,716.6 240.9,716.2 241.9,715.8 242.9,715.4 243.9,715.0 244.9,714.7 245.9,714.4 246.9,714.1 247.9,713.9 248.9,713.7 249.9,713.6 250.9,713.4 251.9,713.3 252.9,713.3 253.9,713.3 254.9,713.4 255.9,713.6 256.9,713.9 257.9,714.3 258.9,714.8 259.9,715.4 260.9,716.1 261.9,716.8 262.9,717.6 263.9,718.6 264.9,719.7 265.9,720.9 266.9,722.3 267.9,723.7 268.9,725.1 269.9,726.5 270.9,727.8 271.9,729.0 272.9,730.2 273.9,731.4 274.9,732.6 275.9,733.8 276.9,734.9 277.9,735.9 278.9,736.9 279.9,737.9 280.9,738.8 281.9,739.7 282.9,740.5 283.9,741.4 284.9,742.2 285.9,743.0 286.9,743.7 287.9,744.3 288.9,744.9 289.9,745.3 290.9,745.7 291.9,746.0 292.9,746.2 293.9,746.4 294.9,746.6 295.9,746.7 296.9,746.8 297.9,747.0 298.9,747.1 299.9,747.2 300.9,747.3 301.9,747.5 302.9,747.7 303.9,747.9 304.9,748.1 305.9,748.3 306.9,748.6 307.9,748.9 308.9,749.1 309.9,749.3 310.9,749.5 311.9,749.7 312.9,749.8 313.9,749.8 314.9,749.9 315.9,749.9 316.9,749.8 317.9,749.8 318.9,749.7 319.9,749.7 320.9,749.6 321.9,749.6 322.9,749.5 323.9,749.4 324.9,749.4 325.9,749.3 326.9,749.3 327.9,749.2 328.9,749.2 329.9,749.2 330.9,749.2 331.9,749.2 332.9,749.2 333.9,749.2 334.9,749.2 335.9,749.2 336.9,749.2 337.9,749.2 338.9,749.2 339.9,749.2 340.9,749.2 341.9,749.2 342.9,749.2 343.9,749.2 344.9,749.2 345.9,749.2 346.9,749.2 347.9,749.2 348.9,749.2 349.9,749.2 350.9,749.2 351.9,749.2 352.9,749.2 353.9,749.2 354.9,749.2 355.9,749.2 356.9,749.2 357.9,749.2 358.9,749.2 359.9,749.2 360.9,749.2 361.9,749.2 362.9,749.2 363.9,749.2 364.9,749.2 365.9,749.2 366.9,749.1 367.9,749.0 368.9,748.9 369.9,748.8 370.9,748.6 371.9,748.4 372.9,748.2 373.9,748.0 374.9,747.7 375.9,747.4 376.9,747.2 377.9,746.9 378.9,746.7 379.9,746.4 380.9,746.1 381.9,745.8 382.9,745.5 383.9,745.2 384.9,744.9 385.9,744.5 386.9,744.2 387.9,743.8 388.9,743.5 389.9,743.2 390.9,742.9 391.9,742.6 392.9,742.4 393.9,742.1 394.9,741.8 395.9,741.5 396.9,741.2 397.9,741.0 398.9,740.7 399.9,740.5 400.9,740.3 401.9,740.2 402.9,740.1 403.9,740.1 404.9,740.0 405.9,740.1 406.9,740.1 407.9,740.2 408.9,740.2 409.9,740.3 410.9,740.4 411.9,740.5 412.9,740.6 413.9,740.8 414.9,740.9 415.9,741.0 416.9,741.2 417.9,741.4 418.9,741.5 419.9,741.8 420.9,742.0 421.9,742.3 422.9,742.6 423.9,743.0 424.9,743.3 425.9,743.6 426.9,743.8 427.9,744.0 428.9,744.2 429.9,744.2 430.9,744.2 431.9,744.2 432.9,744.2 433.9,744.1 434.9,744.0 435.9,743.9 436.9,743.7 437.9,743.6 438.9,743.5 439.9,743.4 440.9,743.2 441.9,743.1 442.9,743.0 443.9,743.0 444.9,742.9 445.9,742.9 446.9,742.9 447.9,742.9 448.9,743.1 449.9,743.3 450.9,743.5 451.9,743.9 452.9,744.2 453.9,744.6 454.9,745.0 455.9,745.4 456.9,745.8 457.9,746.2 458.9,746.6 459.9,746.9 460.9,747.3 461.9,747.7 462.9,748.1 463.9,748.5 464.9,748.9 465.9,749.2 466.9,749.6 467.9,750.0 468.9,750.3 469.9,750.6 470.9,750.9 471.9,751.2 472.9,751.4 473.9,751.6 474.9,751.9 475.9,752.1 476.9,752.3 477.9,752.5 478.9,752.6 479.9,752.8 480.9,753.0 481.9,753.1 482.9,753.2 483.9,753.3 484.9,753.4 485.9,753.5 486.9,753.5 487.9,753.5 488.9,753.5 489.9,753.5 490.9,753.5 491.9,753.5 492.9,753.4 493.9,753.4 494.9,753.4 495.9,753.4 496.9,753.3 497.9,753.3 498.9,753.3 499.9,753.2 500.9,753.2 501.9,753.1 502.9,753.1 503.9,753.0 504.9,753.0 505.9,752.9 506.9,752.9 507.9,752.8 508.9,752.7 509.9,752.6 510.9,752.5 511.9,752.4 512.9,752.2 513.9,752.0 514.9,751.8 515.9,751.6 516.9,751.3 517.9,751.0 518.9,750.6 519.9,750.2 520.9,749.7 521.9,749.1 522.9,748.5 523.9,747.9 524.9,747.2 525.9,746.5 526.9,745.8 527.9,745.0 528.9,744.1 529.9,743.2 530.9,742.2 531.9,741.1 532.9,740.1 533.9,739.0 534.9,737.9 535.9,736.8 536.9,735.7 537.9,734.6 538.9,733.5 539.9,732.3 540.9,731.2 541.9,730.0 542.9,728.8 543.9,727.5 544.9,726.3 545.9,725.1 546.9,724.0 547.9,722.8 548.9,721.7 549.9,720.7 550.9,719.6 551.9,718.7 552.9,717.7 553.9,716.8 554.9,715.9 555.9,715.0 556.9,714.1 557.9,713.2 558.9,712.3 559.9,711.4 560.9,710.5 561.9,709.6 562.9,708.7 563.9,707.8 564.9,706.9 565.9,706.0 566.9,705.1 567.9,704.1 568.9,703.2 569.9,702.2 570.9,701.1 571.9,700.0 572.9,698.8 573.9,697.5 574.9,696.1 575.9,694.7 576.9,693.4 577.9,692.2 578.9,691.1 579.9,690.3 580.9,689.6 581.9,689.0 582.9,688.7 583.9,688.6 584.9,688.8 585.9,689.3 586.9,689.9 587.9,690.6 588.9,691.6 589.9,692.8 590.9,694.3 591.9,695.9 592.9,697.8 593.9,699.8 594.9,702.0 595.9,704.4 596.9,707.0 597.9,709.6 598.9,712.1 599.9,714.7 600.9,717.2 601.9,719.7 602.9,722.2 603.9,724.8 604.9,727.3 605.9,729.9 606.9,732.4 607.9,734.9 608.9,737.3 609.9,739.7 610.9,742.0 611.9,744.2 612.9,746.4 613.9,748.3 614.9,749.9 615.9,751.3 616.9,752.4 617.9,753.4 618.9,754.2 619.9,755.0 620.9,755.7 621.9,756.4 622.9,756.9 623.9,757.4 624.9,757.8 625.9,758.0 626.9,758.3 627.9,758.4 628.9,758.6 629.9,758.7 630.9,758.8 631.9,758.9 632.9,759.0 633.9,759.1 634.9,759.1 635.9,759.2 636.9,759.3 637.9,759.3 638.9,759.4 639.9,759.4 640.9,759.5 641.9,759.6 642.9,759.6 643.9,759.6 644.9,759.7 645.9,759.7 646.9,759.8 647.9,759.8 648.9,759.9 649.9,759.9 650.9,760.0 651.9,760.1 652.9,760.1 653.9,760.2 654.9,760.3 655.9,760.4 656.9,760.5 657.9,760.7 658.9,760.8 659.9,760.9 660.9,761.1 661.9,761.3 662.9,761.4 663.9,761.6 664.9,761.8 665.9,762.0 666.9,762.2 667.9,762.4 668.9,762.6 669.9,762.8 670.9,763.0 671.9,763.2 672.9,763.4 673.0,763.4" fill="none" stroke="#ffdcdc" stroke-width="7.5" stroke-linejoin="round" stroke-linecap="round" />
<polyline points="36.9,988.9 37.9,989.4 38.9,990.0 39.9,990.6 40.9,991.3 41.9,991.9 42.9,992.6 43.9,993.2 44.9,993.8 45.9,994.4 46.9,994.9 47.9,995.5 48.9,996.0 49.9,996.6 50.9,997.2 51.9,997.7 52.9,998.3 53.9,998.8 54.9,999.3 55.9,999.8 56.9,1000.1 57.9,1000.4 58.9,1000.5 59.9,1000.6 60.9,1000.6 61.9,1000.6 62.9,1000.5 63.9,1000.4 64.9,1000.3 65.9,1000.2 66.9,1000.1 67.9,1000.0 68.9,999.8 69.9,999.7 70.9,999.6 71.9,999.4 72.9,999.3 73.9,999.2 74.9,999.1 75.9,999.0 76.9,998.9 77.9,998.8 78.9,998.7 79.9,998.6 80.9,998.5 81.9,998.4 82.9,998.3 83.9,998.2 84.9,998.1 85.9,998.0 86.9,998.0 87.9,997.9 88.9,997.9 89.9,997.8 90.9,997.8 91.9,997.9 92.9,998.0 93.9,998.2 94.9,998.4 95.9,998.7 96.9,999.0 97.9,999.4 98.9,999.8 99.9,1000.2 100.9,1000.7 101.9,1001.2 102.9,1001.6 103.9,1002.1 104.9,1002.6 105.9,1003.2 106.9,1003.8 107.9,1004.4 108.9,1005.1 109.9,1005.8 110.9,1006.6 111.9,1007.4 112.9,1008.2 113.9,1009.0 114.9,1009.8 115.9,1010.6 116.9,1011.2 117.9,1011.8 118.9,1012.4 119.9,1012.9 120.9,1013.3 121.9,1013.7 122.9,1014.1 123.9,1014.4 124.9,1014.8 125.9,1015.1 126.9,1015.4 127.9,1015.7 128.9,1015.9 129.9,1016.2 130.9,1016.4 131.9,1016.7 132.9,1016.9 133.9,1017.1 134.9,1017.3 135.9,1017.5 136.9,1017.7 137.9,1017.9 138.9,1018.1 139.9,1018.2 140.9,1018.4 141.9,1018.5 142.9,1018.7 143.9,1018.8 144.9,1018.9 145.9,1019.0 146.9,1019.1 147.9,1019.2 148.9,1019.2 149.9,1019.3 150.9,1019.3 151.9,1019.4 152.9,1019.4 153.9,1019.4 154.9,1019.5 155.9,1019.5 156.9,1019.5 157.9,1019.6 158.9,1019.6 159.9,1019.6 160.9,1019.7 161.9,1019.7 162.9,1019.7 163.9,1019.7 164.9,1019.8 165.9,1019.8 166.9,1019.8 167.9,1019.8 168.9,1019.8 169.9,1019.9 170.9,1019.9 171.9,1019.9 172.9,1019.9 173.9,1019.9 174.9,1019.9 175.9,1019.9 176.9,1019.9 177.9,1019.9 178.9,1019.9 179.9,1019.9 180.9,1019.8 181.9,1019.8 182.9,1019.8 183.9,1019.8 184.9,1019.7 185.9,1019.7 186.9,1019.6 187.9,1019.6 188.9,1019.5 189.9,1019.5 190.9,1019.4 191.9,1019.3 192.9,1019.2 193.9,1019.1 194.9,1019.0 195.9,1018.8 196.9,1018.5 197.9,1018.2 198.9,1017.9 199.9,1017.5 200.9,1017.2 201.9,1016.8 202.9,1016.4 203.9,1016.1 204.9,1015.7 205.9,1015.4 206.9,1015.2 207.9,1014.9 208.9,1014.6 209.9,1014.3 210.9,1014.0 211.9,1013.7 212.9,1013.2 213.9,1012.8 214.9,1012.3 215.9,1011.7 216.9,1011.2 217.9,1010.6 218.9,1010.0 219.9,1009.4 220.9,1008.8 221.9,1008.2 222.9,1007.6 223.9,1007.0 224.9,1006.4 225.9,1005.8 226.9,1005.2 227.9,1004.7 228.9,1004.3 229.9,1004.1 230.9,1003.9 231.9,1003.8 232.9,1003.8 233.9,1003.7 234.9,1003.7 235.9,1003.6 236.9,1003.5 237.9,1003.5 238.9,1003.3 239.9,1003.2 240.9,1003.0 241.9,1002.8 242.9,1002.5 243.9,1002.2 244.9,1001.9 245.9,1001.6 246.9,1001.3 247.9,1001.0 248.9,1000.7 249.9,1000.4 250.9,1000.0 251.9,999.7 252.9,999.4 253.9,999.1 254.9,998.8 255.9,998.5 256.9,998.3 257.9,998.2 258.9,998.1 259.9,998.2 260.9,998.5 261.9,998.8 262.9,999.3 263.9,999.9 264.9,1000.5 265.9,1001.3 266.9,1002.0 267.9,1002.9 268.9,1003.8 269.9,1004.9 270.9,1006.0 271.9,1007.2 272.9,1008.4 273.9,1009.6 274.9,1010.8 275.9,1012.1 276.9,1013.4 277.9,1014.7 278.9,1016.0 279.9,1017.3 280.9,1018.6 281.9,1019.8 282.9,1021.0 283.9,1022.1 284.9,1023.3 285.9,1024.3 286.9,1025.3 287.9,1026.2 288.9,1026.9 289.9,1027.5 290.9,1028.1 291.9,1028.6 292.9,1029.0 293.9,1029.5 294.9,1029.8 295.9,1030.2 296.9,1030.5 297.9,1030.9 298.9,1031.2 299.9,1031.5 300.9,1031.7 301.9,1032.0 302.9,1032.3 303.9,1032.6 304.9,1032.8 305.9,1033.0 306.9,1033.1 307.9,1033.2 308.9,1033.3 309.9,1033.3 310.9,1033.3 311.9,1033.3 312.9,1033.3 313.9,1033.3 314.9,1033.3 315.9,1033.3 316.9,1033.2 317.9,1033.2 318.9,1033.2 319.9,1033.2 320.9,1033.2 321.9,1033.2 322.9,1033.2 323.9,1033.2 324.9,1033.2 325.9,1033.1 326.9,1033.1 327.9,1033.1 328.9,1033.1 329.9,1033.1 330.9,1033.1 331.9,1033.1 332.9,1033.1 333.9,1033.1 334.9,1033.1 335.9,1033.1 336.9,1033.1 337.9,1033.0 338.9,1033.0 339.9,1033.0 340.9,1033.0 341.9,1033.0 342.9,1033.0 343.9,1033.0 344.9,1033.0 345.9,1033.0 346.9,1033.0 347.9,1033.0 348.9,1033.0 349.9,1033.0 350.9,1033.0 351.9,1033.0 352.9,1033.0 353.9,1033.0 354.9,1033.0 355.9,1033.0 356.9,1033.0 357.9,1032.9 358.9,1032.9 359.9,1032.9 360.9,1032.9 361.9,1032.9 362.9,1032.9 363.9,1032.9 364.9,1032.9 365.9,1032.9 366.9,1032.8 367.9,1032.8 368.9,1032.8 369.9,1032.8 370.9,1032.7 371.9,1032.7 372.9,1032.6 373.9,1032.4 374.9,1032.3 375.9,1032.1 376.9,1031.9 377.9,1031.7 378.9,1031.4 379.9,1031.2 380.9,1030.9 381.9,1030.6 382.9,1030.4 383.9,1030.1 384.9,1029.7 385.9,1029.4 386.9,1029.0 387.9,1028.5 388.9,1028.1 389.9,1027.6 390.9,1027.2 391.9,1026.7 392.9,1026.3 393.9,1025.8 394.9,1025.4 395.9,1025.0 396.9,1024.6 397.9,1024.2 398.9,1023.8 399.9,1023.4 400.9,1023.1 401.9,1022.8 402.9,1022.5 403.9,1022.3 404.9,1022.2 405.9,1022.2 406.9,1022.2 407.9,1022.3 408.9,1022.4 409.9,1022.5 410.9,1022.6 411.9,1022.8 412.9,1023.0 413.9,1023.2 414.9,1023.4 415.9,1023.6 416.9,1023.8 417.9,1024.1 418.9,1024.4 419.9,1024.7 420.9,1025.1 421.9,1025.4 422.9,1025.7 423.9,1025.9 424.9,1026.1 425.9,1026.3 426.9,1026.3 427.9,1026.3 428.9,1026.3 429.9,1026.2 430.9,1026.1 431.9,1025.9 432.9,1025.8 433.9,1025.6 434.9,1025.4 435.9,1025.2 436.9,1025.0 437.9,1024.8 438.9,1024.6 439.9,1024.4 440.9,1024.2 441.9,1024.0 442.9,1023.8 443.9,1023.7 444.9,1023.6 445.9,1023.6 446.9,1023.6 447.9,1023.6 448.9,1023.7 449.9,1023.9 450.9,1024.2 451.9,1024.5 452.9,1024.9 453.9,1025.3 454.9,1025.7 455.9,1026.1 456.9,1026.5 457.9,1026.9 458.9,1027.3 459.9,1027.8 460.9,1028.3 461.9,1028.8 462.9,1029.3 463.9,1029.9 464.9,1030.5 465.9,1031.0 466.9,1031.6 467.9,1032.1 468.9,1032.7 469.9,1033.1 470.9,1033.5 471.9,1033.9 472.9,1034.2 473.9,1034.5 474.9,1034.8 475.9,1035.0 476.9,1035.3 477.9,1035.5 478.9,1035.7 479.9,1035.9 480.9,1036.1 481.9,1036.3 482.9,1036.4 483.9,1036.6 484.9,1036.7 485.9,1036.7 486.9,1036.8 487.9,1036.8 488.9,1036.9 489.9,1036.9 490.9,1036.9 491.9,1036.9 492.9,1036.9 493.9,1037.0 494.9,1037.0 495.9,1037.0 496.9,1037.0 497.9,1037.0 498.9,1037.0 499.9,1037.1 500.9,1037.1 501.9,1037.1 502.9,1037.1 503.9,1037.1 504.9,1037.1 505.9,1037.1 506.9,1037.1 507.9,1037.1 508.9,1037.1 509.9,1037.0 510.9,1037.0 511.9,1036.9 512.9,1036.8 513.9,1036.7 514.9,1036.6 515.9,1036.5 516.9,1036.3 517.9,1036.1 518.9,1036.0 519.9,1035.7 520.9,1035.5 521.9,1035.2 522.9,1034.9 523.9,1034.6 524.9,1034.2 525.9,1033.8 526.9,1033.4 527.9,1032.9 528.9,1032.5 529.9,1032.0 530.9,1031.4 531.9,1030.8 532.9,1030.1 533.9,1029.3 534.9,1028.4 535.9,1027.5 536.9,1026.5 537.9,1025.4 538.9,1024.3 539.9,1023.2 540.9,1022.0 541.9,1020.8 542.9,1019.5 543.9,1018.1 544.9,1016.7 545.9,1015.2 546.9,1013.6 547.9,1012.1 548.9,1010.7 549.9,1009.4 550.9,1008.1 551.9,1007.0 552.9,1005.9 553.9,1004.9 554.9,1004.0 555.9,1003.1 556.9,1002.2 557.9,1001.4 558.9,1000.6 559.9,999.9 560.9,999.2 561.9,998.5 562.9,997.9 563.9,997.3 564.9,996.7 565.9,996.1 566.9,995.4 567.9,994.8 568.9,994.1 569.9,993.3 570.9,992.6 571.9,991.8 572.9,991.0 573.9,990.1 574.9,989.3 575.9,988.3 576.9,987.3 577.9,986.3 578.9,985.0 579.9,983.7 580.9,982.2 581.9,980.7 582.9,979.3 583.9,978.0 584.9,976.9 585.9,975.9 586.9,975.0 587.9,974.2 588.9,973.5 589.9,973.1 590.9,973.0 591.9,973.3 592.9,973.9 593.9,974.9 594.9,976.2 595.9,977.7 596.9,979.4 597.9,981.4 598.9,983.6 599.9,986.1 600.9,988.7 601.9,991.2 602.9,993.8 603.9,996.3 604.9,999.0 605.9,1001.7 606.9,1004.5 607.9,1007.4 608.9,1010.3 609.9,1013.0 610.9,1015.7 611.9,1018.2 612.9,1020.7 613.9,1023.0 614.9,1025.3 615.9,1027.5 616.9,1029.4 617.9,1031.2 618.9,1032.7 619.9,1034.2 620.9,1035.5 621.9,1036.7 622.9,1037.7 623.9,1038.6 624.9,1039.4 625.9,1040.2 626.9,1040.8 627.9,1041.4 628.9,1041.9 629.9,1042.4 630.9,1042.8 631.9,1043.2 632.9,1043.5 633.9,1043.7 634.9,1043.9 635.9,1044.1 636.9,1044.2 637.9,1044.4 638.9,1044.5 639.9,1044.6 640.9,1044.7 641.9,1044.7 642.9,1044.8 643.9,1044.9 644.9,1044.9 645.9,1045.0 646.9,1045.0 647.9,1045.0 648.9,1045.1 649.9,1045.1 650.9,1045.1 651.9,1045.2 652.9,1045.2 653.9,1045.3 654.9,1045.4 655.9,1045.4 656.9,1045.5 657.9,1045.7 658.9,1045.9 659.9,1046.3 660.9,1046.8 661.9,1047.3 662.9,1047.4 663.9,1046.9 664.9,1045.9 665.9,1045.3 666.9,1045.5 667.9,1046.4 668.9,1047.4 669.9,1048.0 670.9,1048.2 671.9,1048.1 672.9,1047.9 673.9,1047.6 674.3,1047.4" fill="none" stroke="#dcf6dc" stroke-width="7.5" stroke-linejoin="round" stroke-linecap="round" />
<polyline points="735.0,434.2 736.0,434.2 737.0,434.2 738.0,434.2 739.0,434.2 740.0,434.2 741.0,434.2 742.0,434.2 743.0,434.3 744.0,434.3 745.0,434.3 746.0,434.3 747.0,434.3 748.0,434.3 749.0,434.3 750.0,434.3 751.0,434.3 752.0,434.3 753.0,434.3 754.0,434.3 755.0,434.3 756.0,434.3 757.0,434.3 758.0,434.3 759.0,434.4 760.0,434.4 761.0,434.4 762.0,434.4 763.0,434.4 764.0,434.4 765.0,434.4 766.0,434.4 767.0,434.4 768.0,434.4 769.0,434.4 770.0,434.4 771.0,434.4 772.0,434.4 773.0,434.4 774.0,434.4 775.0,434.4 776.0,434.4 777.0,434.4 778.0,434.5 779.0,434.5 780.0,434.5 781.0,434.5 782.0,434.5 783.0,434.5 784.0,434.5 785.0,434.5 786.0,434.5 787.0,434.5 788.0,434.5 789.0,434.5 790.0,434.5 791.0,434.5 792.0,434.5 793.0,434.5 794.0,434.5 795.0,434.5 796.0,434.5 797.0,434.5 798.0,434.5 799.0,434.5 800.0,434.5 801.0,434.5 802.0,434.5 803.0,434.5 804.0,434.5 805.0,434.5 806.0,434.5 807.0,434.5 808.0,434.5 809.0,434.5 810.0,434.5 811.0,434.5 812.0,434.5 813.0,434.5 814.0,434.5 815.0,434.5 816.0,434.5 817.0,434.5 818.0,434.5 819.0,434.5 820.0,434.5 821.0,434.5 822.0,434.5 823.0,434.5 824.0,434.5 825.0,434.5 826.0,434.5 827.0,434.5 828.0,434.5 829.0,434.5 830.0,434.5 831.0,434.5 832.0,434.5 833.0,434.5 834.0,434.5 835.0,434.5 836.0,434.5 837.0,434.5 838.0,434.5 839.0,434.5 840.0,434.5 841.0,434.5 842.0,434.5 843.0,434.5 844.0,434.5 845.0,434.5 846.0,434.5 847.0,434.5 848.0,434.5 849.0,434.5 850.0,434.5 851.0,434.5 852.0,434.5 853.0,434.5 854.0,434.5 855.0,434.5 856.0,434.5 857.0,434.5 858.0,434.5 859.0,434.5 860.0,434.5 861.0,434.5 862.0,434.5 863.0,434.5 864.0,434.5 865.0,434.5 866.0,434.5 867.0,434.5 868.0,434.5 869.0,434.5 870.0,434.5 871.0,434.5 872.0,434.5 873.0,434.5 874.0,434.5 875.0,434.5 876.0,434.5 877.0,434.5 878.0,434.5 879.0,434.5 880.0,434.5 881.0,434.5 882.0,434.5 883.0,434.5 884.0,434.5 885.0,434.5 886.0,434.5 887.0,434.5 888.0,434.5 889.0,434.5 890.0,434.5 891.0,434.5 892.0,434.5 893.0,434.5 894.0,434.5 895.0,434.5 896.0,434.5 897.0,434.5 898.0,434.5 899.0,434.5 900.0,434.5 901.0,434.5 902.0,434.5 903.0,434.5 904.0,434.5 905.0,434.6 906.0,434.6 907.0,434.6 908.0,434.6 909.0,434.6 910.0,434.6 911.0,434.6 912.0,434.7 913.0,434.7 914.0,434.7 915.0,434.7 916.0,434.7 917.0,434.8 918.0,434.8 919.0,434.8 920.0,434.8 921.0,434.8 922.0,434.9 923.0,434.9 924.0,434.9 925.0,434.9 926.0,434.9 927.0,434.8 928.0,434.8 929.0,434.7 930.0,434.6 931.0,434.5 932.0,434.3 933.0,434.1 934.0,433.9 935.0,433.6 936.0,433.3 937.0,432.9 938.0,432.6 939.0,432.2 940.0,431.8 941.0,431.4 942.0,430.9 943.0,430.5 944.0,430.0 945.0,429.6 946.0,429.1 947.0,428.6 948.0,428.1 949.0,427.5 950.0,427.0 951.0,426.4 952.0,425.8 953.0,425.2 954.0,424.5 955.0,423.8 956.0,423.1 957.0,422.4 958.0,421.6 959.0,420.8 960.0,419.9 961.0,419.0 962.0,418.1 963.0,417.1 964.0,416.1 965.0,415.0 966.0,413.9 967.0,412.7 968.0,411.5 969.0,410.2 970.0,408.8 971.0,407.4 972.0,405.9 973.0,404.3 974.0,402.6 975.0,400.9 976.0,399.0 977.0,397.1 978.0,395.1 979.0,392.9 980.0,390.7 981.0,388.3 982.0,385.8 983.0,383.2 984.0,380.6 985.0,377.8 986.0,374.9 987.0,371.9 988.0,368.8 989.0,365.7 990.0,362.4 991.0,359.1 992.0,355.7 993.0,352.2 994.0,348.7 995.0,345.1 996.0,341.4 997.0,337.8 998.0,334.0 999.0,330.3 1000.0,326.5 1001.0,322.8 1002.0,319.0 1003.0,315.2 1004.0,311.3 1005.0,307.5 1006.0,303.7 1007.0,299.9 1008.0,296.0 1009.0,292.2 1010.0,288.4 1011.0,284.5 1012.0,280.7 1013.0,276.9 1014.0,273.1 1015.0,269.3 1016.0,265.5 1017.0,261.7 1018.0,257.9 1019.0,254.0 1020.0,250.2 1021.0,246.5 1022.0,242.7 1023.0,239.0 1024.0,235.4 1025.0,231.9 1026.0,228.5 1027.0,225.2 1028.0,222.2 1029.0,219.4 1030.0,216.8 1031.0,214.5 1032.0,212.5 1033.0,210.7 1034.0,209.2 1035.0,208.0 1036.0,207.0 1037.0,206.4 1038.0,206.0 1039.0,205.8 1040.0,205.9 1041.0,206.2 1042.0,206.7 1043.0,207.4 1044.0,208.3 1045.0,209.4 1046.0,210.7 1047.0,212.2 1048.0,213.8 1049.0,215.6 1050.0,217.5 1051.0,219.7 1052.0,221.9 1053.0,224.4 1054.0,226.9 1055.0,229.7 1056.0,232.5 1057.0,235.5 1058.0,238.7 1059.0,242.1 1060.0,245.6 1061.0,249.4 1062.0,253.3 1063.0,257.4 1064.0,261.7 1065.0,266.1 1066.0,270.7 1067.0,275.4 1068.0,280.2 1069.0,285.0 1070.0,289.8 1071.0,294.6 1072.0,299.4 1073.0,304.0 1074.0,308.5 1075.0,312.9 1076.0,317.0 1077.0,321.0 1078.0,324.8 1079.0,328.4 1080.0,331.7 1081.0,335.0 1082.0,338.1 1083.0,341.0 1084.0,343.9 1085.0,346.8 1086.0,349.6 1087.0,352.5 1088.0,355.2 1089.0,357.9 1090.0,360.5 1091.0,363.0 1092.0,365.4 1093.0,367.6 1094.0,369.6 1095.0,371.5 1096.0,373.1 1097.0,374.7 1098.0,376.1 1099.0,377.3 1100.0,378.4 1101.0,379.4 1102.0,380.3 1103.0,381.0 1104.0,381.6 1105.0,382.0 1106.0,382.3 1107.0,382.4 1108.0,382.3 1109.0,382.1 1110.0,381.7 1111.0,381.0 1112.0,380.3 1113.0,379.4 1114.0,378.3 1115.0,377.2 1116.0,375.9 1117.0,374.6 1118.0,373.2 1119.0,371.6 1120.0,369.9 1121.0,368.0 1122.0,366.0 1123.0,363.7 1124.0,361.2 1125.0,358.5 1126.0,355.5 1127.0,352.3 1128.0,348.9 1129.0,345.2 1130.0,341.4 1131.0,337.4 1132.0,333.2 1133.0,328.8 1134.0,324.3 1135.0,319.5 1136.0,314.5 1137.0,309.3 1138.0,303.9 1139.0,298.2 1140.0,292.4 1141.0,286.4 1142.0,280.2 1143.0,273.9 1144.0,267.4 1145.0,260.9 1146.0,254.4 1147.0,247.8 1148.0,241.3 1149.0,234.9 1150.0,228.5 1151.0,222.2 1152.0,216.0 1153.0,209.9 1154.0,203.8 1155.0,197.7 1156.0,191.7 1157.0,185.8 1158.0,179.9 1159.0,174.1 1160.0,168.4 1161.0,162.8 1162.0,157.3 1163.0,152.0 1164.0,146.8 1165.0,141.8 1166.0,136.9 1167.0,132.1 1168.0,127.5 1169.0,123.0 1170.0,118.6 1171.0,114.4 1172.0,110.3 1173.0,106.5 1174.0,102.9 1175.0,99.6 1176.0,96.7 1177.0,94.2 1178.0,92.1 1179.0,90.5 1180.0,89.3 1181.0,88.4 1182.0,87.9 1183.0,87.8 1184.0,87.9 1185.0,88.3 1186.0,89.0 1187.0,90.0 1188.0,91.3 1189.0,92.9 1190.0,94.8 1191.0,97.1 1192.0,99.6 1193.0,102.5 1194.0,105.6 1195.0,109.0 1196.0,112.6 1197.0,116.5 1198.0,120.6 1199.0,124.9 1200.0,129.5 1201.0,134.4 1202.0,139.5 1203.0,145.0 1204.0,150.8 1205.0,156.8 1206.0,163.1 1207.0,169.6 1208.0,176.3 1209.0,183.1 1210.0,190.1 1211.0,197.1 1212.0,204.2 1213.0,211.4 1214.0,218.7 1215.0,225.9 1216.0,233.1 1217.0,240.2 1218.0,247.2 1219.0,254.1 1220.0,260.7 1221.0,267.1 1222.0,273.3 1223.0,279.2 1224.0,284.8 1225.0,290.2 1226.0,295.4 1227.0,300.4 1228.0,305.3 1229.0,310.1 1230.0,314.9 1231.0,319.7 1232.0,324.4 1233.0,329.2 1234.0,334.1 1235.0,338.9 1236.0,343.8 1237.0,348.6 1238.0,353.5 1239.0,358.3 1240.0,363.0 1241.0,367.7 1242.0,372.2 1243.0,376.6 1244.0,380.9 1245.0,385.0 1246.0,388.9 1247.0,392.6 1248.0,396.0 1249.0,399.3 1250.0,402.4 1251.0,405.2 1252.0,407.9 1253.0,410.4 1254.0,412.8 1255.0,415.0 1256.0,417.0 1257.0,418.9 1258.0,420.6 1259.0,422.2 1260.0,423.7 1261.0,425.1 1262.0,426.3 1263.0,427.5 1264.0,428.5 1265.0,429.5 1266.0,430.5 1267.0,431.3 1268.0,432.1 1269.0,432.9 1270.0,433.6 1271.0,434.3 1272.0,434.9 1273.0,435.5 1274.0,436.0 1275.0,436.5 1276.0,436.9 1277.0,437.3 1278.0,437.7 1279.0,438.1 1280.0,438.4 1281.0,438.7 1282.0,438.9 1283.0,439.2 1284.0,439.4 1285.0,439.6 1286.0,439.8 1287.0,439.9 1288.0,440.1 1289.0,440.2 1290.0,440.3 1291.0,440.4 1292.0,440.5 1293.0,440.5 1294.0,440.6 1295.0,440.6 1296.0,440.7 1297.0,440.7 1298.0,440.8 1299.0,440.8 1300.0,440.8 1301.0,440.8 1302.0,440.9 1303.0,440.9 1304.0,440.9 1305.0,441.0 1306.0,441.0 1307.0,441.0 1308.0,441.0 1309.0,441.1 1310.0,441.1 1311.0,441.1 1312.0,441.1 1313.0,441.2 1314.0,441.2 1315.0,441.2 1316.0,441.2 1317.0,441.2 1318.0,441.3 1319.0,441.3 1320.0,441.3 1321.0,441.3 1322.0,441.4 1323.0,441.4 1324.0,441.4 1325.0,441.4 1326.0,441.5 1327.0,441.5 1328.0,441.5 1329.0,441.6 1330.0,441.6 1331.0,441.6 1332.0,441.7 1333.0,441.7 1334.0,441.7 1335.0,441.7 1336.0,441.8 1337.0,441.8 1338.0,441.8 1339.0,441.9 1340.0,441.9 1341.0,441.9 1342.0,442.0 1343.0,442.0 1344.0,442.0 1345.0,442.1 1346.0,442.1 1347.0,442.1 1348.0,442.2 1349.0,442.2 1350.0,442.2 1351.0,442.3 1352.0,442.3 1353.0,442.3 1354.0,442.4 1355.0,442.4 1356.0,442.5 1357.0,442.5 1358.0,442.5 1359.0,442.6 1360.0,442.6 1361.0,442.6 1362.0,442.7 1363.0,442.7 1364.0,442.8 1365.0,442.8 1366.0,442.8 1367.0,442.9 1368.0,442.9 1369.0,443.0 1370.0,443.0 1371.0,443.0 1372.0,443.1 1373.0,443.1 1374.0,443.2 1375.0,443.2 1376.0,443.2 1377.0,443.3 1378.0,443.3 1379.0,443.4 1380.0,443.4 1381.0,443.4 1382.0,443.5 1383.0,443.5 1384.0,443.5" fill="none" stroke="#dcdcff" stroke-width="7" stroke-linejoin="round" stroke-linecap="round" />
<polyline points="735.0,758.4 736.0,758.4 737.0,758.4 738.0,758.4 739.0,758.4 740.0,758.4 741.0,758.4 742.0,758.4 743.0,758.4 744.0,758.4 745.0,758.4 746.0,758.4 747.0,758.4 748.0,758.4 749.0,758.4 750.0,758.4 751.0,758.4 752.0,758.4 753.0,758.4 754.0,758.4 755.0,758.4 756.0,758.4 757.0,758.4 758.0,758.4 759.0,758.4 760.0,758.4 761.0,758.4 762.0,758.4 763.0,758.4 764.0,758.4 765.0,758.4 766.0,758.4 767.0,758.4 768.0,758.4 769.0,758.4 770.0,758.4 771.0,758.4 772.0,758.4 773.0,758.4 774.0,758.4 775.0,758.4 776.0,758.4 777.0,758.4 778.0,758.4 779.0,758.4 780.0,758.4 781.0,758.4 782.0,758.4 783.0,758.4 784.0,758.4 785.0,758.4 786.0,758.4 787.0,758.4 788.0,758.4 789.0,758.4 790.0,758.4 791.0,758.4 792.0,758.4 793.0,758.4 794.0,758.4 795.0,758.4 796.0,758.4 797.0,758.4 798.0,758.4 799.0,758.4 800.0,758.4 801.0,758.4 802.0,758.4 803.0,758.4 804.0,758.4 805.0,758.4 806.0,758.4 807.0,758.4 808.0,758.4 809.0,758.4 810.0,758.4 811.0,758.4 812.0,758.4 813.0,758.4 814.0,758.4 815.0,758.4 816.0,758.4 817.0,758.4 818.0,758.5 819.0,758.5 820.0,758.5 821.0,758.5 822.0,758.5 823.0,758.5 824.0,758.5 825.0,758.5 826.0,758.5 827.0,758.5 828.0,758.5 829.0,758.5 830.0,758.5 831.0,758.5 832.0,758.5 833.0,758.6 834.0,758.6 835.0,758.6 836.0,758.6 837.0,758.6 838.0,758.6 839.0,758.6 840.0,758.6 841.0,758.6 842.0,758.6 843.0,758.6 844.0,758.6 845.0,758.7 846.0,758.7 847.0,758.7 848.0,758.7 849.0,758.7 850.0,758.7 851.0,758.7 852.0,758.7 853.0,758.7 854.0,758.7 855.0,758.7 856.0,758.8 857.0,758.8 858.0,758.8 859.0,758.8 860.0,758.8 861.0,758.8 862.0,758.8 863.0,758.8 864.0,758.8 865.0,758.8 866.0,758.8 867.0,758.8 868.0,758.9 869.0,758.9 870.0,758.9 871.0,758.9 872.0,758.9 873.0,758.9 874.0,758.9 875.0,758.9 876.0,758.9 877.0,758.9 878.0,758.9 879.0,758.9 880.0,758.9 881.0,759.0 882.0,759.0 883.0,759.0 884.0,759.0 885.0,759.0 886.0,759.0 887.0,759.0 888.0,759.0 889.0,759.0 890.0,759.0 891.0,759.0 892.0,759.0 893.0,759.0 894.0,759.0 895.0,759.0 896.0,759.0 897.0,759.0 898.0,759.0 899.0,759.0 900.0,759.0 901.0,758.9 902.0,758.9 903.0,758.8 904.0,758.8 905.0,758.7 906.0,758.6 907.0,758.5 908.0,758.3 909.0,758.2 910.0,758.1 911.0,757.9 912.0,757.7 913.0,757.5 914.0,757.3 915.0,757.1 916.0,756.9 917.0,756.7 918.0,756.5 919.0,756.2 920.0,756.0 921.0,755.7 922.0,755.4 923.0,755.0 924.0,754.7 925.0,754.3 926.0,753.9 927.0,753.5 928.0,753.0 929.0,752.5 930.0,752.0 931.0,751.5 932.0,751.0 933.0,750.4 934.0,749.8 935.0,749.2 936.0,748.6 937.0,748.0 938.0,747.4 939.0,746.7 940.0,746.1 941.0,745.4 942.0,744.7 943.0,744.0 944.0,743.3 945.0,742.5 946.0,741.7 947.0,740.9 948.0,740.1 949.0,739.3 950.0,738.4 951.0,737.5 952.0,736.5 953.0,735.6 954.0,734.6 955.0,733.5 956.0,732.5 957.0,731.4 958.0,730.2 959.0,729.1 960.0,727.8 961.0,726.5 962.0,725.1 963.0,723.7 964.0,722.2 965.0,720.6 966.0,718.9 967.0,717.2 968.0,715.4 969.0,713.6 970.0,711.7 971.0,709.8 972.0,707.9 973.0,705.9 974.0,704.0 975.0,702.0 976.0,700.0 977.0,698.0 978.0,695.9 979.0,693.9 980.0,691.7 981.0,689.6 982.0,687.4 983.0,685.2 984.0,683.0 985.0,680.7 986.0,678.4 987.0,676.0 988.0,673.6 989.0,671.1 990.0,668.6 991.0,666.0 992.0,663.3 993.0,660.5 994.0,657.7 995.0,654.9 996.0,652.0 997.0,649.0 998.0,646.0 999.0,643.0 1000.0,640.0 1001.0,637.0 1002.0,633.9 1003.0,630.9 1004.0,627.9 1005.0,624.8 1006.0,621.8 1007.0,618.8 1008.0,615.8 1009.0,612.9 1010.0,610.0 1011.0,607.1 1012.0,604.3 1013.0,601.5 1014.0,598.8 1015.0,596.1 1016.0,593.5 1017.0,591.0 1018.0,588.6 1019.0,586.2 1020.0,584.0 1021.0,581.8 1022.0,579.8 1023.0,577.8 1024.0,576.0 1025.0,574.3 1026.0,572.8 1027.0,571.4 1028.0,570.2 1029.0,569.1 1030.0,568.2 1031.0,567.5 1032.0,566.9 1033.0,566.5 1034.0,566.3 1035.0,566.3 1036.0,566.4 1037.0,566.6 1038.0,567.0 1039.0,567.5 1040.0,568.1 1041.0,568.9 1042.0,569.7 1043.0,570.6 1044.0,571.7 1045.0,572.8 1046.0,574.1 1047.0,575.4 1048.0,576.9 1049.0,578.5 1050.0,580.3 1051.0,582.1 1052.0,584.1 1053.0,586.1 1054.0,588.4 1055.0,590.7 1056.0,593.1 1057.0,595.7 1058.0,598.4 1059.0,601.2 1060.0,604.0 1061.0,606.9 1062.0,609.9 1063.0,612.9 1064.0,616.0 1065.0,619.1 1066.0,622.1 1067.0,625.2 1068.0,628.3 1069.0,631.3 1070.0,634.3 1071.0,637.3 1072.0,640.2 1073.0,643.0 1074.0,645.8 1075.0,648.4 1076.0,651.0 1077.0,653.5 1078.0,655.9 1079.0,658.2 1080.0,660.4 1081.0,662.5 1082.0,664.4 1083.0,666.3 1084.0,668.1 1085.0,669.8 1086.0,671.4 1087.0,672.9 1088.0,674.3 1089.0,675.7 1090.0,676.9 1091.0,678.0 1092.0,679.0 1093.0,679.9 1094.0,680.6 1095.0,681.2 1096.0,681.7 1097.0,681.9 1098.0,682.1 1099.0,682.0 1100.0,681.9 1101.0,681.6 1102.0,681.2 1103.0,680.7 1104.0,680.1 1105.0,679.5 1106.0,678.7 1107.0,677.8 1108.0,676.8 1109.0,675.7 1110.0,674.4 1111.0,673.0 1112.0,671.5 1113.0,669.8 1114.0,667.9 1115.0,665.8 1116.0,663.5 1117.0,661.0 1118.0,658.4 1119.0,655.6 1120.0,652.6 1121.0,649.5 1122.0,646.3 1123.0,643.1 1124.0,639.7 1125.0,636.2 1126.0,632.7 1127.0,629.2 1128.0,625.6 1129.0,621.9 1130.0,618.3 1131.0,614.6 1132.0,610.9 1133.0,607.2 1134.0,603.5 1135.0,599.7 1136.0,595.9 1137.0,592.0 1138.0,588.1 1139.0,584.2 1140.0,580.2 1141.0,576.2 1142.0,572.2 1143.0,568.1 1144.0,564.1 1145.0,560.0 1146.0,556.0 1147.0,551.9 1148.0,547.9 1149.0,543.8 1150.0,539.7 1151.0,535.6 1152.0,531.5 1153.0,527.4 1154.0,523.4 1155.0,519.3 1156.0,515.3 1157.0,511.4 1158.0,507.7 1159.0,504.1 1160.0,500.6 1161.0,497.4 1162.0,494.5 1163.0,491.7 1164.0,489.2 1165.0,486.9 1166.0,484.8 1167.0,482.9 1168.0,481.1 1169.0,479.4 1170.0,477.9 1171.0,476.4 1172.0,475.1 1173.0,474.0 1174.0,472.9 1175.0,472.1 1176.0,471.4 1177.0,470.9 1178.0,470.7 1179.0,470.7 1180.0,471.0 1181.0,471.5 1182.0,472.3 1183.0,473.3 1184.0,474.6 1185.0,476.1 1186.0,477.7 1187.0,479.6 1188.0,481.7 1189.0,484.0 1190.0,486.4 1191.0,489.1 1192.0,492.0 1193.0,495.1 1194.0,498.4 1195.0,501.9 1196.0,505.5 1197.0,509.3 1198.0,513.3 1199.0,517.3 1200.0,521.4 1201.0,525.6 1202.0,529.9 1203.0,534.3 1204.0,538.7 1205.0,543.3 1206.0,547.8 1207.0,552.5 1208.0,557.2 1209.0,562.0 1210.0,566.8 1211.0,571.6 1212.0,576.5 1213.0,581.4 1214.0,586.4 1215.0,591.3 1216.0,596.3 1217.0,601.4 1218.0,606.4 1219.0,611.4 1220.0,616.4 1221.0,621.4 1222.0,626.4 1223.0,631.4 1224.0,636.4 1225.0,641.3 1226.0,646.2 1227.0,651.0 1228.0,655.8 1229.0,660.5 1230.0,665.1 1231.0,669.6 1232.0,674.1 1233.0,678.5 1234.0,682.7 1235.0,686.9 1236.0,690.9 1237.0,694.9 1238.0,698.7 1239.0,702.3 1240.0,705.9 1241.0,709.2 1242.0,712.4 1243.0,715.5 1244.0,718.4 1245.0,721.1 1246.0,723.7 1247.0,726.2 1248.0,728.5 1249.0,730.8 1250.0,732.9 1251.0,734.9 1252.0,736.7 1253.0,738.5 1254.0,740.2 1255.0,741.8 1256.0,743.2 1257.0,744.6 1258.0,745.9 1259.0,747.1 1260.0,748.3 1261.0,749.3 1262.0,750.4 1263.0,751.3 1264.0,752.2 1265.0,753.1 1266.0,753.9 1267.0,754.7 1268.0,755.4 1269.0,756.0 1270.0,756.7 1271.0,757.2 1272.0,757.8 1273.0,758.2 1274.0,758.7 1275.0,759.1 1276.0,759.5 1277.0,759.8 1278.0,760.1 1279.0,760.5 1280.0,760.8 1281.0,761.0 1282.0,761.3 1283.0,761.5 1284.0,761.8 1285.0,762.0 1286.0,762.2 1287.0,762.4 1288.0,762.6 1289.0,762.8 1290.0,763.0 1291.0,763.2 1292.0,763.4 1293.0,763.5 1294.0,763.7 1295.0,763.8 1296.0,764.0 1297.0,764.1 1298.0,764.3 1299.0,764.4 1300.0,764.5 1301.0,764.7 1302.0,764.8 1303.0,764.9 1304.0,765.0 1305.0,765.2 1306.0,765.3 1307.0,765.4 1308.0,765.5 1309.0,765.6 1310.0,765.7 1311.0,765.8 1312.0,765.9 1313.0,766.0 1314.0,766.0 1315.0,766.1 1316.0,766.2 1317.0,766.3 1318.0,766.4 1319.0,766.4 1320.0,766.5 1321.0,766.6 1322.0,766.6 1323.0,766.7 1324.0,766.8 1325.0,766.8 1326.0,766.9 1327.0,767.0 1328.0,767.0 1329.0,767.1 1330.0,767.1 1331.0,767.2 1332.0,767.3 1333.0,767.3 1334.0,767.4 1335.0,767.4 1336.0,767.5 1337.0,767.6 1338.0,767.6 1339.0,767.7 1340.0,767.7 1341.0,767.8 1342.0,767.8 1343.0,767.9 1344.0,768.0 1345.0,768.0 1346.0,768.1 1347.0,768.1 1348.0,768.2 1349.0,768.2 1350.0,768.3 1351.0,768.3 1352.0,768.4 1353.0,768.4 1354.0,768.5 1355.0,768.5 1356.0,768.5 1357.0,768.6 1358.0,768.6 1359.0,768.7 1360.0,768.7 1361.0,768.7 1362.0,768.8 1363.0,768.8 1364.0,768.8 1365.0,768.9 1366.0,768.9 1367.0,768.9 1368.0,769.0 1369.0,769.0 1370.0,769.0 1371.0,769.0 1372.0,769.1 1373.0,769.1 1374.0,769.1 1375.0,769.1 1376.0,769.1 1377.0,769.1 1378.0,769.2 1379.0,769.2 1380.0,769.2 1381.0,769.2 1382.0,769.2 1383.0,769.2 1384.0,769.2" fill="none" stroke="#ffdcdc" stroke-width="7" stroke-linejoin="round" stroke-linecap="round" />
<polyline points="735.3,1046.6 736.3,1046.6 737.3,1046.6 738.3,1046.6 739.3,1046.6 740.3,1046.6 741.3,1046.6 742.3,1046.6 743.3,1046.6 744.3,1046.6 745.3,1046.6 746.3,1046.6 747.3,1046.6 748.3,1046.6 749.3,1046.6 750.3,1046.6 751.3,1046.6 752.3,1046.6 753.3,1046.6 754.3,1046.6 755.3,1046.6 756.3,1046.6 757.3,1046.6 758.3,1046.6 759.3,1046.6 760.3,1046.6 761.3,1046.6 762.3,1046.6 763.3,1046.6 764.3,1046.6 765.3,1046.6 766.3,1046.6 767.3,1046.6 768.3,1046.6 769.3,1046.6 770.3,1046.6 771.3,1046.6 772.3,1046.6 773.3,1046.6 774.3,1046.6 775.3,1046.6 776.3,1046.6 777.3,1046.6 778.3,1046.6 779.3,1046.6 780.3,1046.6 781.3,1046.6 782.3,1046.6 783.3,1046.6 784.3,1046.6 785.3,1046.6 786.3,1046.6 787.3,1046.6 788.3,1046.6 789.3,1046.6 790.3,1046.6 791.3,1046.6 792.3,1046.6 793.3,1046.6 794.3,1046.6 795.3,1046.6 796.3,1046.6 797.3,1046.6 798.3,1046.5 799.3,1046.5 800.3,1046.4 801.3,1046.4 802.3,1046.3 803.3,1046.2 804.3,1046.1 805.3,1046.0 806.3,1045.9 807.3,1045.8 808.3,1045.7 809.3,1045.5 810.3,1045.4 811.3,1045.2 812.3,1045.1 813.3,1045.0 814.3,1044.8 815.3,1044.7 816.3,1044.6 817.3,1044.5 818.3,1044.3 819.3,1044.2 820.3,1044.1 821.3,1044.0 822.3,1043.8 823.3,1043.7 824.3,1043.6 825.3,1043.4 826.3,1043.3 827.3,1043.1 828.3,1043.0 829.3,1042.8 830.3,1042.6 831.3,1042.4 832.3,1042.2 833.3,1042.0 834.3,1041.7 835.3,1041.4 836.3,1041.2 837.3,1040.9 838.3,1040.6 839.3,1040.3 840.3,1040.1 841.3,1039.8 842.3,1039.5 843.3,1039.2 844.3,1039.0 845.3,1038.7 846.3,1038.5 847.3,1038.2 848.3,1038.0 849.3,1037.8 850.3,1037.6 851.3,1037.4 852.3,1037.2 853.3,1037.1 854.3,1036.9 855.3,1036.7 856.3,1036.6 857.3,1036.4 858.3,1036.2 859.3,1036.1 860.3,1035.9 861.3,1035.8 862.3,1035.6 863.3,1035.4 864.3,1035.3 865.3,1035.1 866.3,1035.0 867.3,1034.8 868.3,1034.6 869.3,1034.5 870.3,1034.3 871.3,1034.2 872.3,1034.0 873.3,1033.8 874.3,1033.7 875.3,1033.5 876.3,1033.4 877.3,1033.2 878.3,1033.0 879.3,1032.9 880.3,1032.7 881.3,1032.5 882.3,1032.4 883.3,1032.2 884.3,1032.0 885.3,1031.8 886.3,1031.7 887.3,1031.5 888.3,1031.3 889.3,1031.1 890.3,1030.9 891.3,1030.7 892.3,1030.4 893.3,1030.2 894.3,1030.0 895.3,1029.7 896.3,1029.5 897.3,1029.2 898.3,1028.9 899.3,1028.6 900.3,1028.3 901.3,1028.0 902.3,1027.7 903.3,1027.3 904.3,1027.0 905.3,1026.6 906.3,1026.2 907.3,1025.8 908.3,1025.4 909.3,1025.0 910.3,1024.5 911.3,1024.1 912.3,1023.7 913.3,1023.2 914.3,1022.7 915.3,1022.3 916.3,1021.8 917.3,1021.3 918.3,1020.8 919.3,1020.3 920.3,1019.7 921.3,1019.2 922.3,1018.6 923.3,1018.1 924.3,1017.5 925.3,1016.9 926.3,1016.3 927.3,1015.7 928.3,1015.1 929.3,1014.5 930.3,1013.8 931.3,1013.2 932.3,1012.5 933.3,1011.8 934.3,1011.1 935.3,1010.4 936.3,1009.7 937.3,1009.0 938.3,1008.3 939.3,1007.5 940.3,1006.7 941.3,1006.0 942.3,1005.2 943.3,1004.4 944.3,1003.6 945.3,1002.7 946.3,1001.9 947.3,1001.1 948.3,1000.3 949.3,999.4 950.3,998.6 951.3,997.7 952.3,996.9 953.3,996.0 954.3,995.1 955.3,994.3 956.3,993.4 957.3,992.5 958.3,991.6 959.3,990.7 960.3,989.7 961.3,988.8 962.3,987.9 963.3,986.9 964.3,986.0 965.3,985.0 966.3,984.0 967.3,983.0 968.3,982.0 969.3,980.9 970.3,979.8 971.3,978.7 972.3,977.5 973.3,976.2 974.3,974.9 975.3,973.4 976.3,971.9 977.3,970.3 978.3,968.6 979.3,966.8 980.3,964.9 981.3,962.9 982.3,960.8 983.3,958.7 984.3,956.5 985.3,954.3 986.3,952.1 987.3,949.9 988.3,947.7 989.3,945.5 990.3,943.3 991.3,941.1 992.3,938.9 993.3,936.7 994.3,934.5 995.3,932.2 996.3,929.9 997.3,927.6 998.3,925.3 999.3,922.9 1000.3,920.5 1001.3,918.1 1002.3,915.7 1003.3,913.2 1004.3,910.8 1005.3,908.4 1006.3,906.1 1007.3,903.7 1008.3,901.5 1009.3,899.2 1010.3,897.1 1011.3,895.0 1012.3,892.9 1013.3,891.0 1014.3,889.1 1015.3,887.3 1016.3,885.6 1017.3,884.0 1018.3,882.6 1019.3,881.2 1020.3,879.9 1021.3,878.7 1022.3,877.6 1023.3,876.6 1024.3,875.6 1025.3,874.7 1026.3,873.9 1027.3,873.2 1028.3,872.7 1029.3,872.2 1030.3,871.8 1031.3,871.5 1032.3,871.4 1033.3,871.4 1034.3,871.4 1035.3,871.6 1036.3,871.9 1037.3,872.3 1038.3,872.8 1039.3,873.4 1040.3,874.0 1041.3,874.7 1042.3,875.5 1043.3,876.3 1044.3,877.2 1045.3,878.2 1046.3,879.3 1047.3,880.4 1048.3,881.6 1049.3,882.9 1050.3,884.3 1051.3,885.8 1052.3,887.4 1053.3,889.0 1054.3,890.7 1055.3,892.5 1056.3,894.2 1057.3,896.1 1058.3,897.9 1059.3,899.8 1060.3,901.7 1061.3,903.6 1062.3,905.5 1063.3,907.4 1064.3,909.3 1065.3,911.2 1066.3,913.2 1067.3,915.1 1068.3,917.0 1069.3,918.9 1070.3,920.8 1071.3,922.7 1072.3,924.5 1073.3,926.3 1074.3,928.0 1075.3,929.7 1076.3,931.3 1077.3,932.9 1078.3,934.5 1079.3,935.9 1080.3,937.4 1081.3,938.7 1082.3,940.0 1083.3,941.1 1084.3,942.2 1085.3,943.2 1086.3,944.1 1087.3,944.9 1088.3,945.6 1089.3,946.3 1090.3,946.9 1091.3,947.4 1092.3,947.9 1093.3,948.2 1094.3,948.6 1095.3,948.8 1096.3,949.0 1097.3,949.0 1098.3,949.0 1099.3,948.9 1100.3,948.7 1101.3,948.5 1102.3,948.1 1103.3,947.7 1104.3,947.2 1105.3,946.6 1106.3,946.0 1107.3,945.3 1108.3,944.5 1109.3,943.7 1110.3,942.8 1111.3,941.9 1112.3,940.9 1113.3,939.8 1114.3,938.7 1115.3,937.4 1116.3,936.1 1117.3,934.7 1118.3,933.3 1119.3,931.7 1120.3,930.1 1121.3,928.4 1122.3,926.6 1123.3,924.7 1124.3,922.8 1125.3,920.8 1126.3,918.7 1127.3,916.6 1128.3,914.4 1129.3,912.1 1130.3,909.8 1131.3,907.4 1132.3,905.0 1133.3,902.6 1134.3,900.1 1135.3,897.6 1136.3,895.0 1137.3,892.4 1138.3,889.8 1139.3,887.2 1140.3,884.5 1141.3,881.8 1142.3,879.2 1143.3,876.5 1144.3,873.8 1145.3,871.2 1146.3,868.5 1147.3,865.8 1148.3,863.2 1149.3,860.5 1150.3,857.9 1151.3,855.3 1152.3,852.6 1153.3,850.1 1154.3,847.5 1155.3,844.9 1156.3,842.4 1157.3,840.0 1158.3,837.6 1159.3,835.4 1160.3,833.2 1161.3,831.3 1162.3,829.5 1163.3,827.8 1164.3,826.3 1165.3,825.1 1166.3,823.9 1167.3,823.0 1168.3,822.2 1169.3,821.5 1170.3,821.0 1171.3,820.7 1172.3,820.5 1173.3,820.6 1174.3,820.8 1175.3,821.1 1176.3,821.6 1177.3,822.3 1178.3,823.0 1179.3,823.9 1180.3,824.8 1181.3,825.8 1182.3,826.9 1183.3,828.1 1184.3,829.4 1185.3,830.9 1186.3,832.6 1187.3,834.5 1188.3,836.6 1189.3,838.9 1190.3,841.5 1191.3,844.2 1192.3,847.0 1193.3,849.9 1194.3,852.9 1195.3,856.0 1196.3,859.2 1197.3,862.5 1198.3,865.8 1199.3,869.3 1200.3,872.9 1201.3,876.6 1202.3,880.5 1203.3,884.4 1204.3,888.4 1205.3,892.4 1206.3,896.5 1207.3,900.6 1208.3,904.8 1209.3,908.9 1210.3,913.0 1211.3,917.1 1212.3,921.2 1213.3,925.3 1214.3,929.3 1215.3,933.2 1216.3,937.1 1217.3,941.0 1218.3,944.7 1219.3,948.5 1220.3,952.1 1221.3,955.7 1222.3,959.2 1223.3,962.6 1224.3,966.0 1225.3,969.3 1226.3,972.6 1227.3,975.8 1228.3,978.9 1229.3,982.0 1230.3,985.0 1231.3,987.9 1232.3,990.8 1233.3,993.7 1234.3,996.5 1235.3,999.2 1236.3,1001.8 1237.3,1004.4 1238.3,1006.8 1239.3,1009.2 1240.3,1011.5 1241.3,1013.6 1242.3,1015.7 1243.3,1017.7 1244.3,1019.5 1245.3,1021.3 1246.3,1023.0 1247.3,1024.6 1248.3,1026.2 1249.3,1027.7 1250.3,1029.1 1251.3,1030.5 1252.3,1031.8 1253.3,1033.1 1254.3,1034.3 1255.3,1035.4 1256.3,1036.6 1257.3,1037.6 1258.3,1038.7 1259.3,1039.7 1260.3,1040.6 1261.3,1041.5 1262.3,1042.4 1263.3,1043.3 1264.3,1044.1 1265.3,1044.9 1266.3,1045.6 1267.3,1046.4 1268.3,1047.1 1269.3,1047.7 1270.3,1048.4 1271.3,1049.0 1272.3,1049.6 1273.3,1050.1 1274.3,1050.6 1275.3,1051.1 1276.3,1051.5 1277.3,1052.0 1278.3,1052.3 1279.3,1052.7 1280.3,1053.0 1281.3,1053.3 1282.3,1053.5 1283.3,1053.7 1284.3,1054.0 1285.3,1054.1 1286.3,1054.3 1287.3,1054.5 1288.3,1054.6 1289.3,1054.8 1290.3,1054.9 1291.3,1055.0 1292.3,1055.2 1293.3,1055.3 1294.3,1055.4 1295.3,1055.5 1296.3,1055.6 1297.3,1055.7 1298.3,1055.8 1299.3,1055.9 1300.3,1056.0 1301.3,1056.1 1302.3,1056.2 1303.3,1056.3 1304.3,1056.4 1305.3,1056.5 1306.3,1056.6 1307.3,1056.6 1308.3,1056.7 1309.3,1056.8 1310.3,1056.8 1311.3,1056.9 1312.3,1057.0 1313.3,1057.0 1314.3,1057.1 1315.3,1057.1 1316.3,1057.2 1317.3,1057.2 1318.3,1057.2 1319.3,1057.3 1320.3,1057.3 1321.3,1057.3 1322.3,1057.4 1323.3,1057.4 1324.3,1057.4 1325.3,1057.5 1326.3,1057.5 1327.3,1057.5 1328.3,1057.5 1329.3,1057.6 1330.3,1057.6 1331.3,1057.6 1332.3,1057.7 1333.3,1057.7 1334.3,1057.7 1335.3,1057.7 1336.3,1057.8 1337.3,1057.8 1338.3,1057.8 1339.3,1057.8 1340.3,1057.9 1341.3,1057.9 1342.3,1057.9 1343.3,1057.9 1344.3,1057.9 1345.3,1058.0 1346.3,1058.0 1347.3,1058.0 1348.3,1058.0 1349.3,1058.0 1350.3,1058.1 1351.3,1058.1 1352.3,1058.1 1353.3,1058.1 1354.3,1058.1 1355.3,1058.2 1356.3,1058.2 1357.3,1058.2 1358.3,1058.2 1359.3,1058.2 1360.3,1058.2 1361.3,1058.2 1362.3,1058.3 1363.3,1058.3 1364.3,1058.3 1365.3,1058.3 1366.3,1058.3 1367.3,1058.3 1368.3,1058.3 1369.3,1058.3 1370.3,1058.3 1371.3,1058.3 1372.3,1058.4 1373.3,1058.4 1374.3,1058.4 1375.3,1058.4 1376.3,1058.4 1377.3,1058.4 1378.3,1058.4 1379.3,1058.4 1380.3,1058.4 1381.3,1058.4 1382.3,1058.4 1383.3,1058.4 1384.0,1058.4" fill="none" stroke="#dcf6dc" stroke-width="7" stroke-linejoin="round" stroke-linecap="round" />
<polyline points="36.9,376.1 37.9,376.2 38.9,376.4 39.9,376.6 40.9,376.8 41.9,377.1 42.9,377.4 43.9,377.7 44.9,378.0 45.9,378.5 46.9,378.9 47.9,379.4 48.9,379.8 49.9,380.0 50.9,380.0 51.9,379.8 52.9,379.8 53.9,380.4 54.9,381.6 55.9,383.0 56.9,384.2 57.9,385.0 58.9,385.5 59.9,385.9 60.9,386.1 61.9,386.2 62.9,386.3 63.9,386.4 64.9,386.5 65.9,386.5 66.9,386.6 67.9,386.6 68.9,386.6 69.9,386.5 70.9,386.5 71.9,386.4 72.9,386.3 73.9,386.3 74.9,386.2 75.9,386.1 76.9,386.0 77.9,385.9 78.9,385.8 79.9,385.8 80.9,385.7 81.9,385.7 82.9,385.7 83.9,385.7 84.9,385.7 85.9,385.7 86.9,385.7 87.9,385.7 88.9,385.7 89.9,385.7 90.9,385.7 91.9,385.7 92.9,385.8 93.9,385.9 94.9,386.1 95.9,386.4 96.9,386.7 97.9,387.1 98.9,387.5 99.9,388.0 100.9,388.4 101.9,388.8 102.9,389.3 103.9,389.8 104.9,390.3 105.9,390.8 106.9,391.3 107.9,391.9 108.9,392.5 109.9,393.1 110.9,393.7 111.9,394.3 112.9,394.8 113.9,395.4 114.9,395.9 115.9,396.5 116.9,397.0 117.9,397.6 118.9,398.1 119.9,398.6 120.9,399.1 121.9,399.6 122.9,400.1 123.9,400.5 124.9,400.9 125.9,401.3 126.9,401.7 127.9,402.1 128.9,402.4 129.9,402.7 130.9,403.1 131.9,403.4 132.9,403.7 133.9,403.9 134.9,404.1 135.9,404.3 136.9,404.5 137.9,404.7 138.9,404.8 139.9,404.9 140.9,405.0 141.9,405.1 142.9,405.2 143.9,405.3 144.9,405.4 145.9,405.5 146.9,405.5 147.9,405.6 148.9,405.6 149.9,405.7 150.9,405.7 151.9,405.8 152.9,405.8 153.9,405.8 154.9,405.9 155.9,405.9 156.9,405.9 157.9,406.0 158.9,406.0 159.9,406.0 160.9,406.1 161.9,406.1 162.9,406.1 163.9,406.1 164.9,406.1 165.9,406.2 166.9,406.2 167.9,406.2 168.9,406.2 169.9,406.2 170.9,406.2 171.9,406.2 172.9,406.2 173.9,406.1 174.9,406.1 175.9,406.1 176.9,406.0 177.9,406.0 178.9,405.9 179.9,405.9 180.9,405.9 181.9,405.8 182.9,405.8 183.9,405.8 184.9,405.8 185.9,405.7 186.9,405.7 187.9,405.6 188.9,405.5 189.9,405.5 190.9,405.3 191.9,405.2 192.9,405.0 193.9,404.9 194.9,404.7 195.9,404.5 196.9,404.3 197.9,404.2 198.9,404.0 199.9,403.8 200.9,403.6 201.9,403.4 202.9,403.2 203.9,402.9 204.9,402.6 205.9,402.3 206.9,401.9 207.9,401.4 208.9,400.9 209.9,400.3 210.9,399.7 211.9,399.1 212.9,398.5 213.9,398.0 214.9,397.4 215.9,396.9 216.9,396.4 217.9,395.9 218.9,395.4 219.9,394.9 220.9,394.4 221.9,393.9 222.9,393.3 223.9,392.8 224.9,392.3 225.9,391.8 226.9,391.4 227.9,390.9 228.9,390.4 229.9,389.9 230.9,389.4 231.9,388.9 232.9,388.4 233.9,388.0 234.9,387.5 235.9,387.0 236.9,386.5 237.9,386.0 238.9,385.5 239.9,385.1 240.9,384.6 241.9,384.1 242.9,383.6 243.9,383.1 244.9,382.7 245.9,382.2 246.9,381.7 247.9,381.1 248.9,380.6 249.9,380.0 250.9,379.3 251.9,378.6 252.9,377.9 253.9,377.2 254.9,376.5 255.9,375.9 256.9,375.4 257.9,374.9 258.9,374.5 259.9,374.2 260.9,374.2 261.9,374.4 262.9,375.0 263.9,375.9 264.9,377.0 265.9,378.4 266.9,379.9 267.9,381.5 268.9,383.1 269.9,384.8 270.9,386.3 271.9,387.9 272.9,389.4 273.9,390.9 274.9,392.4 275.9,393.9 276.9,395.4 277.9,396.9 278.9,398.4 279.9,399.9 280.9,401.4 281.9,403.0 282.9,404.5 283.9,405.9 284.9,407.2 285.9,408.4 286.9,409.5 287.9,410.5 288.9,411.4 289.9,412.2 290.9,413.0 291.9,413.6 292.9,414.1 293.9,414.5 294.9,414.9 295.9,415.2 296.9,415.5 297.9,415.7 298.9,416.0 299.9,416.3 300.9,416.6 301.9,416.9 302.9,417.2 303.9,417.5 304.9,417.8 305.9,418.0 306.9,418.2 307.9,418.3 308.9,418.4 309.9,418.5 310.9,418.5 311.9,418.6 312.9,418.6 313.9,418.6 314.9,418.6 315.9,418.6 316.9,418.6 317.9,418.6 318.9,418.6 319.9,418.6 320.9,418.6 321.9,418.6 322.9,418.6 323.9,418.6 324.9,418.6 325.9,418.6 326.9,418.5 327.9,418.5 328.9,418.5 329.9,418.5 330.9,418.5 331.9,418.5 332.9,418.5 333.9,418.5 334.9,418.5 335.9,418.5 336.9,418.5 337.9,418.5 338.9,418.5 339.9,418.5 340.9,418.5 341.9,418.5 342.9,418.5 343.9,418.5 344.9,418.5 345.9,418.5 346.9,418.5 347.9,418.5 348.9,418.5 349.9,418.5 350.9,418.5 351.9,418.5 352.9,418.5 353.9,418.5 354.9,418.5 355.9,418.5 356.9,418.5 357.9,418.5 358.9,418.5 359.9,418.5 360.9,418.5 361.9,418.5 362.9,418.5 363.9,418.5 364.9,418.5 365.9,418.5 366.9,418.5 367.9,418.5 368.9,418.5 369.9,418.5 370.9,418.5 371.9,418.5 372.9,418.4 373.9,418.4 374.9,418.2 375.9,418.0 376.9,417.7 377.9,417.4 378.9,417.0 379.9,416.6 380.9,416.2 381.9,415.7 382.9,415.3 383.9,414.8 384.9,414.4 385.9,414.0 386.9,413.6 387.9,413.2 388.9,412.8 389.9,412.4 390.9,412.0 391.9,411.6 392.9,411.1 393.9,410.7 394.9,410.3 395.9,409.8 396.9,409.5 397.9,409.1 398.9,408.8 399.9,408.5 400.9,408.2 401.9,408.1 402.9,407.9 403.9,407.9 404.9,407.9 405.9,407.9 406.9,408.1 407.9,408.2 408.9,408.4 409.9,408.6 410.9,408.8 411.9,409.1 412.9,409.3 413.9,409.6 414.9,409.8 415.9,410.1 416.9,410.4 417.9,410.6 418.9,410.9 419.9,411.3 420.9,411.6 421.9,411.9 422.9,412.1 423.9,412.4 424.9,412.5 425.9,412.7 426.9,412.7 427.9,412.7 428.9,412.6 429.9,412.4 430.9,412.2 431.9,411.9 432.9,411.6 433.9,411.4 434.9,411.1 435.9,410.9 436.9,410.8 437.9,410.6 438.9,410.5 439.9,410.4 440.9,410.3 441.9,410.2 442.9,410.2 443.9,410.1 444.9,410.1 445.9,410.0 446.9,410.1 447.9,410.1 448.9,410.3 449.9,410.5 450.9,410.9 451.9,411.2 452.9,411.7 453.9,412.1 454.9,412.6 455.9,413.1 456.9,413.6 457.9,414.1 458.9,414.5 459.9,415.0 460.9,415.6 461.9,416.1 462.9,416.7 463.9,417.2 464.9,417.8 465.9,418.4 466.9,418.9 467.9,419.5 468.9,420.0 469.9,420.4 470.9,420.8 471.9,421.1 472.9,421.4 473.9,421.7 474.9,421.9 475.9,422.1 476.9,422.3 477.9,422.5 478.9,422.7 479.9,422.9 480.9,423.0 481.9,423.1 482.9,423.3 483.9,423.3 484.9,423.4 485.9,423.5 486.9,423.5 487.9,423.5 488.9,423.5 489.9,423.5 490.9,423.5 491.9,423.4 492.9,423.4 493.9,423.4 494.9,423.4 495.9,423.3 496.9,423.3 497.9,423.3 498.9,423.2 499.9,423.2 500.9,423.1 501.9,423.1 502.9,423.1 503.9,423.0 504.9,423.0 505.9,422.9 506.9,422.9 507.9,422.8 508.9,422.8 509.9,422.7 510.9,422.7 511.9,422.6 512.9,422.6 513.9,422.5 514.9,422.5 515.9,422.4 516.9,422.3 517.9,422.3 518.9,422.2 519.9,422.1 520.9,422.0 521.9,421.8 522.9,421.7 523.9,421.5 524.9,421.2 525.9,420.8 526.9,420.3 527.9,419.6 528.9,418.9 529.9,418.0 530.9,417.1 531.9,416.2 532.9,415.2 533.9,414.3 534.9,413.2 535.9,412.2 536.9,411.0 537.9,409.8 538.9,408.6 539.9,407.2 540.9,405.8 541.9,404.4 542.9,403.0 543.9,401.6 544.9,400.2 545.9,398.9 546.9,397.6 547.9,396.4 548.9,395.3 549.9,394.1 550.9,393.0 551.9,392.0 552.9,390.9 553.9,389.9 554.9,389.0 555.9,388.1 556.9,387.2 557.9,386.4 558.9,385.7 559.9,385.0 560.9,384.4 561.9,383.9 562.9,383.3 563.9,382.8 564.9,382.2 565.9,381.6 566.9,380.9 567.9,380.1 568.9,379.1 569.9,378.1 570.9,376.8 571.9,375.5 572.9,373.9 573.9,372.3 574.9,370.6 575.9,368.8 576.9,366.9 577.9,364.9 578.9,362.8 579.9,360.5 580.9,358.1 581.9,355.6 582.9,353.2 583.9,350.8 584.9,348.6 585.9,346.4 586.9,344.3 587.9,342.4 588.9,340.7 589.9,339.3 590.9,338.5 591.9,338.1 592.9,338.2 593.9,338.6 594.9,339.6 595.9,341.1 596.9,343.2 597.9,345.8 598.9,348.5 599.9,351.3 600.9,354.1 601.9,356.9 602.9,359.7 603.9,362.7 604.9,365.6 605.9,368.7 606.9,371.9 607.9,375.2 608.9,378.6 609.9,381.9 610.9,385.3 611.9,388.7 612.9,392.1 613.9,395.5 614.9,398.8 615.9,402.0 616.9,405.2 617.9,408.3 618.9,411.3 619.9,414.0 620.9,416.3 621.9,418.2 622.9,419.9 623.9,421.3 624.9,422.6 625.9,423.7 626.9,424.7 627.9,425.7 628.9,426.5 629.9,427.2 630.9,427.8 631.9,428.3 632.9,428.8 633.9,429.2 634.9,429.6 635.9,429.9 636.9,430.2 637.9,430.4 638.9,430.6 639.9,430.7 640.9,430.8 641.9,430.9 642.9,431.0 643.9,431.0 644.9,431.1 645.9,431.1 646.9,431.2 647.9,431.2 648.9,431.3 649.9,431.3 650.9,431.4 651.9,431.4 652.9,431.5 653.9,431.5 654.9,431.6 655.9,431.6 656.9,431.7 657.9,431.7 658.9,431.8 659.9,431.8 660.9,431.9 661.9,431.9 662.9,432.0 663.9,432.0 664.9,432.1 665.9,432.1 666.9,432.2 667.9,432.2 668.9,432.3 669.9,432.3 670.9,432.4 671.9,432.4 672.9,432.5 673.0,432.5" fill="none" stroke="#0000b8" stroke-width="4.4" stroke-linejoin="round" stroke-linecap="round" />
<polyline points="36.9,706.6 37.9,706.9 38.9,707.2 39.9,707.6 40.9,708.0 41.9,708.4 42.9,708.9 43.9,709.3 44.9,709.8 45.9,710.3 46.9,710.7 47.9,711.2 48.9,711.8 49.9,712.4 50.9,713.1 51.9,713.8 52.9,714.5 53.9,715.2 54.9,715.8 55.9,716.4 56.9,716.9 57.9,717.3 58.9,717.6 59.9,717.7 60.9,717.8 61.9,717.8 62.9,717.8 63.9,717.8 64.9,717.8 65.9,717.8 66.9,717.8 67.9,717.8 68.9,717.8 69.9,717.8 70.9,717.8 71.9,717.8 72.9,717.7 73.9,717.7 74.9,717.7 75.9,717.6 76.9,717.6 77.9,717.5 78.9,717.5 79.9,717.4 80.9,717.4 81.9,717.3 82.9,717.3 83.9,717.2 84.9,717.2 85.9,717.2 86.9,717.1 87.9,717.1 88.9,717.1 89.9,717.2 90.9,717.3 91.9,717.6 92.9,717.9 93.9,718.3 94.9,718.7 95.9,719.2 96.9,719.8 97.9,720.4 98.9,720.9 99.9,721.5 100.9,722.0 101.9,722.5 102.9,722.9 103.9,723.3 104.9,723.7 105.9,724.1 106.9,724.5 107.9,724.9 108.9,725.3 109.9,725.6 110.9,726.0 111.9,726.4 112.9,726.7 113.9,727.1 114.9,727.5 115.9,727.8 116.9,728.2 117.9,728.6 118.9,729.0 119.9,729.3 120.9,729.8 121.9,730.2 122.9,730.6 123.9,731.1 124.9,731.6 125.9,732.1 126.9,732.6 127.9,733.1 128.9,733.5 129.9,733.9 130.9,734.3 131.9,734.7 132.9,735.0 133.9,735.2 134.9,735.4 135.9,735.5 136.9,735.5 137.9,735.5 138.9,735.5 139.9,735.4 140.9,735.4 141.9,735.3 142.9,735.2 143.9,735.1 144.9,735.1 145.9,735.0 146.9,735.0 147.9,734.9 148.9,735.0 149.9,735.0 150.9,735.1 151.9,735.2 152.9,735.3 153.9,735.4 154.9,735.6 155.9,735.7 156.9,735.9 157.9,736.0 158.9,736.1 159.9,736.2 160.9,736.3 161.9,736.4 162.9,736.4 163.9,736.4 164.9,736.4 165.9,736.5 166.9,736.5 167.9,736.5 168.9,736.5 169.9,736.5 170.9,736.5 171.9,736.6 172.9,736.6 173.9,736.6 174.9,736.6 175.9,736.6 176.9,736.6 177.9,736.6 178.9,736.6 179.9,736.6 180.9,736.5 181.9,736.4 182.9,736.3 183.9,736.2 184.9,736.0 185.9,735.7 186.9,735.5 187.9,735.2 188.9,734.9 189.9,734.5 190.9,734.2 191.9,733.9 192.9,733.6 193.9,733.2 194.9,732.9 195.9,732.5 196.9,732.1 197.9,731.7 198.9,731.3 199.9,730.8 200.9,730.4 201.9,729.9 202.9,729.4 203.9,728.9 204.9,728.5 205.9,728.0 206.9,727.6 207.9,727.2 208.9,726.8 209.9,726.4 210.9,726.1 211.9,725.8 212.9,725.4 213.9,725.1 214.9,724.8 215.9,724.5 216.9,724.2 217.9,723.9 218.9,723.5 219.9,723.2 220.9,722.9 221.9,722.6 222.9,722.3 223.9,722.0 224.9,721.7 225.9,721.3 226.9,721.0 227.9,720.7 228.9,720.4 229.9,720.1 230.9,719.7 231.9,719.4 232.9,719.1 233.9,718.8 234.9,718.4 235.9,718.1 236.9,717.7 237.9,717.4 238.9,717.0 239.9,716.6 240.9,716.2 241.9,715.8 242.9,715.4 243.9,715.0 244.9,714.7 245.9,714.4 246.9,714.1 247.9,713.9 248.9,713.7 249.9,713.6 250.9,713.4 251.9,713.3 252.9,713.3 253.9,713.3 254.9,713.4 255.9,713.6 256.9,713.9 257.9,714.3 258.9,714.8 259.9,715.4 260.9,716.1 261.9,716.8 262.9,717.6 263.9,718.6 264.9,719.7 265.9,720.9 266.9,722.3 267.9,723.7 268.9,725.1 269.9,726.5 270.9,727.8 271.9,729.0 272.9,730.2 273.9,731.4 274.9,732.6 275.9,733.8 276.9,734.9 277.9,735.9 278.9,736.9 279.9,737.9 280.9,738.8 281.9,739.7 282.9,740.5 283.9,741.4 284.9,742.2 285.9,743.0 286.9,743.7 287.9,744.3 288.9,744.9 289.9,745.3 290.9,745.7 291.9,746.0 292.9,746.2 293.9,746.4 294.9,746.6 295.9,746.7 296.9,746.8 297.9,747.0 298.9,747.1 299.9,747.2 300.9,747.3 301.9,747.5 302.9,747.7 303.9,747.9 304.9,748.1 305.9,748.3 306.9,748.6 307.9,748.9 308.9,749.1 309.9,749.3 310.9,749.5 311.9,749.7 312.9,749.8 313.9,749.8 314.9,749.9 315.9,749.9 316.9,749.8 317.9,749.8 318.9,749.7 319.9,749.7 320.9,749.6 321.9,749.6 322.9,749.5 323.9,749.4 324.9,749.4 325.9,749.3 326.9,749.3 327.9,749.2 328.9,749.2 329.9,749.2 330.9,749.2 331.9,749.2 332.9,749.2 333.9,749.2 334.9,749.2 335.9,749.2 336.9,749.2 337.9,749.2 338.9,749.2 339.9,749.2 340.9,749.2 341.9,749.2 342.9,749.2 343.9,749.2 344.9,749.2 345.9,749.2 346.9,749.2 347.9,749.2 348.9,749.2 349.9,749.2 350.9,749.2 351.9,749.2 352.9,749.2 353.9,749.2 354.9,749.2 355.9,749.2 356.9,749.2 357.9,749.2 358.9,749.2 359.9,749.2 360.9,749.2 361.9,749.2 362.9,749.2 363.9,749.2 364.9,749.2 365.9,749.2 366.9,749.1 367.9,749.0 368.9,748.9 369.9,748.8 370.9,748.6 371.9,748.4 372.9,748.2 373.9,748.0 374.9,747.7 375.9,747.4 376.9,747.2 377.9,746.9 378.9,746.7 379.9,746.4 380.9,746.1 381.9,745.8 382.9,745.5 383.9,745.2 384.9,744.9 385.9,744.5 386.9,744.2 387.9,743.8 388.9,743.5 389.9,743.2 390.9,742.9 391.9,742.6 392.9,742.4 393.9,742.1 394.9,741.8 395.9,741.5 396.9,741.2 397.9,741.0 398.9,740.7 399.9,740.5 400.9,740.3 401.9,740.2 402.9,740.1 403.9,740.1 404.9,740.0 405.9,740.1 406.9,740.1 407.9,740.2 408.9,740.2 409.9,740.3 410.9,740.4 411.9,740.5 412.9,740.6 413.9,740.8 414.9,740.9 415.9,741.0 416.9,741.2 417.9,741.4 418.9,741.5 419.9,741.8 420.9,742.0 421.9,742.3 422.9,742.6 423.9,743.0 424.9,743.3 425.9,743.6 426.9,743.8 427.9,744.0 428.9,744.2 429.9,744.2 430.9,744.2 431.9,744.2 432.9,744.2 433.9,744.1 434.9,744.0 435.9,743.9 436.9,743.7 437.9,743.6 438.9,743.5 439.9,743.4 440.9,743.2 441.9,743.1 442.9,743.0 443.9,743.0 444.9,742.9 445.9,742.9 446.9,742.9 447.9,742.9 448.9,743.1 449.9,743.3 450.9,743.5 451.9,743.9 452.9,744.2 453.9,744.6 454.9,745.0 455.9,745.4 456.9,745.8 457.9,746.2 458.9,746.6 459.9,746.9 460.9,747.3 461.9,747.7 462.9,748.1 463.9,748.5 464.9,748.9 465.9,749.2 466.9,749.6 467.9,750.0 468.9,750.3 469.9,750.6 470.9,750.9 471.9,751.2 472.9,751.4 473.9,751.6 474.9,751.9 475.9,752.1 476.9,752.3 477.9,752.5 478.9,752.6 479.9,752.8 480.9,753.0 481.9,753.1 482.9,753.2 483.9,753.3 484.9,753.4 485.9,753.5 486.9,753.5 487.9,753.5 488.9,753.5 489.9,753.5 490.9,753.5 491.9,753.5 492.9,753.4 493.9,753.4 494.9,753.4 495.9,753.4 496.9,753.3 497.9,753.3 498.9,753.3 499.9,753.2 500.9,753.2 501.9,753.1 502.9,753.1 503.9,753.0 504.9,753.0 505.9,752.9 506.9,752.9 507.9,752.8 508.9,752.7 509.9,752.6 510.9,752.5 511.9,752.4 512.9,752.2 513.9,752.0 514.9,751.8 515.9,751.6 516.9,751.3 517.9,751.0 518.9,750.6 519.9,750.2 520.9,749.7 521.9,749.1 522.9,748.5 523.9,747.9 524.9,747.2 525.9,746.5 526.9,745.8 527.9,745.0 528.9,744.1 529.9,743.2 530.9,742.2 531.9,741.1 532.9,740.1 533.9,739.0 534.9,737.9 535.9,736.8 536.9,735.7 537.9,734.6 538.9,733.5 539.9,732.3 540.9,731.2 541.9,730.0 542.9,728.8 543.9,727.5 544.9,726.3 545.9,725.1 546.9,724.0 547.9,722.8 548.9,721.7 549.9,720.7 550.9,719.6 551.9,718.7 552.9,717.7 553.9,716.8 554.9,715.9 555.9,715.0 556.9,714.1 557.9,713.2 558.9,712.3 559.9,711.4 560.9,710.5 561.9,709.6 562.9,708.7 563.9,707.8 564.9,706.9 565.9,706.0 566.9,705.1 567.9,704.1 568.9,703.2 569.9,702.2 570.9,701.1 571.9,700.0 572.9,698.8 573.9,697.5 574.9,696.1 575.9,694.7 576.9,693.4 577.9,692.2 578.9,691.1 579.9,690.3 580.9,689.6 581.9,689.0 582.9,688.7 583.9,688.6 584.9,688.8 585.9,689.3 586.9,689.9 587.9,690.6 588.9,691.6 589.9,692.8 590.9,694.3 591.9,695.9 592.9,697.8 593.9,699.8 594.9,702.0 595.9,704.4 596.9,707.0 597.9,709.6 598.9,712.1 599.9,714.7 600.9,717.2 601.9,719.7 602.9,722.2 603.9,724.8 604.9,727.3 605.9,729.9 606.9,732.4 607.9,734.9 608.9,737.3 609.9,739.7 610.9,742.0 611.9,744.2 612.9,746.4 613.9,748.3 614.9,749.9 615.9,751.3 616.9,752.4 617.9,753.4 618.9,754.2 619.9,755.0 620.9,755.7 621.9,756.4 622.9,756.9 623.9,757.4 624.9,757.8 625.9,758.0 626.9,758.3 627.9,758.4 628.9,758.6 629.9,758.7 630.9,758.8 631.9,758.9 632.9,759.0 633.9,759.1 634.9,759.1 635.9,759.2 636.9,759.3 637.9,759.3 638.9,759.4 639.9,759.4 640.9,759.5 641.9,759.6 642.9,759.6 643.9,759.6 644.9,759.7 645.9,759.7 646.9,759.8 647.9,759.8 648.9,759.9 649.9,759.9 650.9,760.0 651.9,760.1 652.9,760.1 653.9,760.2 654.9,760.3 655.9,760.4 656.9,760.5 657.9,760.7 658.9,760.8 659.9,760.9 660.9,761.1 661.9,761.3 662.9,761.4 663.9,761.6 664.9,761.8 665.9,762.0 666.9,762.2 667.9,762.4 668.9,762.6 669.9,762.8 670.9,763.0 671.9,763.2 672.9,763.4 673.0,763.4" fill="none" stroke="#bc0000" stroke-width="4.4" stroke-linejoin="round" stroke-linecap="round" />
<polyline points="36.9,988.9 37.9,989.4 38.9,990.0 39.9,990.6 40.9,991.3 41.9,991.9 42.9,992.6 43.9,993.2 44.9,993.8 45.9,994.4 46.9,994.9 47.9,995.5 48.9,996.0 49.9,996.6 50.9,997.2 51.9,997.7 52.9,998.3 53.9,998.8 54.9,999.3 55.9,999.8 56.9,1000.1 57.9,1000.4 58.9,1000.5 59.9,1000.6 60.9,1000.6 61.9,1000.6 62.9,1000.5 63.9,1000.4 64.9,1000.3 65.9,1000.2 66.9,1000.1 67.9,1000.0 68.9,999.8 69.9,999.7 70.9,999.6 71.9,999.4 72.9,999.3 73.9,999.2 74.9,999.1 75.9,999.0 76.9,998.9 77.9,998.8 78.9,998.7 79.9,998.6 80.9,998.5 81.9,998.4 82.9,998.3 83.9,998.2 84.9,998.1 85.9,998.0 86.9,998.0 87.9,997.9 88.9,997.9 89.9,997.8 90.9,997.8 91.9,997.9 92.9,998.0 93.9,998.2 94.9,998.4 95.9,998.7 96.9,999.0 97.9,999.4 98.9,999.8 99.9,1000.2 100.9,1000.7 101.9,1001.2 102.9,1001.6 103.9,1002.1 104.9,1002.6 105.9,1003.2 106.9,1003.8 107.9,1004.4 108.9,1005.1 109.9,1005.8 110.9,1006.6 111.9,1007.4 112.9,1008.2 113.9,1009.0 114.9,1009.8 115.9,1010.6 116.9,1011.2 117.9,1011.8 118.9,1012.4 119.9,1012.9 120.9,1013.3 121.9,1013.7 122.9,1014.1 123.9,1014.4 124.9,1014.8 125.9,1015.1 126.9,1015.4 127.9,1015.7 128.9,1015.9 129.9,1016.2 130.9,1016.4 131.9,1016.7 132.9,1016.9 133.9,1017.1 134.9,1017.3 135.9,1017.5 136.9,1017.7 137.9,1017.9 138.9,1018.1 139.9,1018.2 140.9,1018.4 141.9,1018.5 142.9,1018.7 143.9,1018.8 144.9,1018.9 145.9,1019.0 146.9,1019.1 147.9,1019.2 148.9,1019.2 149.9,1019.3 150.9,1019.3 151.9,1019.4 152.9,1019.4 153.9,1019.4 154.9,1019.5 155.9,1019.5 156.9,1019.5 157.9,1019.6 158.9,1019.6 159.9,1019.6 160.9,1019.7 161.9,1019.7 162.9,1019.7 163.9,1019.7 164.9,1019.8 165.9,1019.8 166.9,1019.8 167.9,1019.8 168.9,1019.8 169.9,1019.9 170.9,1019.9 171.9,1019.9 172.9,1019.9 173.9,1019.9 174.9,1019.9 175.9,1019.9 176.9,1019.9 177.9,1019.9 178.9,1019.9 179.9,1019.9 180.9,1019.8 181.9,1019.8 182.9,1019.8 183.9,1019.8 184.9,1019.7 185.9,1019.7 186.9,1019.6 187.9,1019.6 188.9,1019.5 189.9,1019.5 190.9,1019.4 191.9,1019.3 192.9,1019.2 193.9,1019.1 194.9,1019.0 195.9,1018.8 196.9,1018.5 197.9,1018.2 198.9,1017.9 199.9,1017.5 200.9,1017.2 201.9,1016.8 202.9,1016.4 203.9,1016.1 204.9,1015.7 205.9,1015.4 206.9,1015.2 207.9,1014.9 208.9,1014.6 209.9,1014.3 210.9,1014.0 211.9,1013.7 212.9,1013.2 213.9,1012.8 214.9,1012.3 215.9,1011.7 216.9,1011.2 217.9,1010.6 218.9,1010.0 219.9,1009.4 220.9,1008.8 221.9,1008.2 222.9,1007.6 223.9,1007.0 224.9,1006.4 225.9,1005.8 226.9,1005.2 227.9,1004.7 228.9,1004.3 229.9,1004.1 230.9,1003.9 231.9,1003.8 232.9,1003.8 233.9,1003.7 234.9,1003.7 235.9,1003.6 236.9,1003.5 237.9,1003.5 238.9,1003.3 239.9,1003.2 240.9,1003.0 241.9,1002.8 242.9,1002.5 243.9,1002.2 244.9,1001.9 245.9,1001.6 246.9,1001.3 247.9,1001.0 248.9,1000.7 249.9,1000.4 250.9,1000.0 251.9,999.7 252.9,999.4 253.9,999.1 254.9,998.8 255.9,998.5 256.9,998.3 257.9,998.2 258.9,998.1 259.9,998.2 260.9,998.5 261.9,998.8 262.9,999.3 263.9,999.9 264.9,1000.5 265.9,1001.3 266.9,1002.0 267.9,1002.9 268.9,1003.8 269.9,1004.9 270.9,1006.0 271.9,1007.2 272.9,1008.4 273.9,1009.6 274.9,1010.8 275.9,1012.1 276.9,1013.4 277.9,1014.7 278.9,1016.0 279.9,1017.3 280.9,1018.6 281.9,1019.8 282.9,1021.0 283.9,1022.1 284.9,1023.3 285.9,1024.3 286.9,1025.3 287.9,1026.2 288.9,1026.9 289.9,1027.5 290.9,1028.1 291.9,1028.6 292.9,1029.0 293.9,1029.5 294.9,1029.8 295.9,1030.2 296.9,1030.5 297.9,1030.9 298.9,1031.2 299.9,1031.5 300.9,1031.7 301.9,1032.0 302.9,1032.3 303.9,1032.6 304.9,1032.8 305.9,1033.0 306.9,1033.1 307.9,1033.2 308.9,1033.3 309.9,1033.3 310.9,1033.3 311.9,1033.3 312.9,1033.3 313.9,1033.3 314.9,1033.3 315.9,1033.3 316.9,1033.2 317.9,1033.2 318.9,1033.2 319.9,1033.2 320.9,1033.2 321.9,1033.2 322.9,1033.2 323.9,1033.2 324.9,1033.2 325.9,1033.1 326.9,1033.1 327.9,1033.1 328.9,1033.1 329.9,1033.1 330.9,1033.1 331.9,1033.1 332.9,1033.1 333.9,1033.1 334.9,1033.1 335.9,1033.1 336.9,1033.1 337.9,1033.0 338.9,1033.0 339.9,1033.0 340.9,1033.0 341.9,1033.0 342.9,1033.0 343.9,1033.0 344.9,1033.0 345.9,1033.0 346.9,1033.0 347.9,1033.0 348.9,1033.0 349.9,1033.0 350.9,1033.0 351.9,1033.0 352.9,1033.0 353.9,1033.0 354.9,1033.0 355.9,1033.0 356.9,1033.0 357.9,1032.9 358.9,1032.9 359.9,1032.9 360.9,1032.9 361.9,1032.9 362.9,1032.9 363.9,1032.9 364.9,1032.9 365.9,1032.9 366.9,1032.8 367.9,1032.8 368.9,1032.8 369.9,1032.8 370.9,1032.7 371.9,1032.7 372.9,1032.6 373.9,1032.4 374.9,1032.3 375.9,1032.1 376.9,1031.9 377.9,1031.7 378.9,1031.4 379.9,1031.2 380.9,1030.9 381.9,1030.6 382.9,1030.4 383.9,1030.1 384.9,1029.7 385.9,1029.4 386.9,1029.0 387.9,1028.5 388.9,1028.1 389.9,1027.6 390.9,1027.2 391.9,1026.7 392.9,1026.3 393.9,1025.8 394.9,1025.4 395.9,1025.0 396.9,1024.6 397.9,1024.2 398.9,1023.8 399.9,1023.4 400.9,1023.1 401.9,1022.8 402.9,1022.5 403.9,1022.3 404.9,1022.2 405.9,1022.2 406.9,1022.2 407.9,1022.3 408.9,1022.4 409.9,1022.5 410.9,1022.6 411.9,1022.8 412.9,1023.0 413.9,1023.2 414.9,1023.4 415.9,1023.6 416.9,1023.8 417.9,1024.1 418.9,1024.4 419.9,1024.7 420.9,1025.1 421.9,1025.4 422.9,1025.7 423.9,1025.9 424.9,1026.1 425.9,1026.3 426.9,1026.3 427.9,1026.3 428.9,1026.3 429.9,1026.2 430.9,1026.1 431.9,1025.9 432.9,1025.8 433.9,1025.6 434.9,1025.4 435.9,1025.2 436.9,1025.0 437.9,1024.8 438.9,1024.6 439.9,1024.4 440.9,1024.2 441.9,1024.0 442.9,1023.8 443.9,1023.7 444.9,1023.6 445.9,1023.6 446.9,1023.6 447.9,1023.6 448.9,1023.7 449.9,1023.9 450.9,1024.2 451.9,1024.5 452.9,1024.9 453.9,1025.3 454.9,1025.7 455.9,1026.1 456.9,1026.5 457.9,1026.9 458.9,1027.3 459.9,1027.8 460.9,1028.3 461.9,1028.8 462.9,1029.3 463.9,1029.9 464.9,1030.5 465.9,1031.0 466.9,1031.6 467.9,1032.1 468.9,1032.7 469.9,1033.1 470.9,1033.5 471.9,1033.9 472.9,1034.2 473.9,1034.5 474.9,1034.8 475.9,1035.0 476.9,1035.3 477.9,1035.5 478.9,1035.7 479.9,1035.9 480.9,1036.1 481.9,1036.3 482.9,1036.4 483.9,1036.6 484.9,1036.7 485.9,1036.7 486.9,1036.8 487.9,1036.8 488.9,1036.9 489.9,1036.9 490.9,1036.9 491.9,1036.9 492.9,1036.9 493.9,1037.0 494.9,1037.0 495.9,1037.0 496.9,1037.0 497.9,1037.0 498.9,1037.0 499.9,1037.1 500.9,1037.1 501.9,1037.1 502.9,1037.1 503.9,1037.1 504.9,1037.1 505.9,1037.1 506.9,1037.1 507.9,1037.1 508.9,1037.1 509.9,1037.0 510.9,1037.0 511.9,1036.9 512.9,1036.8 513.9,1036.7 514.9,1036.6 515.9,1036.5 516.9,1036.3 517.9,1036.1 518.9,1036.0 519.9,1035.7 520.9,1035.5 521.9,1035.2 522.9,1034.9 523.9,1034.6 524.9,1034.2 525.9,1033.8 526.9,1033.4 527.9,1032.9 528.9,1032.5 529.9,1032.0 530.9,1031.4 531.9,1030.8 532.9,1030.1 533.9,1029.3 534.9,1028.4 535.9,1027.5 536.9,1026.5 537.9,1025.4 538.9,1024.3 539.9,1023.2 540.9,1022.0 541.9,1020.8 542.9,1019.5 543.9,1018.1 544.9,1016.7 545.9,1015.2 546.9,1013.6 547.9,1012.1 548.9,1010.7 549.9,1009.4 550.9,1008.1 551.9,1007.0 552.9,1005.9 553.9,1004.9 554.9,1004.0 555.9,1003.1 556.9,1002.2 557.9,1001.4 558.9,1000.6 559.9,999.9 560.9,999.2 561.9,998.5 562.9,997.9 563.9,997.3 564.9,996.7 565.9,996.1 566.9,995.4 567.9,994.8 568.9,994.1 569.9,993.3 570.9,992.6 571.9,991.8 572.9,991.0 573.9,990.1 574.9,989.3 575.9,988.3 576.9,987.3 577.9,986.3 578.9,985.0 579.9,983.7 580.9,982.2 581.9,980.7 582.9,979.3 583.9,978.0 584.9,976.9 585.9,975.9 586.9,975.0 587.9,974.2 588.9,973.5 589.9,973.1 590.9,973.0 591.9,973.3 592.9,973.9 593.9,974.9 594.9,976.2 595.9,977.7 596.9,979.4 597.9,981.4 598.9,983.6 599.9,986.1 600.9,988.7 601.9,991.2 602.9,993.8 603.9,996.3 604.9,999.0 605.9,1001.7 606.9,1004.5 607.9,1007.4 608.9,1010.3 609.9,1013.0 610.9,1015.7 611.9,1018.2 612.9,1020.7 613.9,1023.0 614.9,1025.3 615.9,1027.5 616.9,1029.4 617.9,1031.2 618.9,1032.7 619.9,1034.2 620.9,1035.5 621.9,1036.7 622.9,1037.7 623.9,1038.6 624.9,1039.4 625.9,1040.2 626.9,1040.8 627.9,1041.4 628.9,1041.9 629.9,1042.4 630.9,1042.8 631.9,1043.2 632.9,1043.5 633.9,1043.7 634.9,1043.9 635.9,1044.1 636.9,1044.2 637.9,1044.4 638.9,1044.5 639.9,1044.6 640.9,1044.7 641.9,1044.7 642.9,1044.8 643.9,1044.9 644.9,1044.9 645.9,1045.0 646.9,1045.0 647.9,1045.0 648.9,1045.1 649.9,1045.1 650.9,1045.1 651.9,1045.2 652.9,1045.2 653.9,1045.3 654.9,1045.4 655.9,1045.4 656.9,1045.5 657.9,1045.7 658.9,1045.9 659.9,1046.3 660.9,1046.8 661.9,1047.3 662.9,1047.4 663.9,1046.9 664.9,1045.9 665.9,1045.3 666.9,1045.5 667.9,1046.4 668.9,1047.4 669.9,1048.0 670.9,1048.2 671.9,1048.1 672.9,1047.9 673.9,1047.6 674.3,1047.4" fill="none" stroke="#044804" stroke-width="4.0" stroke-linejoin="round" stroke-linecap="round" />
<polyline points="735.0,434.2 736.0,434.2 737.0,434.2 738.0,434.2 739.0,434.2 740.0,434.2 741.0,434.2 742.0,434.2 743.0,434.3 744.0,434.3 745.0,434.3 746.0,434.3 747.0,434.3 748.0,434.3 749.0,434.3 750.0,434.3 751.0,434.3 752.0,434.3 753.0,434.3 754.0,434.3 755.0,434.3 756.0,434.3 757.0,434.3 758.0,434.3 759.0,434.4 760.0,434.4 761.0,434.4 762.0,434.4 763.0,434.4 764.0,434.4 765.0,434.4 766.0,434.4 767.0,434.4 768.0,434.4 769.0,434.4 770.0,434.4 771.0,434.4 772.0,434.4 773.0,434.4 774.0,434.4 775.0,434.4 776.0,434.4 777.0,434.4 778.0,434.5 779.0,434.5 780.0,434.5 781.0,434.5 782.0,434.5 783.0,434.5 784.0,434.5 785.0,434.5 786.0,434.5 787.0,434.5 788.0,434.5 789.0,434.5 790.0,434.5 791.0,434.5 792.0,434.5 793.0,434.5 794.0,434.5 795.0,434.5 796.0,434.5 797.0,434.5 798.0,434.5 799.0,434.5 800.0,434.5 801.0,434.5 802.0,434.5 803.0,434.5 804.0,434.5 805.0,434.5 806.0,434.5 807.0,434.5 808.0,434.5 809.0,434.5 810.0,434.5 811.0,434.5 812.0,434.5 813.0,434.5 814.0,434.5 815.0,434.5 816.0,434.5 817.0,434.5 818.0,434.5 819.0,434.5 820.0,434.5 821.0,434.5 822.0,434.5 823.0,434.5 824.0,434.5 825.0,434.5 826.0,434.5 827.0,434.5 828.0,434.5 829.0,434.5 830.0,434.5 831.0,434.5 832.0,434.5 833.0,434.5 834.0,434.5 835.0,434.5 836.0,434.5 837.0,434.5 838.0,434.5 839.0,434.5 840.0,434.5 841.0,434.5 842.0,434.5 843.0,434.5 844.0,434.5 845.0,434.5 846.0,434.5 847.0,434.5 848.0,434.5 849.0,434.5 850.0,434.5 851.0,434.5 852.0,434.5 853.0,434.5 854.0,434.5 855.0,434.5 856.0,434.5 857.0,434.5 858.0,434.5 859.0,434.5 860.0,434.5 861.0,434.5 862.0,434.5 863.0,434.5 864.0,434.5 865.0,434.5 866.0,434.5 867.0,434.5 868.0,434.5 869.0,434.5 870.0,434.5 871.0,434.5 872.0,434.5 873.0,434.5 874.0,434.5 875.0,434.5 876.0,434.5 877.0,434.5 878.0,434.5 879.0,434.5 880.0,434.5 881.0,434.5 882.0,434.5 883.0,434.5 884.0,434.5 885.0,434.5 886.0,434.5 887.0,434.5 888.0,434.5 889.0,434.5 890.0,434.5 891.0,434.5 892.0,434.5 893.0,434.5 894.0,434.5 895.0,434.5 896.0,434.5 897.0,434.5 898.0,434.5 899.0,434.5 900.0,434.5 901.0,434.5 902.0,434.5 903.0,434.5 904.0,434.5 905.0,434.6 906.0,434.6 907.0,434.6 908.0,434.6 909.0,434.6 910.0,434.6 911.0,434.6 912.0,434.7 913.0,434.7 914.0,434.7 915.0,434.7 916.0,434.7 917.0,434.8 918.0,434.8 919.0,434.8 920.0,434.8 921.0,434.8 922.0,434.9 923.0,434.9 924.0,434.9 925.0,434.9 926.0,434.9 927.0,434.8 928.0,434.8 929.0,434.7 930.0,434.6 931.0,434.5 932.0,434.3 933.0,434.1 934.0,433.9 935.0,433.6 936.0,433.3 937.0,432.9 938.0,432.6 939.0,432.2 940.0,431.8 941.0,431.4 942.0,430.9 943.0,430.5 944.0,430.0 945.0,429.6 946.0,429.1 947.0,428.6 948.0,428.1 949.0,427.5 950.0,427.0 951.0,426.4 952.0,425.8 953.0,425.2 954.0,424.5 955.0,423.8 956.0,423.1 957.0,422.4 958.0,421.6 959.0,420.8 960.0,419.9 961.0,419.0 962.0,418.1 963.0,417.1 964.0,416.1 965.0,415.0 966.0,413.9 967.0,412.7 968.0,411.5 969.0,410.2 970.0,408.8 971.0,407.4 972.0,405.9 973.0,404.3 974.0,402.6 975.0,400.9 976.0,399.0 977.0,397.1 978.0,395.1 979.0,392.9 980.0,390.7 981.0,388.3 982.0,385.8 983.0,383.2 984.0,380.6 985.0,377.8 986.0,374.9 987.0,371.9 988.0,368.8 989.0,365.7 990.0,362.4 991.0,359.1 992.0,355.7 993.0,352.2 994.0,348.7 995.0,345.1 996.0,341.4 997.0,337.8 998.0,334.0 999.0,330.3 1000.0,326.5 1001.0,322.8 1002.0,319.0 1003.0,315.2 1004.0,311.3 1005.0,307.5 1006.0,303.7 1007.0,299.9 1008.0,296.0 1009.0,292.2 1010.0,288.4 1011.0,284.5 1012.0,280.7 1013.0,276.9 1014.0,273.1 1015.0,269.3 1016.0,265.5 1017.0,261.7 1018.0,257.9 1019.0,254.0 1020.0,250.2 1021.0,246.5 1022.0,242.7 1023.0,239.0 1024.0,235.4 1025.0,231.9 1026.0,228.5 1027.0,225.2 1028.0,222.2 1029.0,219.4 1030.0,216.8 1031.0,214.5 1032.0,212.5 1033.0,210.7 1034.0,209.2 1035.0,208.0 1036.0,207.0 1037.0,206.4 1038.0,206.0 1039.0,205.8 1040.0,205.9 1041.0,206.2 1042.0,206.7 1043.0,207.4 1044.0,208.3 1045.0,209.4 1046.0,210.7 1047.0,212.2 1048.0,213.8 1049.0,215.6 1050.0,217.5 1051.0,219.7 1052.0,221.9 1053.0,224.4 1054.0,226.9 1055.0,229.7 1056.0,232.5 1057.0,235.5 1058.0,238.7 1059.0,242.1 1060.0,245.6 1061.0,249.4 1062.0,253.3 1063.0,257.4 1064.0,261.7 1065.0,266.1 1066.0,270.7 1067.0,275.4 1068.0,280.2 1069.0,285.0 1070.0,289.8 1071.0,294.6 1072.0,299.4 1073.0,304.0 1074.0,308.5 1075.0,312.9 1076.0,317.0 1077.0,321.0 1078.0,324.8 1079.0,328.4 1080.0,331.7 1081.0,335.0 1082.0,338.1 1083.0,341.0 1084.0,343.9 1085.0,346.8 1086.0,349.6 1087.0,352.5 1088.0,355.2 1089.0,357.9 1090.0,360.5 1091.0,363.0 1092.0,365.4 1093.0,367.6 1094.0,369.6 1095.0,371.5 1096.0,373.1 1097.0,374.7 1098.0,376.1 1099.0,377.3 1100.0,378.4 1101.0,379.4 1102.0,380.3 1103.0,381.0 1104.0,381.6 1105.0,382.0 1106.0,382.3 1107.0,382.4 1108.0,382.3 1109.0,382.1 1110.0,381.7 1111.0,381.0 1112.0,380.3 1113.0,379.4 1114.0,378.3 1115.0,377.2 1116.0,375.9 1117.0,374.6 1118.0,373.2 1119.0,371.6 1120.0,369.9 1121.0,368.0 1122.0,366.0 1123.0,363.7 1124.0,361.2 1125.0,358.5 1126.0,355.5 1127.0,352.3 1128.0,348.9 1129.0,345.2 1130.0,341.4 1131.0,337.4 1132.0,333.2 1133.0,328.8 1134.0,324.3 1135.0,319.5 1136.0,314.5 1137.0,309.3 1138.0,303.9 1139.0,298.2 1140.0,292.4 1141.0,286.4 1142.0,280.2 1143.0,273.9 1144.0,267.4 1145.0,260.9 1146.0,254.4 1147.0,247.8 1148.0,241.3 1149.0,234.9 1150.0,228.5 1151.0,222.2 1152.0,216.0 1153.0,209.9 1154.0,203.8 1155.0,197.7 1156.0,191.7 1157.0,185.8 1158.0,179.9 1159.0,174.1 1160.0,168.4 1161.0,162.8 1162.0,157.3 1163.0,152.0 1164.0,146.8 1165.0,141.8 1166.0,136.9 1167.0,132.1 1168.0,127.5 1169.0,123.0 1170.0,118.6 1171.0,114.4 1172.0,110.3 1173.0,106.5 1174.0,102.9 1175.0,99.6 1176.0,96.7 1177.0,94.2 1178.0,92.1 1179.0,90.5 1180.0,89.3 1181.0,88.4 1182.0,87.9 1183.0,87.8 1184.0,87.9 1185.0,88.3 1186.0,89.0 1187.0,90.0 1188.0,91.3 1189.0,92.9 1190.0,94.8 1191.0,97.1 1192.0,99.6 1193.0,102.5 1194.0,105.6 1195.0,109.0 1196.0,112.6 1197.0,116.5 1198.0,120.6 1199.0,124.9 1200.0,129.5 1201.0,134.4 1202.0,139.5 1203.0,145.0 1204.0,150.8 1205.0,156.8 1206.0,163.1 1207.0,169.6 1208.0,176.3 1209.0,183.1 1210.0,190.1 1211.0,197.1 1212.0,204.2 1213.0,211.4 1214.0,218.7 1215.0,225.9 1216.0,233.1 1217.0,240.2 1218.0,247.2 1219.0,254.1 1220.0,260.7 1221.0,267.1 1222.0,273.3 1223.0,279.2 1224.0,284.8 1225.0,290.2 1226.0,295.4 1227.0,300.4 1228.0,305.3 1229.0,310.1 1230.0,314.9 1231.0,319.7 1232.0,324.4 1233.0,329.2 1234.0,334.1 1235.0,338.9 1236.0,343.8 1237.0,348.6 1238.0,353.5 1239.0,358.3 1240.0,363.0 1241.0,367.7 1242.0,372.2 1243.0,376.6 1244.0,380.9 1245.0,385.0 1246.0,388.9 1247.0,392.6 1248.0,396.0 1249.0,399.3 1250.0,402.4 1251.0,405.2 1252.0,407.9 1253.0,410.4 1254.0,412.8 1255.0,415.0 1256.0,417.0 1257.0,418.9 1258.0,420.6 1259.0,422.2 1260.0,423.7 1261.0,425.1 1262.0,426.3 1263.0,427.5 1264.0,428.5 1265.0,429.5 1266.0,430.5 1267.0,431.3 1268.0,432.1 1269.0,432.9 1270.0,433.6 1271.0,434.3 1272.0,434.9 1273.0,435.5 1274.0,436.0 1275.0,436.5 1276.0,436.9 1277.0,437.3 1278.0,437.7 1279.0,438.1 1280.0,438.4 1281.0,438.7 1282.0,438.9 1283.0,439.2 1284.0,439.4 1285.0,439.6 1286.0,439.8 1287.0,439.9 1288.0,440.1 1289.0,440.2 1290.0,440.3 1291.0,440.4 1292.0,440.5 1293.0,440.5 1294.0,440.6 1295.0,440.6 1296.0,440.7 1297.0,440.7 1298.0,440.8 1299.0,440.8 1300.0,440.8 1301.0,440.8 1302.0,440.9 1303.0,440.9 1304.0,440.9 1305.0,441.0 1306.0,441.0 1307.0,441.0 1308.0,441.0 1309.0,441.1 1310.0,441.1 1311.0,441.1 1312.0,441.1 1313.0,441.2 1314.0,441.2 1315.0,441.2 1316.0,441.2 1317.0,441.2 1318.0,441.3 1319.0,441.3 1320.0,441.3 1321.0,441.3 1322.0,441.4 1323.0,441.4 1324.0,441.4 1325.0,441.4 1326.0,441.5 1327.0,441.5 1328.0,441.5 1329.0,441.6 1330.0,441.6 1331.0,441.6 1332.0,441.7 1333.0,441.7 1334.0,441.7 1335.0,441.7 1336.0,441.8 1337.0,441.8 1338.0,441.8 1339.0,441.9 1340.0,441.9 1341.0,441.9 1342.0,442.0 1343.0,442.0 1344.0,442.0 1345.0,442.1 1346.0,442.1 1347.0,442.1 1348.0,442.2 1349.0,442.2 1350.0,442.2 1351.0,442.3 1352.0,442.3 1353.0,442.3 1354.0,442.4 1355.0,442.4 1356.0,442.5 1357.0,442.5 1358.0,442.5 1359.0,442.6 1360.0,442.6 1361.0,442.6 1362.0,442.7 1363.0,442.7 1364.0,442.8 1365.0,442.8 1366.0,442.8 1367.0,442.9 1368.0,442.9 1369.0,443.0 1370.0,443.0 1371.0,443.0 1372.0,443.1 1373.0,443.1 1374.0,443.2 1375.0,443.2 1376.0,443.2 1377.0,443.3 1378.0,443.3 1379.0,443.4 1380.0,443.4 1381.0,443.4 1382.0,443.5 1383.0,443.5 1384.0,443.5" fill="none" stroke="#0000b8" stroke-width="4.0" stroke-linejoin="round" stroke-linecap="round" />
<polyline points="735.0,758.4 736.0,758.4 737.0,758.4 738.0,758.4 739.0,758.4 740.0,758.4 741.0,758.4 742.0,758.4 743.0,758.4 744.0,758.4 745.0,758.4 746.0,758.4 747.0,758.4 748.0,758.4 749.0,758.4 750.0,758.4 751.0,758.4 752.0,758.4 753.0,758.4 754.0,758.4 755.0,758.4 756.0,758.4 757.0,758.4 758.0,758.4 759.0,758.4 760.0,758.4 761.0,758.4 762.0,758.4 763.0,758.4 764.0,758.4 765.0,758.4 766.0,758.4 767.0,758.4 768.0,758.4 769.0,758.4 770.0,758.4 771.0,758.4 772.0,758.4 773.0,758.4 774.0,758.4 775.0,758.4 776.0,758.4 777.0,758.4 778.0,758.4 779.0,758.4 780.0,758.4 781.0,758.4 782.0,758.4 783.0,758.4 784.0,758.4 785.0,758.4 786.0,758.4 787.0,758.4 788.0,758.4 789.0,758.4 790.0,758.4 791.0,758.4 792.0,758.4 793.0,758.4 794.0,758.4 795.0,758.4 796.0,758.4 797.0,758.4 798.0,758.4 799.0,758.4 800.0,758.4 801.0,758.4 802.0,758.4 803.0,758.4 804.0,758.4 805.0,758.4 806.0,758.4 807.0,758.4 808.0,758.4 809.0,758.4 810.0,758.4 811.0,758.4 812.0,758.4 813.0,758.4 814.0,758.4 815.0,758.4 816.0,758.4 817.0,758.4 818.0,758.5 819.0,758.5 820.0,758.5 821.0,758.5 822.0,758.5 823.0,758.5 824.0,758.5 825.0,758.5 826.0,758.5 827.0,758.5 828.0,758.5 829.0,758.5 830.0,758.5 831.0,758.5 832.0,758.5 833.0,758.6 834.0,758.6 835.0,758.6 836.0,758.6 837.0,758.6 838.0,758.6 839.0,758.6 840.0,758.6 841.0,758.6 842.0,758.6 843.0,758.6 844.0,758.6 845.0,758.7 846.0,758.7 847.0,758.7 848.0,758.7 849.0,758.7 850.0,758.7 851.0,758.7 852.0,758.7 853.0,758.7 854.0,758.7 855.0,758.7 856.0,758.8 857.0,758.8 858.0,758.8 859.0,758.8 860.0,758.8 861.0,758.8 862.0,758.8 863.0,758.8 864.0,758.8 865.0,758.8 866.0,758.8 867.0,758.8 868.0,758.9 869.0,758.9 870.0,758.9 871.0,758.9 872.0,758.9 873.0,758.9 874.0,758.9 875.0,758.9 876.0,758.9 877.0,758.9 878.0,758.9 879.0,758.9 880.0,758.9 881.0,759.0 882.0,759.0 883.0,759.0 884.0,759.0 885.0,759.0 886.0,759.0 887.0,759.0 888.0,759.0 889.0,759.0 890.0,759.0 891.0,759.0 892.0,759.0 893.0,759.0 894.0,759.0 895.0,759.0 896.0,759.0 897.0,759.0 898.0,759.0 899.0,759.0 900.0,759.0 901.0,758.9 902.0,758.9 903.0,758.8 904.0,758.8 905.0,758.7 906.0,758.6 907.0,758.5 908.0,758.3 909.0,758.2 910.0,758.1 911.0,757.9 912.0,757.7 913.0,757.5 914.0,757.3 915.0,757.1 916.0,756.9 917.0,756.7 918.0,756.5 919.0,756.2 920.0,756.0 921.0,755.7 922.0,755.4 923.0,755.0 924.0,754.7 925.0,754.3 926.0,753.9 927.0,753.5 928.0,753.0 929.0,752.5 930.0,752.0 931.0,751.5 932.0,751.0 933.0,750.4 934.0,749.8 935.0,749.2 936.0,748.6 937.0,748.0 938.0,747.4 939.0,746.7 940.0,746.1 941.0,745.4 942.0,744.7 943.0,744.0 944.0,743.3 945.0,742.5 946.0,741.7 947.0,740.9 948.0,740.1 949.0,739.3 950.0,738.4 951.0,737.5 952.0,736.5 953.0,735.6 954.0,734.6 955.0,733.5 956.0,732.5 957.0,731.4 958.0,730.2 959.0,729.1 960.0,727.8 961.0,726.5 962.0,725.1 963.0,723.7 964.0,722.2 965.0,720.6 966.0,718.9 967.0,717.2 968.0,715.4 969.0,713.6 970.0,711.7 971.0,709.8 972.0,707.9 973.0,705.9 974.0,704.0 975.0,702.0 976.0,700.0 977.0,698.0 978.0,695.9 979.0,693.9 980.0,691.7 981.0,689.6 982.0,687.4 983.0,685.2 984.0,683.0 985.0,680.7 986.0,678.4 987.0,676.0 988.0,673.6 989.0,671.1 990.0,668.6 991.0,666.0 992.0,663.3 993.0,660.5 994.0,657.7 995.0,654.9 996.0,652.0 997.0,649.0 998.0,646.0 999.0,643.0 1000.0,640.0 1001.0,637.0 1002.0,633.9 1003.0,630.9 1004.0,627.9 1005.0,624.8 1006.0,621.8 1007.0,618.8 1008.0,615.8 1009.0,612.9 1010.0,610.0 1011.0,607.1 1012.0,604.3 1013.0,601.5 1014.0,598.8 1015.0,596.1 1016.0,593.5 1017.0,591.0 1018.0,588.6 1019.0,586.2 1020.0,584.0 1021.0,581.8 1022.0,579.8 1023.0,577.8 1024.0,576.0 1025.0,574.3 1026.0,572.8 1027.0,571.4 1028.0,570.2 1029.0,569.1 1030.0,568.2 1031.0,567.5 1032.0,566.9 1033.0,566.5 1034.0,566.3 1035.0,566.3 1036.0,566.4 1037.0,566.6 1038.0,567.0 1039.0,567.5 1040.0,568.1 1041.0,568.9 1042.0,569.7 1043.0,570.6 1044.0,571.7 1045.0,572.8 1046.0,574.1 1047.0,575.4 1048.0,576.9 1049.0,578.5 1050.0,580.3 1051.0,582.1 1052.0,584.1 1053.0,586.1 1054.0,588.4 1055.0,590.7 1056.0,593.1 1057.0,595.7 1058.0,598.4 1059.0,601.2 1060.0,604.0 1061.0,606.9 1062.0,609.9 1063.0,612.9 1064.0,616.0 1065.0,619.1 1066.0,622.1 1067.0,625.2 1068.0,628.3 1069.0,631.3 1070.0,634.3 1071.0,637.3 1072.0,640.2 1073.0,643.0 1074.0,645.8 1075.0,648.4 1076.0,651.0 1077.0,653.5 1078.0,655.9 1079.0,658.2 1080.0,660.4 1081.0,662.5 1082.0,664.4 1083.0,666.3 1084.0,668.1 1085.0,669.8 1086.0,671.4 1087.0,672.9 1088.0,674.3 1089.0,675.7 1090.0,676.9 1091.0,678.0 1092.0,679.0 1093.0,679.9 1094.0,680.6 1095.0,681.2 1096.0,681.7 1097.0,681.9 1098.0,682.1 1099.0,682.0 1100.0,681.9 1101.0,681.6 1102.0,681.2 1103.0,680.7 1104.0,680.1 1105.0,679.5 1106.0,678.7 1107.0,677.8 1108.0,676.8 1109.0,675.7 1110.0,674.4 1111.0,673.0 1112.0,671.5 1113.0,669.8 1114.0,667.9 1115.0,665.8 1116.0,663.5 1117.0,661.0 1118.0,658.4 1119.0,655.6 1120.0,652.6 1121.0,649.5 1122.0,646.3 1123.0,643.1 1124.0,639.7 1125.0,636.2 1126.0,632.7 1127.0,629.2 1128.0,625.6 1129.0,621.9 1130.0,618.3 1131.0,614.6 1132.0,610.9 1133.0,607.2 1134.0,603.5 1135.0,599.7 1136.0,595.9 1137.0,592.0 1138.0,588.1 1139.0,584.2 1140.0,580.2 1141.0,576.2 1142.0,572.2 1143.0,568.1 1144.0,564.1 1145.0,560.0 1146.0,556.0 1147.0,551.9 1148.0,547.9 1149.0,543.8 1150.0,539.7 1151.0,535.6 1152.0,531.5 1153.0,527.4 1154.0,523.4 1155.0,519.3 1156.0,515.3 1157.0,511.4 1158.0,507.7 1159.0,504.1 1160.0,500.6 1161.0,497.4 1162.0,494.5 1163.0,491.7 1164.0,489.2 1165.0,486.9 1166.0,484.8 1167.0,482.9 1168.0,481.1 1169.0,479.4 1170.0,477.9 1171.0,476.4 1172.0,475.1 1173.0,474.0 1174.0,472.9 1175.0,472.1 1176.0,471.4 1177.0,470.9 1178.0,470.7 1179.0,470.7 1180.0,471.0 1181.0,471.5 1182.0,472.3 1183.0,473.3 1184.0,474.6 1185.0,476.1 1186.0,477.7 1187.0,479.6 1188.0,481.7 1189.0,484.0 1190.0,486.4 1191.0,489.1 1192.0,492.0 1193.0,495.1 1194.0,498.4 1195.0,501.9 1196.0,505.5 1197.0,509.3 1198.0,513.3 1199.0,517.3 1200.0,521.4 1201.0,525.6 1202.0,529.9 1203.0,534.3 1204.0,538.7 1205.0,543.3 1206.0,547.8 1207.0,552.5 1208.0,557.2 1209.0,562.0 1210.0,566.8 1211.0,571.6 1212.0,576.5 1213.0,581.4 1214.0,586.4 1215.0,591.3 1216.0,596.3 1217.0,601.4 1218.0,606.4 1219.0,611.4 1220.0,616.4 1221.0,621.4 1222.0,626.4 1223.0,631.4 1224.0,636.4 1225.0,641.3 1226.0,646.2 1227.0,651.0 1228.0,655.8 1229.0,660.5 1230.0,665.1 1231.0,669.6 1232.0,674.1 1233.0,678.5 1234.0,682.7 1235.0,686.9 1236.0,690.9 1237.0,694.9 1238.0,698.7 1239.0,702.3 1240.0,705.9 1241.0,709.2 1242.0,712.4 1243.0,715.5 1244.0,718.4 1245.0,721.1 1246.0,723.7 1247.0,726.2 1248.0,728.5 1249.0,730.8 1250.0,732.9 1251.0,734.9 1252.0,736.7 1253.0,738.5 1254.0,740.2 1255.0,741.8 1256.0,743.2 1257.0,744.6 1258.0,745.9 1259.0,747.1 1260.0,748.3 1261.0,749.3 1262.0,750.4 1263.0,751.3 1264.0,752.2 1265.0,753.1 1266.0,753.9 1267.0,754.7 1268.0,755.4 1269.0,756.0 1270.0,756.7 1271.0,757.2 1272.0,757.8 1273.0,758.2 1274.0,758.7 1275.0,759.1 1276.0,759.5 1277.0,759.8 1278.0,760.1 1279.0,760.5 1280.0,760.8 1281.0,761.0 1282.0,761.3 1283.0,761.5 1284.0,761.8 1285.0,762.0 1286.0,762.2 1287.0,762.4 1288.0,762.6 1289.0,762.8 1290.0,763.0 1291.0,763.2 1292.0,763.4 1293.0,763.5 1294.0,763.7 1295.0,763.8 1296.0,764.0 1297.0,764.1 1298.0,764.3 1299.0,764.4 1300.0,764.5 1301.0,764.7 1302.0,764.8 1303.0,764.9 1304.0,765.0 1305.0,765.2 1306.0,765.3 1307.0,765.4 1308.0,765.5 1309.0,765.6 1310.0,765.7 1311.0,765.8 1312.0,765.9 1313.0,766.0 1314.0,766.0 1315.0,766.1 1316.0,766.2 1317.0,766.3 1318.0,766.4 1319.0,766.4 1320.0,766.5 1321.0,766.6 1322.0,766.6 1323.0,766.7 1324.0,766.8 1325.0,766.8 1326.0,766.9 1327.0,767.0 1328.0,767.0 1329.0,767.1 1330.0,767.1 1331.0,767.2 1332.0,767.3 1333.0,767.3 1334.0,767.4 1335.0,767.4 1336.0,767.5 1337.0,767.6 1338.0,767.6 1339.0,767.7 1340.0,767.7 1341.0,767.8 1342.0,767.8 1343.0,767.9 1344.0,768.0 1345.0,768.0 1346.0,768.1 1347.0,768.1 1348.0,768.2 1349.0,768.2 1350.0,768.3 1351.0,768.3 1352.0,768.4 1353.0,768.4 1354.0,768.5 1355.0,768.5 1356.0,768.5 1357.0,768.6 1358.0,768.6 1359.0,768.7 1360.0,768.7 1361.0,768.7 1362.0,768.8 1363.0,768.8 1364.0,768.8 1365.0,768.9 1366.0,768.9 1367.0,768.9 1368.0,769.0 1369.0,769.0 1370.0,769.0 1371.0,769.0 1372.0,769.1 1373.0,769.1 1374.0,769.1 1375.0,769.1 1376.0,769.1 1377.0,769.1 1378.0,769.2 1379.0,769.2 1380.0,769.2 1381.0,769.2 1382.0,769.2 1383.0,769.2 1384.0,769.2" fill="none" stroke="#bc0000" stroke-width="4.0" stroke-linejoin="round" stroke-linecap="round" />
<polyline points="735.3,1046.6 736.3,1046.6 737.3,1046.6 738.3,1046.6 739.3,1046.6 740.3,1046.6 741.3,1046.6 742.3,1046.6 743.3,1046.6 744.3,1046.6 745.3,1046.6 746.3,1046.6 747.3,1046.6 748.3,1046.6 749.3,1046.6 750.3,1046.6 751.3,1046.6 752.3,1046.6 753.3,1046.6 754.3,1046.6 755.3,1046.6 756.3,1046.6 757.3,1046.6 758.3,1046.6 759.3,1046.6 760.3,1046.6 761.3,1046.6 762.3,1046.6 763.3,1046.6 764.3,1046.6 765.3,1046.6 766.3,1046.6 767.3,1046.6 768.3,1046.6 769.3,1046.6 770.3,1046.6 771.3,1046.6 772.3,1046.6 773.3,1046.6 774.3,1046.6 775.3,1046.6 776.3,1046.6 777.3,1046.6 778.3,1046.6 779.3,1046.6 780.3,1046.6 781.3,1046.6 782.3,1046.6 783.3,1046.6 784.3,1046.6 785.3,1046.6 786.3,1046.6 787.3,1046.6 788.3,1046.6 789.3,1046.6 790.3,1046.6 791.3,1046.6 792.3,1046.6 793.3,1046.6 794.3,1046.6 795.3,1046.6 796.3,1046.6 797.3,1046.6 798.3,1046.5 799.3,1046.5 800.3,1046.4 801.3,1046.4 802.3,1046.3 803.3,1046.2 804.3,1046.1 805.3,1046.0 806.3,1045.9 807.3,1045.8 808.3,1045.7 809.3,1045.5 810.3,1045.4 811.3,1045.2 812.3,1045.1 813.3,1045.0 814.3,1044.8 815.3,1044.7 816.3,1044.6 817.3,1044.5 818.3,1044.3 819.3,1044.2 820.3,1044.1 821.3,1044.0 822.3,1043.8 823.3,1043.7 824.3,1043.6 825.3,1043.4 826.3,1043.3 827.3,1043.1 828.3,1043.0 829.3,1042.8 830.3,1042.6 831.3,1042.4 832.3,1042.2 833.3,1042.0 834.3,1041.7 835.3,1041.4 836.3,1041.2 837.3,1040.9 838.3,1040.6 839.3,1040.3 840.3,1040.1 841.3,1039.8 842.3,1039.5 843.3,1039.2 844.3,1039.0 845.3,1038.7 846.3,1038.5 847.3,1038.2 848.3,1038.0 849.3,1037.8 850.3,1037.6 851.3,1037.4 852.3,1037.2 853.3,1037.1 854.3,1036.9 855.3,1036.7 856.3,1036.6 857.3,1036.4 858.3,1036.2 859.3,1036.1 860.3,1035.9 861.3,1035.8 862.3,1035.6 863.3,1035.4 864.3,1035.3 865.3,1035.1 866.3,1035.0 867.3,1034.8 868.3,1034.6 869.3,1034.5 870.3,1034.3 871.3,1034.2 872.3,1034.0 873.3,1033.8 874.3,1033.7 875.3,1033.5 876.3,1033.4 877.3,1033.2 878.3,1033.0 879.3,1032.9 880.3,1032.7 881.3,1032.5 882.3,1032.4 883.3,1032.2 884.3,1032.0 885.3,1031.8 886.3,1031.7 887.3,1031.5 888.3,1031.3 889.3,1031.1 890.3,1030.9 891.3,1030.7 892.3,1030.4 893.3,1030.2 894.3,1030.0 895.3,1029.7 896.3,1029.5 897.3,1029.2 898.3,1028.9 899.3,1028.6 900.3,1028.3 901.3,1028.0 902.3,1027.7 903.3,1027.3 904.3,1027.0 905.3,1026.6 906.3,1026.2 907.3,1025.8 908.3,1025.4 909.3,1025.0 910.3,1024.5 911.3,1024.1 912.3,1023.7 913.3,1023.2 914.3,1022.7 915.3,1022.3 916.3,1021.8 917.3,1021.3 918.3,1020.8 919.3,1020.3 920.3,1019.7 921.3,1019.2 922.3,1018.6 923.3,1018.1 924.3,1017.5 925.3,1016.9 926.3,1016.3 927.3,1015.7 928.3,1015.1 929.3,1014.5 930.3,1013.8 931.3,1013.2 932.3,1012.5 933.3,1011.8 934.3,1011.1 935.3,1010.4 936.3,1009.7 937.3,1009.0 938.3,1008.3 939.3,1007.5 940.3,1006.7 941.3,1006.0 942.3,1005.2 943.3,1004.4 944.3,1003.6 945.3,1002.7 946.3,1001.9 947.3,1001.1 948.3,1000.3 949.3,999.4 950.3,998.6 951.3,997.7 952.3,996.9 953.3,996.0 954.3,995.1 955.3,994.3 956.3,993.4 957.3,992.5 958.3,991.6 959.3,990.7 960.3,989.7 961.3,988.8 962.3,987.9 963.3,986.9 964.3,986.0 965.3,985.0 966.3,984.0 967.3,983.0 968.3,982.0 969.3,980.9 970.3,979.8 971.3,978.7 972.3,977.5 973.3,976.2 974.3,974.9 975.3,973.4 976.3,971.9 977.3,970.3 978.3,968.6 979.3,966.8 980.3,964.9 981.3,962.9 982.3,960.8 983.3,958.7 984.3,956.5 985.3,954.3 986.3,952.1 987.3,949.9 988.3,947.7 989.3,945.5 990.3,943.3 991.3,941.1 992.3,938.9 993.3,936.7 994.3,934.5 995.3,932.2 996.3,929.9 997.3,927.6 998.3,925.3 999.3,922.9 1000.3,920.5 1001.3,918.1 1002.3,915.7 1003.3,913.2 1004.3,910.8 1005.3,908.4 1006.3,906.1 1007.3,903.7 1008.3,901.5 1009.3,899.2 1010.3,897.1 1011.3,895.0 1012.3,892.9 1013.3,891.0 1014.3,889.1 1015.3,887.3 1016.3,885.6 1017.3,884.0 1018.3,882.6 1019.3,881.2 1020.3,879.9 1021.3,878.7 1022.3,877.6 1023.3,876.6 1024.3,875.6 1025.3,874.7 1026.3,873.9 1027.3,873.2 1028.3,872.7 1029.3,872.2 1030.3,871.8 1031.3,871.5 1032.3,871.4 1033.3,871.4 1034.3,871.4 1035.3,871.6 1036.3,871.9 1037.3,872.3 1038.3,872.8 1039.3,873.4 1040.3,874.0 1041.3,874.7 1042.3,875.5 1043.3,876.3 1044.3,877.2 1045.3,878.2 1046.3,879.3 1047.3,880.4 1048.3,881.6 1049.3,882.9 1050.3,884.3 1051.3,885.8 1052.3,887.4 1053.3,889.0 1054.3,890.7 1055.3,892.5 1056.3,894.2 1057.3,896.1 1058.3,897.9 1059.3,899.8 1060.3,901.7 1061.3,903.6 1062.3,905.5 1063.3,907.4 1064.3,909.3 1065.3,911.2 1066.3,913.2 1067.3,915.1 1068.3,917.0 1069.3,918.9 1070.3,920.8 1071.3,922.7 1072.3,924.5 1073.3,926.3 1074.3,928.0 1075.3,929.7 1076.3,931.3 1077.3,932.9 1078.3,934.5 1079.3,935.9 1080.3,937.4 1081.3,938.7 1082.3,940.0 1083.3,941.1 1084.3,942.2 1085.3,943.2 1086.3,944.1 1087.3,944.9 1088.3,945.6 1089.3,946.3 1090.3,946.9 1091.3,947.4 1092.3,947.9 1093.3,948.2 1094.3,948.6 1095.3,948.8 1096.3,949.0 1097.3,949.0 1098.3,949.0 1099.3,948.9 1100.3,948.7 1101.3,948.5 1102.3,948.1 1103.3,947.7 1104.3,947.2 1105.3,946.6 1106.3,946.0 1107.3,945.3 1108.3,944.5 1109.3,943.7 1110.3,942.8 1111.3,941.9 1112.3,940.9 1113.3,939.8 1114.3,938.7 1115.3,937.4 1116.3,936.1 1117.3,934.7 1118.3,933.3 1119.3,931.7 1120.3,930.1 1121.3,928.4 1122.3,926.6 1123.3,924.7 1124.3,922.8 1125.3,920.8 1126.3,918.7 1127.3,916.6 1128.3,914.4 1129.3,912.1 1130.3,909.8 1131.3,907.4 1132.3,905.0 1133.3,902.6 1134.3,900.1 1135.3,897.6 1136.3,895.0 1137.3,892.4 1138.3,889.8 1139.3,887.2 1140.3,884.5 1141.3,881.8 1142.3,879.2 1143.3,876.5 1144.3,873.8 1145.3,871.2 1146.3,868.5 1147.3,865.8 1148.3,863.2 1149.3,860.5 1150.3,857.9 1151.3,855.3 1152.3,852.6 1153.3,850.1 1154.3,847.5 1155.3,844.9 1156.3,842.4 1157.3,840.0 1158.3,837.6 1159.3,835.4 1160.3,833.2 1161.3,831.3 1162.3,829.5 1163.3,827.8 1164.3,826.3 1165.3,825.1 1166.3,823.9 1167.3,823.0 1168.3,822.2 1169.3,821.5 1170.3,821.0 1171.3,820.7 1172.3,820.5 1173.3,820.6 1174.3,820.8 1175.3,821.1 1176.3,821.6 1177.3,822.3 1178.3,823.0 1179.3,823.9 1180.3,824.8 1181.3,825.8 1182.3,826.9 1183.3,828.1 1184.3,829.4 1185.3,830.9 1186.3,832.6 1187.3,834.5 1188.3,836.6 1189.3,838.9 1190.3,841.5 1191.3,844.2 1192.3,847.0 1193.3,849.9 1194.3,852.9 1195.3,856.0 1196.3,859.2 1197.3,862.5 1198.3,865.8 1199.3,869.3 1200.3,872.9 1201.3,876.6 1202.3,880.5 1203.3,884.4 1204.3,888.4 1205.3,892.4 1206.3,896.5 1207.3,900.6 1208.3,904.8 1209.3,908.9 1210.3,913.0 1211.3,917.1 1212.3,921.2 1213.3,925.3 1214.3,929.3 1215.3,933.2 1216.3,937.1 1217.3,941.0 1218.3,944.7 1219.3,948.5 1220.3,952.1 1221.3,955.7 1222.3,959.2 1223.3,962.6 1224.3,966.0 1225.3,969.3 1226.3,972.6 1227.3,975.8 1228.3,978.9 1229.3,982.0 1230.3,985.0 1231.3,987.9 1232.3,990.8 1233.3,993.7 1234.3,996.5 1235.3,999.2 1236.3,1001.8 1237.3,1004.4 1238.3,1006.8 1239.3,1009.2 1240.3,1011.5 1241.3,1013.6 1242.3,1015.7 1243.3,1017.7 1244.3,1019.5 1245.3,1021.3 1246.3,1023.0 1247.3,1024.6 1248.3,1026.2 1249.3,1027.7 1250.3,1029.1 1251.3,1030.5 1252.3,1031.8 1253.3,1033.1 1254.3,1034.3 1255.3,1035.4 1256.3,1036.6 1257.3,1037.6 1258.3,1038.7 1259.3,1039.7 1260.3,1040.6 1261.3,1041.5 1262.3,1042.4 1263.3,1043.3 1264.3,1044.1 1265.3,1044.9 1266.3,1045.6 1267.3,1046.4 1268.3,1047.1 1269.3,1047.7 1270.3,1048.4 1271.3,1049.0 1272.3,1049.6 1273.3,1050.1 1274.3,1050.6 1275.3,1051.1 1276.3,1051.5 1277.3,1052.0 1278.3,1052.3 1279.3,1052.7 1280.3,1053.0 1281.3,1053.3 1282.3,1053.5 1283.3,1053.7 1284.3,1054.0 1285.3,1054.1 1286.3,1054.3 1287.3,1054.5 1288.3,1054.6 1289.3,1054.8 1290.3,1054.9 1291.3,1055.0 1292.3,1055.2 1293.3,1055.3 1294.3,1055.4 1295.3,1055.5 1296.3,1055.6 1297.3,1055.7 1298.3,1055.8 1299.3,1055.9 1300.3,1056.0 1301.3,1056.1 1302.3,1056.2 1303.3,1056.3 1304.3,1056.4 1305.3,1056.5 1306.3,1056.6 1307.3,1056.6 1308.3,1056.7 1309.3,1056.8 1310.3,1056.8 1311.3,1056.9 1312.3,1057.0 1313.3,1057.0 1314.3,1057.1 1315.3,1057.1 1316.3,1057.2 1317.3,1057.2 1318.3,1057.2 1319.3,1057.3 1320.3,1057.3 1321.3,1057.3 1322.3,1057.4 1323.3,1057.4 1324.3,1057.4 1325.3,1057.5 1326.3,1057.5 1327.3,1057.5 1328.3,1057.5 1329.3,1057.6 1330.3,1057.6 1331.3,1057.6 1332.3,1057.7 1333.3,1057.7 1334.3,1057.7 1335.3,1057.7 1336.3,1057.8 1337.3,1057.8 1338.3,1057.8 1339.3,1057.8 1340.3,1057.9 1341.3,1057.9 1342.3,1057.9 1343.3,1057.9 1344.3,1057.9 1345.3,1058.0 1346.3,1058.0 1347.3,1058.0 1348.3,1058.0 1349.3,1058.0 1350.3,1058.1 1351.3,1058.1 1352.3,1058.1 1353.3,1058.1 1354.3,1058.1 1355.3,1058.2 1356.3,1058.2 1357.3,1058.2 1358.3,1058.2 1359.3,1058.2 1360.3,1058.2 1361.3,1058.2 1362.3,1058.3 1363.3,1058.3 1364.3,1058.3 1365.3,1058.3 1366.3,1058.3 1367.3,1058.3 1368.3,1058.3 1369.3,1058.3 1370.3,1058.3 1371.3,1058.3 1372.3,1058.4 1373.3,1058.4 1374.3,1058.4 1375.3,1058.4 1376.3,1058.4 1377.3,1058.4 1378.3,1058.4 1379.3,1058.4 1380.3,1058.4 1381.3,1058.4 1382.3,1058.4 1383.3,1058.4 1384.0,1058.4" fill="none" stroke="#044804" stroke-width="4.0" stroke-linejoin="round" stroke-linecap="round" />
<rect x="36" y="81.8" width="639" height="988.4" fill="none" stroke="#000" stroke-width="3"/>
<rect x="734.3" y="80.2" width="652.2" height="986.8" fill="none" stroke="#000" stroke-width="3.2"/>
<line x1="86.4" y1="1066.5" x2="86.4" y2="1069" stroke="#000" stroke-width="1.6"/>
<line x1="136.9" y1="1063.2" x2="136.9" y2="1069" stroke="#000" stroke-width="1.6"/>
<line x1="187.4" y1="1066.5" x2="187.4" y2="1069" stroke="#000" stroke-width="1.6"/>
<line x1="237.9" y1="1063.2" x2="237.9" y2="1069" stroke="#000" stroke-width="1.6"/>
<line x1="288.5" y1="1066.5" x2="288.5" y2="1069" stroke="#000" stroke-width="1.6"/>
<line x1="339.0" y1="1063.2" x2="339.0" y2="1069" stroke="#000" stroke-width="1.6"/>
<line x1="389.5" y1="1066.5" x2="389.5" y2="1069" stroke="#000" stroke-width="1.6"/>
<line x1="440.0" y1="1063.2" x2="440.0" y2="1069" stroke="#000" stroke-width="1.6"/>
<line x1="490.5" y1="1066.5" x2="490.5" y2="1069" stroke="#000" stroke-width="1.6"/>
<line x1="541.1" y1="1063.2" x2="541.1" y2="1069" stroke="#000" stroke-width="1.6"/>
<line x1="591.6" y1="1066.5" x2="591.6" y2="1069" stroke="#000" stroke-width="1.6"/>
<line x1="642.1" y1="1063.2" x2="642.1" y2="1069" stroke="#000" stroke-width="1.6"/>
<line x1="793.3" y1="1063.4" x2="793.3" y2="1066" stroke="#000" stroke-width="1.6"/>
<line x1="852.6" y1="1060.1" x2="852.6" y2="1066" stroke="#000" stroke-width="1.6"/>
<line x1="911.9" y1="1063.4" x2="911.9" y2="1066" stroke="#000" stroke-width="1.6"/>
<line x1="971.2" y1="1060.1" x2="971.2" y2="1066" stroke="#000" stroke-width="1.6"/>
<line x1="1030.5" y1="1063.4" x2="1030.5" y2="1066" stroke="#000" stroke-width="1.6"/>
<line x1="1089.8" y1="1060.1" x2="1089.8" y2="1066" stroke="#000" stroke-width="1.6"/>
<line x1="1149.1" y1="1063.4" x2="1149.1" y2="1066" stroke="#000" stroke-width="1.6"/>
<line x1="1208.4" y1="1060.1" x2="1208.4" y2="1066" stroke="#000" stroke-width="1.6"/>
<line x1="1267.7" y1="1063.4" x2="1267.7" y2="1066" stroke="#000" stroke-width="1.6"/>
<line x1="1327.0" y1="1060.1" x2="1327.0" y2="1066" stroke="#000" stroke-width="1.6"/>
<path d="M539.3,339.5 L542,368.5 M529.8,352.3 L542,368.5 L551,350.8" fill="none" stroke="#000" stroke-width="2.8" stroke-linecap="round" stroke-linejoin="miter"/>
<path d="M640.6,347 L621.8,378.4 M621.6,359.8 L621.8,378.4 L639,368.4" fill="none" stroke="#000" stroke-width="2.8" stroke-linecap="round" stroke-linejoin="miter"/>
<path d="M1294.6,172.4 L1228.6,233.9 M1232.8,213 L1228.6,233.9 L1249.4,228.3" fill="none" stroke="#000" stroke-width="2.8" stroke-linecap="round" stroke-linejoin="miter"/>
<text transform="translate(196.44,255.60) scale(0.9510,1)" font-size="30.80" style="font-family:'Liberation Sans',sans-serif" fill="#000" stroke-width="0.55" stroke="#000">Cu 2p</text>
<text transform="translate(275.81,263.00) scale(1.0610,1)" font-size="22.50" style="font-family:'Liberation Sans',sans-serif" fill="#000" stroke-width="0.55" stroke="#000">1/2</text>
<text transform="translate(520.53,192.50) scale(0.9573,1)" font-size="30.80" style="font-family:'Liberation Sans',sans-serif" fill="#000" stroke-width="0.55" stroke="#000">Cu 2p</text>
<text transform="translate(599.88,199.90) scale(1.0919,1)" font-size="22.50" style="font-family:'Liberation Sans',sans-serif" fill="#000" stroke-width="0.55" stroke="#000">3/2</text>
<text transform="translate(588.41,281.20) scale(0.8925,1)" font-size="28.82" style="font-family:'Liberation Sans',sans-serif" fill="#000" stroke-width="0.55" stroke="#000">Cu</text>
<text transform="translate(489.02,317.10) scale(0.8434,1)" font-size="30.39" style="font-family:'Liberation Sans',sans-serif" fill="#000" stroke-width="0.55" stroke="#000">Cu</text>
<text transform="translate(588.41,319.30) scale(0.8881,1)" font-size="28.96" style="font-family:'Liberation Sans',sans-serif" fill="#000" stroke-width="0.55" stroke="#000">Cu</text>
<text transform="translate(365.23,366.30) scale(1.0095,1)" font-size="26.48" style="font-family:'Liberation Sans',sans-serif;font-style:italic" fill="#000" stroke-width="0.45" stroke="#000">satellites</text>
<text transform="translate(1061.71,116.70) scale(0.9940,1)" font-size="30.80" style="font-family:'Liberation Sans',sans-serif" fill="#000" stroke-width="0.55" stroke="#000">Zr 3d</text>
<text transform="translate(1133.65,123.10) scale(1.0530,1)" font-size="22.50" style="font-family:'Liberation Sans',sans-serif" fill="#000" stroke-width="0.55" stroke="#000">5/2</text>
<text transform="translate(928.41,185.00) scale(0.9940,1)" font-size="30.80" style="font-family:'Liberation Sans',sans-serif" fill="#000" stroke-width="0.55" stroke="#000">Zr 3d</text>
<text transform="translate(999.59,191.80) scale(1.0783,1)" font-size="22.50" style="font-family:'Liberation Sans',sans-serif" fill="#000" stroke-width="0.55" stroke="#000">3/2</text>
<text transform="translate(1251.72,156.10) scale(0.9833,1)" font-size="30.80" style="font-family:'Liberation Sans',sans-serif" fill="#000" stroke-width="0.55" stroke="#000">Zr(IV)</text>
<text transform="translate(58.10,343.30) scale(1.0340,1)" font-size="35.60" style="font-family:'Liberation Sans',sans-serif" fill="#1c1c8c" stroke-width="0.55" stroke="#1c1c8c">(1)</text>
<text transform="translate(59.46,671.25) scale(1.0059,1)" font-size="35.60" style="font-family:'Liberation Sans',sans-serif" fill="#c00000" stroke-width="0.55" stroke="#c00000">(2)</text>
<text transform="translate(58.31,959.00) scale(1.0289,1)" font-size="35.60" style="font-family:'Liberation Sans',sans-serif" fill="#0a520a" stroke-width="0.55" stroke="#0a520a">(3)</text>
<text transform="translate(11.70,1102.30) scale(0.9558,1)" font-size="28.82" style="font-family:'Liberation Sans',sans-serif;font-weight:bold">966</text>
<text transform="translate(112.73,1102.30) scale(0.9588,1)" font-size="28.82" style="font-family:'Liberation Sans',sans-serif;font-weight:bold">960</text>
<text transform="translate(213.79,1102.30) scale(0.9382,1)" font-size="28.82" style="font-family:'Liberation Sans',sans-serif;font-weight:bold">954</text>
<text transform="translate(314.82,1102.30) scale(0.9528,1)" font-size="28.82" style="font-family:'Liberation Sans',sans-serif;font-weight:bold">948</text>
<text transform="translate(415.85,1102.30) scale(0.9588,1)" font-size="28.82" style="font-family:'Liberation Sans',sans-serif;font-weight:bold">942</text>
<text transform="translate(516.90,1102.30) scale(0.9558,1)" font-size="28.82" style="font-family:'Liberation Sans',sans-serif;font-weight:bold">936</text>
<text transform="translate(617.93,1102.30) scale(0.9588,1)" font-size="28.82" style="font-family:'Liberation Sans',sans-serif;font-weight:bold">930</text>
<text transform="translate(710.24,1099.80) scale(1.0005,1)" font-size="28.10" style="font-family:'Liberation Sans',sans-serif;font-weight:bold">190</text>
<text transform="translate(828.85,1099.80) scale(0.9942,1)" font-size="28.10" style="font-family:'Liberation Sans',sans-serif;font-weight:bold">188</text>
<text transform="translate(947.45,1099.80) scale(0.9973,1)" font-size="28.10" style="font-family:'Liberation Sans',sans-serif;font-weight:bold">186</text>
<text transform="translate(1066.08,1099.80) scale(0.9786,1)" font-size="28.10" style="font-family:'Liberation Sans',sans-serif;font-weight:bold">184</text>
<text transform="translate(1184.64,1099.80) scale(1.0005,1)" font-size="28.10" style="font-family:'Liberation Sans',sans-serif;font-weight:bold">182</text>
<text transform="translate(1303.24,1099.80) scale(1.0005,1)" font-size="28.10" style="font-family:'Liberation Sans',sans-serif;font-weight:bold">180</text>
<text transform="translate(540.72,1178.40) scale(0.9618,1)" font-size="41.31" style="font-family:'Liberation Sans',sans-serif;font-weight:bold" fill="#000">Binding energy (eV)</text>
<text transform="translate(628.15,281.03) scale(1.0115,1)" font-size="29.28" style="font-family:'Liberation Sans',sans-serif" stroke-width="0.55" stroke="#000">(0)</text>
<text transform="translate(528.85,316.15) scale(1.0144,1)" font-size="29.17" style="font-family:'Liberation Sans',sans-serif" stroke-width="0.55" stroke="#000">(II)</text>
<text transform="translate(628.62,318.48) scale(0.9992,1)" font-size="28.53" style="font-family:'Liberation Sans',sans-serif" stroke-width="0.55" stroke="#000">(I)</text>
<text transform="translate(29.06,53.33) scale(1.0221,1)" font-size="42.20" style="font-family:'Liberation Serif',serif;font-weight:bold">(</text>
<text transform="translate(42.59,55.00) scale(0.9744,1)" font-size="44.68" style="font-family:'Liberation Serif',serif;font-weight:bold">a</text>
<text transform="translate(63.61,53.33) scale(1.0122,1)" font-size="42.20" style="font-family:'Liberation Serif',serif;font-weight:bold">)</text>
<text transform="translate(736.26,53.26) scale(1.0248,1)" font-size="42.09" style="font-family:'Liberation Serif',serif;font-weight:bold">(</text>
<text transform="translate(750.43,54.90) scale(0.9879,1)" font-size="46.33" style="font-family:'Liberation Serif',serif;font-weight:bold">b</text>
<text transform="translate(775.01,53.26) scale(1.0148,1)" font-size="42.09" style="font-family:'Liberation Serif',serif;font-weight:bold">)</text>
</svg>
</body></html>
